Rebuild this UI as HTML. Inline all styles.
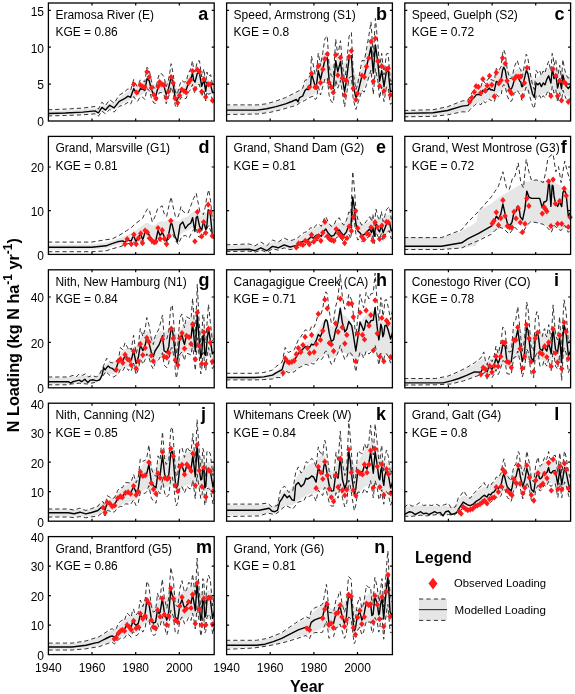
<!DOCTYPE html>
<html><head><meta charset="utf-8"><style>
html,body{margin:0;padding:0;background:#fff;}
svg{display:block;filter:blur(0.3px);}
text{font-family:"Liberation Sans",sans-serif;}
</style></head><body>
<svg width="575" height="694" viewBox="0 0 575 694">
<rect width="575" height="694" fill="#fff"/>

<g>
<clipPath id="cpa"><rect x="48.4" y="3.0" width="165.8" height="118.0"/></clipPath>
<g clip-path="url(#cpa)">
<polygon points="48.4,110.8 49.5,110.8 50.6,110.7 51.7,110.7 52.8,110.7 53.9,110.7 54.9,110.6 56.0,110.6 57.1,110.6 58.2,110.5 59.3,110.5 60.4,110.5 61.5,110.4 62.6,110.4 63.7,110.3 64.8,110.3 65.9,110.2 66.9,110.2 68.0,110.1 69.1,110.1 70.2,110.0 71.3,109.9 72.4,109.9 73.5,109.8 74.6,109.8 75.7,109.7 76.8,109.6 77.9,109.6 78.9,109.5 80.0,109.4 81.1,109.3 82.2,109.3 83.3,109.2 84.4,109.1 85.5,108.9 86.6,108.8 87.7,108.7 88.8,108.6 89.8,108.5 90.9,108.4 92.0,108.4 93.1,108.4 94.2,108.4 95.3,108.3 96.4,108.2 97.5,108.0 98.6,107.7 99.7,107.3 100.8,106.8 101.8,106.3 102.9,105.9 104.0,105.4 105.1,105.0 106.2,104.6 107.3,104.2 108.4,103.9 109.5,103.6 110.6,103.3 111.7,103.0 112.8,102.6 113.8,102.1 114.9,101.5 116.0,100.8 117.1,99.9 118.2,99.0 119.3,98.0 120.4,97.0 121.5,96.0 122.6,95.2 123.7,94.4 124.8,93.7 125.8,93.0 126.9,92.2 128.0,91.4 129.1,90.6 130.2,89.7 131.3,88.9 132.4,88.0 133.5,87.2 134.6,86.7 135.7,86.2 136.8,85.8 137.8,85.4 138.9,84.9 140.0,84.3 141.1,83.5 142.2,82.5 143.3,81.3 144.4,80.2 145.5,79.2 146.6,78.5 147.7,78.3 148.8,78.9 149.8,79.9 150.9,81.2 152.0,82.6 153.1,83.7 154.2,84.5 155.3,84.6 156.4,84.1 157.5,83.1 158.6,82.0 159.7,81.1 160.8,80.6 161.8,80.4 162.9,80.6 164.0,80.8 165.1,81.0 166.2,81.0 167.3,80.7 168.4,80.3 169.5,79.9 170.6,80.0 171.7,80.6 172.8,81.8 173.8,83.4 174.9,85.2 176.0,86.8 177.1,87.9 178.2,88.3 179.3,88.2 180.4,87.5 181.5,86.5 182.6,85.2 183.7,83.9 184.7,82.4 185.8,80.8 186.9,79.1 188.0,77.5 189.1,75.9 190.2,74.3 191.3,72.8 192.4,71.5 193.5,70.6 194.6,70.1 195.7,69.8 196.7,69.7 197.8,69.8 198.9,70.6 200.0,71.7 201.1,72.9 202.2,74.1 203.3,75.2 204.4,76.4 205.5,77.6 206.6,78.5 207.7,79.3 208.7,79.9 209.8,80.6 210.9,81.3 212.0,82.2 213.1,82.9 214.2,83.6 214.2,95.3 213.1,94.7 212.0,94.2 210.9,93.6 209.8,93.1 208.7,92.6 207.7,92.2 206.6,91.7 205.5,91.1 204.4,90.3 203.3,89.4 202.2,88.6 201.1,87.7 200.0,86.8 198.9,85.9 197.8,85.3 196.7,85.2 195.7,85.3 194.6,85.4 193.5,85.7 192.4,86.3 191.3,87.3 190.2,88.4 189.1,89.5 188.0,90.7 186.9,91.9 185.8,93.2 184.7,94.4 183.7,95.4 182.6,96.5 181.5,97.5 180.4,98.3 179.3,98.9 178.2,99.1 177.1,98.8 176.0,98.0 174.9,96.9 173.8,95.5 172.8,94.3 171.7,93.5 170.6,93.0 169.5,93.0 168.4,93.2 167.3,93.6 166.2,93.8 165.1,93.7 164.0,93.4 162.9,93.2 161.8,93.0 160.8,93.1 159.7,93.5 158.6,94.2 157.5,95.1 156.4,95.9 155.3,96.3 154.2,96.2 153.1,95.7 152.0,94.8 150.9,93.8 149.8,92.7 148.8,91.9 147.7,91.5 146.6,91.6 145.5,92.1 144.4,92.9 143.3,93.7 142.2,94.5 141.1,95.2 140.0,95.8 138.9,96.3 137.8,96.6 136.8,96.9 135.7,97.3 134.6,97.6 133.5,98.0 132.4,98.6 131.3,99.2 130.2,99.8 129.1,100.4 128.0,100.9 126.9,101.5 125.8,102.1 124.8,102.6 123.7,103.1 122.6,103.6 121.5,104.2 120.4,105.0 119.3,105.7 118.2,106.5 117.1,107.2 116.0,107.9 114.9,108.5 113.8,108.9 112.8,109.3 111.7,109.5 110.6,109.8 109.5,110.0 108.4,110.2 107.3,110.5 106.2,110.8 105.1,111.1 104.0,111.4 102.9,111.7 101.8,112.1 100.8,112.4 99.7,112.8 98.6,113.1 97.5,113.3 96.4,113.4 95.3,113.4 94.2,113.5 93.1,113.4 92.0,113.4 90.9,113.4 89.8,113.4 88.8,113.5 87.7,113.6 86.6,113.6 85.5,113.7 84.4,113.8 83.3,113.9 82.2,114.0 81.1,114.0 80.0,114.1 78.9,114.1 77.9,114.2 76.8,114.2 75.7,114.3 74.6,114.3 73.5,114.4 72.4,114.4 71.3,114.5 70.2,114.5 69.1,114.6 68.0,114.6 66.9,114.6 65.9,114.7 64.8,114.7 63.7,114.7 62.6,114.8 61.5,114.8 60.4,114.8 59.3,114.9 58.2,114.9 57.1,114.9 56.0,114.9 54.9,115.0 53.9,115.0 52.8,115.0 51.7,115.0 50.6,115.1 49.5,115.1 48.4,115.1" fill="#e6e6e6" stroke="none"/>
<polyline points="48.0,109.8 65.4,109.1 82.8,108.1 95.0,106.5 98.4,109.1 101.9,102.2 105.4,105.6 109.7,99.7 114.1,103.1 119.3,95.1 124.5,92.0 128.0,88.8 130.6,90.4 133.7,79.5 136.7,85.9 137.6,86.1 140.3,79.9 142.6,80.6 144.8,82.0 147.0,67.2 149.2,69.7 151.4,81.0 153.7,87.7 155.9,88.3 158.1,77.9 159.6,73.3 161.8,73.9 164.0,76.7 166.2,86.9 168.4,80.3 169.9,72.1 171.1,63.7 173.2,73.8 175.1,90.2 176.6,94.7 177.6,92.9 179.5,85.5 181.7,80.3 184.0,82.3 186.2,81.3 188.4,73.2 190.6,69.1 192.5,60.6 193.6,69.5 195.0,72.1 197.3,61.2 199.5,60.8 201.7,77.0 203.9,68.9 205.7,83.2 206.9,72.0 208.3,76.5 210.6,74.7 212.5,84.6 213.5,84.6 214.2,84.6" fill="none" stroke="#333" stroke-width="1" stroke-dasharray="4.3,2.9"/>
<polyline points="48.0,115.9 65.4,115.5 82.8,114.8 95.0,113.8 98.4,116.2 101.9,111.1 105.4,113.8 109.7,109.5 114.1,112.1 119.3,106.4 124.5,104.5 128.0,102.3 130.6,104.2 133.7,96.6 136.7,101.0 137.6,101.3 140.3,96.6 142.6,97.1 144.8,99.5 147.0,88.7 149.2,90.3 151.4,97.7 153.7,102.9 155.9,103.6 158.1,95.3 159.6,92.5 161.8,92.8 164.0,94.5 166.2,103.7 168.4,97.9 169.9,91.6 171.1,86.7 173.2,92.9 175.1,104.9 176.6,108.0 177.6,106.2 179.5,100.3 181.7,97.0 184.0,98.5 186.2,98.4 188.4,92.1 190.6,89.5 192.5,84.4 193.6,90.3 195.0,93.2 197.3,84.6 199.5,84.5 201.7,96.5 203.9,89.7 205.7,101.0 206.9,91.6 208.3,94.3 210.6,93.4 212.5,100.4 213.5,100.1 214.2,99.9" fill="none" stroke="#333" stroke-width="1" stroke-dasharray="4.3,2.9"/>
<polyline points="48.0,113.5 65.4,113.0 82.8,112.1 95.0,110.9 98.4,113.0 101.9,107.4 105.4,110.0 109.7,105.3 114.1,107.9 119.3,101.3 124.5,98.7 128.0,96.1 130.6,97.3 133.7,88.7 136.7,93.6 137.6,93.8 140.3,88.8 142.6,89.2 144.8,90.4 147.0,78.6 149.2,80.7 151.4,89.5 153.7,95.1 155.9,95.6 158.1,87.1 159.6,83.5 161.8,83.9 164.0,86.1 166.2,94.4 168.4,88.9 169.9,82.4 171.1,76.1 173.2,84.1 175.1,97.2 176.6,100.9 177.6,99.4 179.5,93.5 181.7,89.3 184.0,90.6 186.2,89.8 188.4,83.0 190.6,79.7 192.5,73.2 193.6,79.9 195.0,82.1 197.3,73.4 199.5,73.3 201.7,86.2 203.9,79.9 205.7,91.4 206.9,82.3 208.3,85.8 210.6,84.7 212.5,92.5 213.5,92.5 214.2,92.5" fill="none" stroke="#000" stroke-width="1.4" stroke-linejoin="round"/>
</g>
<path d="M133.7 81.2l2.7 3.1l-2.7 3.1l-2.7 -3.1z" fill="#ff1a1a"/>
<path d="M136.7 89.4l2.7 3.1l-2.7 3.1l-2.7 -3.1z" fill="#ff1a1a"/>
<path d="M140.3 82.0l2.7 3.1l-2.7 3.1l-2.7 -3.1z" fill="#ff1a1a"/>
<path d="M142.6 83.5l2.7 3.1l-2.7 3.1l-2.7 -3.1z" fill="#ff1a1a"/>
<path d="M144.8 84.2l2.7 3.1l-2.7 3.1l-2.7 -3.1z" fill="#ff1a1a"/>
<path d="M147.0 68.7l2.7 3.1l-2.7 3.1l-2.7 -3.1z" fill="#ff1a1a"/>
<path d="M149.2 73.9l2.7 3.1l-2.7 3.1l-2.7 -3.1z" fill="#ff1a1a"/>
<path d="M151.4 84.9l2.7 3.1l-2.7 3.1l-2.7 -3.1z" fill="#ff1a1a"/>
<path d="M153.7 91.6l2.7 3.1l-2.7 3.1l-2.7 -3.1z" fill="#ff1a1a"/>
<path d="M155.9 95.3l2.7 3.1l-2.7 3.1l-2.7 -3.1z" fill="#ff1a1a"/>
<path d="M158.1 83.5l2.7 3.1l-2.7 3.1l-2.7 -3.1z" fill="#ff1a1a"/>
<path d="M159.6 79.0l2.7 3.1l-2.7 3.1l-2.7 -3.1z" fill="#ff1a1a"/>
<path d="M161.8 81.2l2.7 3.1l-2.7 3.1l-2.7 -3.1z" fill="#ff1a1a"/>
<path d="M164.0 82.0l2.7 3.1l-2.7 3.1l-2.7 -3.1z" fill="#ff1a1a"/>
<path d="M166.2 94.6l2.7 3.1l-2.7 3.1l-2.7 -3.1z" fill="#ff1a1a"/>
<path d="M168.4 88.6l2.7 3.1l-2.7 3.1l-2.7 -3.1z" fill="#ff1a1a"/>
<path d="M171.1 73.9l2.7 3.1l-2.7 3.1l-2.7 -3.1z" fill="#ff1a1a"/>
<path d="M173.2 79.8l2.7 3.1l-2.7 3.1l-2.7 -3.1z" fill="#ff1a1a"/>
<path d="M175.1 95.3l2.7 3.1l-2.7 3.1l-2.7 -3.1z" fill="#ff1a1a"/>
<path d="M177.6 99.7l2.7 3.1l-2.7 3.1l-2.7 -3.1z" fill="#ff1a1a"/>
<path d="M179.5 92.3l2.7 3.1l-2.7 3.1l-2.7 -3.1z" fill="#ff1a1a"/>
<path d="M181.7 86.4l2.7 3.1l-2.7 3.1l-2.7 -3.1z" fill="#ff1a1a"/>
<path d="M184.0 87.9l2.7 3.1l-2.7 3.1l-2.7 -3.1z" fill="#ff1a1a"/>
<path d="M186.2 89.4l2.7 3.1l-2.7 3.1l-2.7 -3.1z" fill="#ff1a1a"/>
<path d="M188.4 79.8l2.7 3.1l-2.7 3.1l-2.7 -3.1z" fill="#ff1a1a"/>
<path d="M190.6 76.8l2.7 3.1l-2.7 3.1l-2.7 -3.1z" fill="#ff1a1a"/>
<path d="M192.5 67.9l2.7 3.1l-2.7 3.1l-2.7 -3.1z" fill="#ff1a1a"/>
<path d="M195.0 85.7l2.7 3.1l-2.7 3.1l-2.7 -3.1z" fill="#ff1a1a"/>
<path d="M197.3 66.5l2.7 3.1l-2.7 3.1l-2.7 -3.1z" fill="#ff1a1a"/>
<path d="M199.5 68.7l2.7 3.1l-2.7 3.1l-2.7 -3.1z" fill="#ff1a1a"/>
<path d="M201.7 88.6l2.7 3.1l-2.7 3.1l-2.7 -3.1z" fill="#ff1a1a"/>
<path d="M203.9 76.1l2.7 3.1l-2.7 3.1l-2.7 -3.1z" fill="#ff1a1a"/>
<path d="M205.7 93.8l2.7 3.1l-2.7 3.1l-2.7 -3.1z" fill="#ff1a1a"/>
<path d="M208.3 81.2l2.7 3.1l-2.7 3.1l-2.7 -3.1z" fill="#ff1a1a"/>
<path d="M210.6 81.2l2.7 3.1l-2.7 3.1l-2.7 -3.1z" fill="#ff1a1a"/>
<path d="M212.5 97.5l2.7 3.1l-2.7 3.1l-2.7 -3.1z" fill="#ff1a1a"/>
<rect x="48.4" y="3.0" width="165.8" height="118.0" fill="none" stroke="#000" stroke-width="1.3"/>
<path d="M92.0 121.0v-2.5M92.0 3.0v2.5M135.7 121.0v-2.5M135.7 3.0v2.5M179.3 121.0v-2.5M179.3 3.0v2.5M48.4 84.1h2.5M214.2 84.1h-2.5M48.4 47.2h2.5M214.2 47.2h-2.5M48.4 10.4h2.5M214.2 10.4h-2.5" stroke="#000" stroke-width="1.2" fill="none"/>
<text x="44" y="126.3" font-size="12" text-anchor="end">0</text>
<text x="44" y="89.4" font-size="12" text-anchor="end">5</text>
<text x="44" y="52.5" font-size="12" text-anchor="end">10</text>
<text x="44" y="15.7" font-size="12" text-anchor="end">15</text>
<text x="55.4" y="18.9" font-size="12">Eramosa River (E)</text>
<text x="55.4" y="36.3" font-size="12">KGE = 0.86</text>
<text x="198.3" y="19.5" font-size="18" font-weight="bold">a</text>
</g>
<g>
<clipPath id="cpb"><rect x="226.6" y="3.0" width="165.8" height="118.0"/></clipPath>
<g clip-path="url(#cpb)">
<polygon points="226.6,105.7 227.7,105.7 228.8,105.7 229.9,105.7 231.0,105.7 232.1,105.7 233.1,105.7 234.2,105.7 235.3,105.7 236.4,105.7 237.5,105.7 238.6,105.7 239.7,105.7 240.8,105.7 241.9,105.7 243.0,105.7 244.1,105.7 245.1,105.7 246.2,105.7 247.3,105.7 248.4,105.7 249.5,105.7 250.6,105.7 251.7,105.7 252.8,105.7 253.9,105.7 255.0,105.6 256.1,105.6 257.1,105.6 258.2,105.5 259.3,105.4 260.4,105.3 261.5,105.2 262.6,105.0 263.7,104.9 264.8,104.7 265.9,104.5 267.0,104.3 268.1,104.1 269.1,103.8 270.2,103.5 271.3,103.2 272.4,102.9 273.5,102.6 274.6,102.2 275.7,101.9 276.8,101.5 277.9,101.2 279.0,100.8 280.0,100.4 281.1,100.0 282.2,99.6 283.3,99.2 284.4,98.8 285.5,98.3 286.6,97.9 287.7,97.4 288.8,96.9 289.9,96.4 291.0,95.9 292.0,95.3 293.1,94.8 294.2,94.3 295.3,93.7 296.4,93.1 297.5,92.5 298.6,91.6 299.7,90.7 300.8,89.6 301.9,88.3 303.0,86.9 304.0,85.4 305.1,83.5 306.2,81.4 307.3,79.4 308.4,77.5 309.5,75.7 310.6,73.9 311.7,72.0 312.8,70.6 313.9,69.7 315.0,68.8 316.0,67.7 317.1,66.1 318.2,64.2 319.3,62.4 320.4,60.1 321.5,57.5 322.6,55.1 323.7,53.4 324.8,52.9 325.9,53.6 327.0,55.3 328.0,57.9 329.1,60.6 330.2,62.8 331.3,64.3 332.4,64.8 333.5,63.9 334.6,61.7 335.7,59.2 336.8,57.5 337.9,56.9 339.0,56.9 340.0,57.8 341.1,59.5 342.2,61.6 343.3,63.0 344.4,63.1 345.5,61.9 346.6,60.2 347.7,58.5 348.8,57.2 349.9,57.1 350.9,58.4 352.0,61.5 353.1,65.7 354.2,69.9 355.3,73.5 356.4,76.0 357.5,77.0 358.6,76.4 359.7,74.4 360.8,71.2 361.9,67.6 362.9,63.7 364.0,59.6 365.1,55.4 366.2,51.8 367.3,48.6 368.4,45.6 369.5,42.9 370.6,40.9 371.7,40.1 372.8,40.5 373.9,41.3 374.9,42.3 376.0,44.2 377.1,47.4 378.2,51.2 379.3,54.6 380.4,57.2 381.5,59.4 382.6,61.7 383.7,63.7 384.8,64.9 385.9,65.7 386.9,66.5 388.0,67.7 389.1,69.5 390.2,71.5 391.3,73.1 392.4,74.8 392.4,96.6 391.3,95.7 390.2,94.7 389.1,93.5 388.0,92.3 386.9,91.6 385.9,91.2 384.8,90.8 383.7,90.1 382.6,89.0 381.5,87.6 380.4,86.4 379.3,85.0 378.2,82.9 377.1,80.7 376.0,78.9 374.9,77.8 373.9,77.2 372.8,76.6 371.7,76.2 370.6,76.5 369.5,77.5 368.4,78.9 367.3,80.4 366.2,82.2 365.1,84.3 364.0,86.7 362.9,89.2 361.9,91.6 360.8,93.8 359.7,95.9 358.6,97.2 357.5,97.8 356.4,97.4 355.3,96.0 354.2,93.9 353.1,91.4 352.0,88.8 350.9,87.0 349.9,86.2 348.8,86.3 347.7,87.0 346.6,88.1 345.5,89.2 344.4,89.9 343.3,89.7 342.2,88.7 341.1,87.3 340.0,86.2 339.0,85.7 337.9,85.7 336.8,86.2 335.7,87.3 334.6,89.0 333.5,90.5 332.4,91.1 331.3,90.8 330.2,89.8 329.1,88.3 328.0,86.5 327.0,84.7 325.9,83.5 324.8,83.0 323.7,83.3 322.6,84.3 321.5,85.7 320.4,87.4 319.3,88.9 318.2,90.2 317.1,91.6 316.0,92.7 315.0,93.5 313.9,94.0 312.8,94.5 311.7,95.1 310.6,95.7 309.5,96.2 308.4,96.7 307.3,97.3 306.2,98.0 305.1,98.8 304.0,99.5 303.0,100.3 301.9,101.0 300.8,101.7 299.7,102.3 298.6,103.0 297.5,103.6 296.4,104.1 295.3,104.6 294.2,105.0 293.1,105.4 292.0,105.8 291.0,106.1 289.9,106.4 288.8,106.8 287.7,107.1 286.6,107.4 285.5,107.7 284.4,108.0 283.3,108.3 282.2,108.6 281.1,108.9 280.0,109.2 279.0,109.5 277.9,109.8 276.8,110.1 275.7,110.4 274.6,110.6 273.5,110.9 272.4,111.1 271.3,111.4 270.2,111.6 269.1,111.8 268.1,112.0 267.0,112.1 265.9,112.3 264.8,112.5 263.7,112.6 262.6,112.7 261.5,112.9 260.4,113.0 259.3,113.1 258.2,113.2 257.1,113.3 256.1,113.3 255.0,113.4 253.9,113.4 252.8,113.5 251.7,113.5 250.6,113.5 249.5,113.5 248.4,113.5 247.3,113.5 246.2,113.6 245.1,113.6 244.1,113.6 243.0,113.6 241.9,113.6 240.8,113.6 239.7,113.6 238.6,113.7 237.5,113.7 236.4,113.7 235.3,113.7 234.2,113.7 233.1,113.7 232.1,113.7 231.0,113.7 229.9,113.8 228.8,113.8 227.7,113.8 226.6,113.8" fill="#e6e6e6" stroke="none"/>
<polyline points="226.0,104.9 257.3,104.9 266.7,103.8 276.1,101.0 285.5,97.6 293.3,93.7 298.0,91.3 302.7,88.2 305.0,80.3 307.4,79.6 310.5,74.9 311.5,56.2 315.1,74.2 316.5,72.8 318.3,53.0 320.5,65.9 322.8,52.6 324.9,38.8 327.3,35.8 329.1,66.2 331.2,75.7 333.3,77.3 335.7,39.3 337.8,55.3 340.5,40.7 342.3,62.9 344.6,81.9 346.4,66.9 349.1,36.2 351.4,32.5 353.2,72.6 355.9,89.8 357.5,85.0 362.0,60.5 364.3,60.8 366.5,49.2 368.8,36.0 371.0,21.8 373.3,57.3 375.4,18.4 377.8,42.4 379.6,67.9 381.7,53.4 384.0,74.9 386.4,53.9 388.2,53.4 390.3,81.0 392.4,81.0" fill="none" stroke="#333" stroke-width="1" stroke-dasharray="4.3,2.9"/>
<polyline points="226.0,114.5 257.3,114.0 269.8,112.4 280.8,109.8 291.7,106.6 296.4,105.4 299.6,103.0 304.3,100.7 309.0,97.6 313.7,96.0 315.1,99.4 316.5,98.6 318.3,86.7 320.5,95.0 322.8,86.3 324.9,79.0 327.3,77.7 329.1,95.2 331.2,101.5 333.3,102.8 335.7,79.7 337.8,88.2 340.5,80.3 342.3,91.8 344.6,106.9 346.4,95.2 349.1,77.9 351.4,76.2 353.2,99.3 355.9,109.5 357.5,104.4 362.0,90.3 364.3,92.1 366.5,84.5 368.8,77.2 371.0,70.1 373.3,94.4 375.4,68.7 377.8,80.6 379.6,98.4 381.7,86.7 384.0,101.6 386.4,87.1 388.2,87.0 390.3,104.3 392.4,102.6" fill="none" stroke="#333" stroke-width="1" stroke-dasharray="4.3,2.9"/>
<polyline points="226.0,110.1 257.3,110.1 266.7,108.8 276.1,106.6 285.5,103.8 291.7,101.5 296.4,99.4 298.0,101.9 299.6,97.6 302.7,96.0 305.0,90.5 306.6,89.0 308.2,89.7 310.5,86.6 311.5,73.4 315.1,86.0 316.5,85.0 318.3,70.7 320.5,79.7 322.8,69.5 324.9,59.6 327.3,57.8 329.1,79.9 331.2,87.3 333.3,88.4 335.7,60.6 337.8,71.6 340.5,61.4 342.3,77.4 344.6,92.0 346.4,80.4 349.1,58.1 351.4,55.7 353.2,84.8 355.9,98.1 357.5,94.4 362.0,75.7 364.3,75.8 366.5,66.8 368.8,57.1 371.0,46.9 373.3,73.1 375.4,44.9 377.8,62.0 379.6,81.2 381.7,70.6 384.0,86.6 386.4,71.1 388.2,71.0 390.3,91.3 392.4,91.3" fill="none" stroke="#000" stroke-width="1.4" stroke-linejoin="round"/>
</g>
<path d="M309.3 84.1l2.7 3.1l-2.7 3.1l-2.7 -3.1z" fill="#ff1a1a"/>
<path d="M311.5 70.3l2.7 3.1l-2.7 3.1l-2.7 -3.1z" fill="#ff1a1a"/>
<path d="M315.1 84.1l2.7 3.1l-2.7 3.1l-2.7 -3.1z" fill="#ff1a1a"/>
<path d="M316.5 84.1l2.7 3.1l-2.7 3.1l-2.7 -3.1z" fill="#ff1a1a"/>
<path d="M318.3 63.1l2.7 3.1l-2.7 3.1l-2.7 -3.1z" fill="#ff1a1a"/>
<path d="M320.5 79.6l2.7 3.1l-2.7 3.1l-2.7 -3.1z" fill="#ff1a1a"/>
<path d="M322.8 66.2l2.7 3.1l-2.7 3.1l-2.7 -3.1z" fill="#ff1a1a"/>
<path d="M324.9 56.0l2.7 3.1l-2.7 3.1l-2.7 -3.1z" fill="#ff1a1a"/>
<path d="M327.3 50.9l2.7 3.1l-2.7 3.1l-2.7 -3.1z" fill="#ff1a1a"/>
<path d="M329.1 79.6l2.7 3.1l-2.7 3.1l-2.7 -3.1z" fill="#ff1a1a"/>
<path d="M331.2 84.1l2.7 3.1l-2.7 3.1l-2.7 -3.1z" fill="#ff1a1a"/>
<path d="M333.3 89.4l2.7 3.1l-2.7 3.1l-2.7 -3.1z" fill="#ff1a1a"/>
<path d="M335.7 51.8l2.7 3.1l-2.7 3.1l-2.7 -3.1z" fill="#ff1a1a"/>
<path d="M337.8 72.1l2.7 3.1l-2.7 3.1l-2.7 -3.1z" fill="#ff1a1a"/>
<path d="M340.5 54.5l2.7 3.1l-2.7 3.1l-2.7 -3.1z" fill="#ff1a1a"/>
<path d="M342.3 75.1l2.7 3.1l-2.7 3.1l-2.7 -3.1z" fill="#ff1a1a"/>
<path d="M344.6 92.1l2.7 3.1l-2.7 3.1l-2.7 -3.1z" fill="#ff1a1a"/>
<path d="M346.4 77.4l2.7 3.1l-2.7 3.1l-2.7 -3.1z" fill="#ff1a1a"/>
<path d="M349.1 53.6l2.7 3.1l-2.7 3.1l-2.7 -3.1z" fill="#ff1a1a"/>
<path d="M351.4 47.7l2.7 3.1l-2.7 3.1l-2.7 -3.1z" fill="#ff1a1a"/>
<path d="M353.2 85.3l2.7 3.1l-2.7 3.1l-2.7 -3.1z" fill="#ff1a1a"/>
<path d="M355.9 96.6l2.7 3.1l-2.7 3.1l-2.7 -3.1z" fill="#ff1a1a"/>
<path d="M357.5 90.3l2.7 3.1l-2.7 3.1l-2.7 -3.1z" fill="#ff1a1a"/>
<path d="M362.0 72.4l2.7 3.1l-2.7 3.1l-2.7 -3.1z" fill="#ff1a1a"/>
<path d="M364.3 73.9l2.7 3.1l-2.7 3.1l-2.7 -3.1z" fill="#ff1a1a"/>
<path d="M366.5 63.5l2.7 3.1l-2.7 3.1l-2.7 -3.1z" fill="#ff1a1a"/>
<path d="M368.8 54.9l2.7 3.1l-2.7 3.1l-2.7 -3.1z" fill="#ff1a1a"/>
<path d="M371.0 38.4l2.7 3.1l-2.7 3.1l-2.7 -3.1z" fill="#ff1a1a"/>
<path d="M373.3 78.2l2.7 3.1l-2.7 3.1l-2.7 -3.1z" fill="#ff1a1a"/>
<path d="M375.4 35.2l2.7 3.1l-2.7 3.1l-2.7 -3.1z" fill="#ff1a1a"/>
<path d="M377.8 58.1l2.7 3.1l-2.7 3.1l-2.7 -3.1z" fill="#ff1a1a"/>
<path d="M379.6 82.8l2.7 3.1l-2.7 3.1l-2.7 -3.1z" fill="#ff1a1a"/>
<path d="M381.7 63.1l2.7 3.1l-2.7 3.1l-2.7 -3.1z" fill="#ff1a1a"/>
<path d="M384.0 88.0l2.7 3.1l-2.7 3.1l-2.7 -3.1z" fill="#ff1a1a"/>
<path d="M386.4 66.2l2.7 3.1l-2.7 3.1l-2.7 -3.1z" fill="#ff1a1a"/>
<path d="M388.2 65.3l2.7 3.1l-2.7 3.1l-2.7 -3.1z" fill="#ff1a1a"/>
<path d="M390.3 91.8l2.7 3.1l-2.7 3.1l-2.7 -3.1z" fill="#ff1a1a"/>
<rect x="226.6" y="3.0" width="165.8" height="118.0" fill="none" stroke="#000" stroke-width="1.3"/>
<path d="M270.2 121.0v-2.5M270.2 3.0v2.5M313.9 121.0v-2.5M313.9 3.0v2.5M357.5 121.0v-2.5M357.5 3.0v2.5M226.6 84.1h2.5M392.4 84.1h-2.5M226.6 47.2h2.5M392.4 47.2h-2.5M226.6 10.4h2.5M392.4 10.4h-2.5" stroke="#000" stroke-width="1.2" fill="none"/>
<text x="233.6" y="18.9" font-size="12">Speed, Armstrong (S1)</text>
<text x="233.6" y="36.3" font-size="12">KGE = 0.8</text>
<text x="376.0" y="19.5" font-size="18" font-weight="bold">b</text>
</g>
<g>
<clipPath id="cpc"><rect x="404.8" y="3.0" width="165.8" height="118.0"/></clipPath>
<g clip-path="url(#cpc)">
<polygon points="404.8,110.8 405.9,110.8 407.0,110.8 408.1,110.8 409.2,110.8 410.3,110.8 411.3,110.7 412.4,110.7 413.5,110.7 414.6,110.7 415.7,110.6 416.8,110.6 417.9,110.6 419.0,110.5 420.1,110.5 421.2,110.5 422.3,110.5 423.3,110.4 424.4,110.4 425.5,110.4 426.6,110.3 427.7,110.3 428.8,110.3 429.9,110.2 431.0,110.2 432.1,110.1 433.2,110.0 434.3,109.8 435.3,109.7 436.4,109.5 437.5,109.3 438.6,109.1 439.7,108.9 440.8,108.6 441.9,108.4 443.0,108.2 444.1,107.9 445.2,107.7 446.2,107.4 447.3,107.1 448.4,106.8 449.5,106.4 450.6,106.1 451.7,105.7 452.8,105.3 453.9,104.9 455.0,104.5 456.1,104.1 457.2,103.7 458.2,103.3 459.3,102.9 460.4,102.6 461.5,102.2 462.6,101.9 463.7,101.5 464.8,101.1 465.9,100.5 467.0,99.8 468.1,98.8 469.2,97.7 470.2,96.4 471.3,95.0 472.4,93.6 473.5,92.2 474.6,90.9 475.7,89.8 476.8,88.7 477.9,87.8 479.0,87.1 480.1,86.4 481.2,85.7 482.2,85.0 483.3,84.3 484.4,83.7 485.5,83.1 486.6,82.5 487.7,82.0 488.8,81.6 489.9,81.0 491.0,80.4 492.1,79.7 493.2,78.8 494.2,77.6 495.3,76.1 496.4,74.2 497.5,72.2 498.6,70.0 499.7,67.9 500.8,66.0 501.9,64.4 503.0,63.7 504.1,63.8 505.2,64.9 506.2,66.7 507.3,68.8 508.4,70.8 509.5,72.5 510.6,73.4 511.7,73.6 512.8,72.9 513.9,71.8 515.0,70.7 516.1,69.8 517.2,69.3 518.2,69.1 519.3,69.2 520.4,69.2 521.5,69.1 522.6,68.7 523.7,68.1 524.8,67.6 525.9,67.5 527.0,68.1 528.1,69.5 529.1,71.5 530.2,73.6 531.3,75.9 532.4,77.8 533.5,79.0 534.6,79.3 535.7,78.8 536.8,77.9 537.9,77.0 539.0,76.0 540.1,75.1 541.1,74.3 542.2,73.5 543.3,72.7 544.4,72.1 545.5,71.1 546.6,69.8 547.7,68.6 548.8,67.5 549.9,66.7 551.0,66.2 552.1,65.8 553.1,65.9 554.2,66.6 555.3,67.6 556.4,68.6 557.5,69.5 558.6,70.0 559.7,70.7 560.8,71.3 561.9,71.8 563.0,72.1 564.1,72.7 565.1,73.4 566.2,74.3 567.3,75.1 568.4,75.7 569.5,76.3 570.6,76.9 570.6,96.8 569.5,96.4 568.4,96.2 567.3,95.8 566.2,95.3 565.1,94.8 564.1,94.5 563.0,94.2 561.9,94.1 560.8,93.9 559.7,93.5 558.6,93.1 557.5,92.8 556.4,92.3 555.3,91.6 554.2,91.0 553.1,90.5 552.1,90.4 551.0,90.6 549.9,90.8 548.8,91.2 547.7,91.8 546.6,92.5 545.5,93.2 544.4,93.7 543.3,94.0 542.2,94.4 541.1,95.0 540.1,95.5 539.0,96.2 537.9,96.9 536.8,97.6 535.7,98.3 534.6,98.7 533.5,98.6 532.4,97.9 531.3,96.7 530.2,95.2 529.1,93.8 528.1,92.6 527.0,91.6 525.9,91.2 524.8,91.2 523.7,91.5 522.6,91.9 521.5,92.1 520.4,92.1 519.3,92.0 518.2,92.0 517.2,92.0 516.1,92.4 515.0,92.9 513.9,93.7 512.8,94.5 511.7,95.0 510.6,95.0 509.5,94.5 508.4,93.5 507.3,92.3 506.2,91.0 505.2,89.9 504.1,89.2 503.0,89.0 501.9,89.5 500.8,90.4 499.7,91.6 498.6,92.8 497.5,94.1 496.4,95.2 495.3,96.2 494.2,97.1 493.2,97.7 492.1,98.1 491.0,98.5 489.9,98.8 488.8,99.1 487.7,99.4 486.6,99.7 485.5,100.1 484.4,100.4 483.3,100.8 482.2,101.2 481.2,101.6 480.1,102.0 479.0,102.4 477.9,102.8 476.8,103.3 475.7,103.9 474.6,104.6 473.5,105.4 472.4,106.2 471.3,107.1 470.2,108.0 469.2,108.8 468.1,109.5 467.0,110.0 465.9,110.4 464.8,110.7 463.7,111.0 462.6,111.1 461.5,111.3 460.4,111.4 459.3,111.6 458.2,111.8 457.2,112.0 456.1,112.3 455.0,112.5 453.9,112.7 452.8,113.0 451.7,113.2 450.6,113.4 449.5,113.7 448.4,113.9 447.3,114.1 446.2,114.2 445.2,114.4 444.1,114.5 443.0,114.7 441.9,114.8 440.8,115.0 439.7,115.1 438.6,115.2 437.5,115.3 436.4,115.5 435.3,115.6 434.3,115.7 433.2,115.7 432.1,115.8 431.0,115.9 429.9,115.9 428.8,115.9 427.7,116.0 426.6,116.0 425.5,116.0 424.4,116.0 423.3,116.0 422.3,116.0 421.2,116.1 420.1,116.1 419.0,116.1 417.9,116.1 416.8,116.1 415.7,116.1 414.6,116.2 413.5,116.2 412.4,116.2 411.3,116.2 410.3,116.2 409.2,116.2 408.1,116.2 407.0,116.3 405.9,116.3 404.8,116.3" fill="#e6e6e6" stroke="none"/>
<polyline points="404.0,110.5 433.0,109.7 447.6,106.7 462.1,101.0 468.0,100.1 469.8,96.7 471.9,92.9 474.3,89.6 475.2,88.0 476.1,86.4 478.4,85.7 480.9,86.9 482.9,80.2 485.4,83.5 487.2,80.5 489.5,77.2 490.4,79.8 491.8,79.7 493.1,80.6 494.3,80.9 496.3,68.3 498.8,70.8 501.1,66.7 502.6,53.5 503.8,49.6 505.3,54.2 507.1,68.5 509.6,78.5 511.5,78.6 512.8,74.4 514.2,67.1 516.0,62.9 517.3,60.4 518.7,65.3 519.9,68.8 520.8,69.8 521.7,75.6 522.6,75.6 523.5,70.2 524.4,65.2 526.2,54.2 527.1,55.7 528.0,58.9 529.8,71.0 532.5,85.0 534.3,89.6 536.1,70.3 537.9,73.1 539.7,70.7 541.4,75.7 543.2,70.9 545.0,73.3 546.8,66.2 548.6,61.3 550.9,71.0 552.2,53.3 553.1,56.8 554.0,65.3 555.8,59.6 557.6,77.7 559.7,65.2 561.5,78.5 562.9,59.5 564.2,67.4 566.0,74.8 568.3,78.3 571.0,73.1" fill="none" stroke="#333" stroke-width="1" stroke-dasharray="4.3,2.9"/>
<polyline points="404.0,116.8 433.0,116.4 447.6,114.8 462.1,111.8 468.0,112.0 469.8,109.8 471.9,107.5 474.3,105.6 475.2,104.8 476.1,103.9 478.4,103.5 480.9,104.8 482.9,100.7 485.4,102.9 487.2,100.7 489.5,99.0 490.4,100.3 491.8,100.5 493.1,101.3 494.3,101.9 496.3,94.4 498.8,96.6 501.1,95.0 502.6,86.4 503.8,84.5 505.3,86.9 507.1,95.5 509.6,101.4 511.5,101.1 512.8,98.2 514.2,93.6 516.0,91.5 517.3,90.2 518.7,92.6 519.9,94.4 520.8,95.1 521.7,100.1 522.6,100.3 523.5,95.9 524.4,92.5 526.2,87.0 527.1,87.8 528.0,89.3 529.8,96.5 532.5,105.5 534.3,108.6 536.1,95.6 537.9,96.8 539.7,95.6 541.4,99.0 543.2,95.6 545.0,97.8 546.8,93.1 548.6,90.6 550.9,98.2 552.2,86.5 553.1,88.3 554.0,93.2 555.8,89.7 557.6,102.3 559.7,92.7 561.5,102.1 562.9,90.0 564.2,93.8 566.0,98.5 568.3,100.9 571.0,96.8" fill="none" stroke="#333" stroke-width="1" stroke-dasharray="4.3,2.9"/>
<polyline points="404.0,113.4 433.0,112.8 447.6,110.5 462.1,106.1 468.0,105.4 469.8,102.7 471.9,99.8 474.3,97.3 475.2,96.1 476.1,94.9 478.4,94.3 480.9,95.2 482.9,90.3 485.4,92.6 487.2,90.3 489.5,87.9 490.4,89.7 491.8,89.7 493.1,90.4 494.3,90.6 496.3,81.4 498.8,82.8 501.1,79.7 502.6,70.0 503.8,67.2 505.3,70.5 507.1,81.1 509.6,88.8 511.5,88.8 512.8,85.6 514.2,80.1 516.0,77.1 517.3,75.3 518.7,78.8 519.9,81.3 520.8,82.1 521.7,86.5 522.6,86.5 523.5,82.4 524.4,78.6 526.2,70.8 527.1,71.8 528.0,74.1 529.8,83.0 532.5,93.7 534.3,97.3 536.1,83.0 537.9,84.8 539.7,83.0 541.4,86.6 543.2,83.0 545.0,84.8 546.8,79.4 548.6,75.8 550.9,83.0 552.2,70.1 553.1,72.5 554.0,78.6 555.8,74.6 557.6,88.1 559.7,78.8 561.5,88.8 562.9,75.0 564.2,80.5 566.0,85.9 568.3,88.6 571.0,84.8" fill="none" stroke="#000" stroke-width="1.4" stroke-linejoin="round"/>
</g>
<path d="M469.8 98.7l2.7 3.1l-2.7 3.1l-2.7 -3.1z" fill="#ff1a1a"/>
<path d="M471.9 94.6l2.7 3.1l-2.7 3.1l-2.7 -3.1z" fill="#ff1a1a"/>
<path d="M474.3 88.8l2.7 3.1l-2.7 3.1l-2.7 -3.1z" fill="#ff1a1a"/>
<path d="M476.1 83.1l2.7 3.1l-2.7 3.1l-2.7 -3.1z" fill="#ff1a1a"/>
<path d="M478.4 83.8l2.7 3.1l-2.7 3.1l-2.7 -3.1z" fill="#ff1a1a"/>
<path d="M480.9 89.7l2.7 3.1l-2.7 3.1l-2.7 -3.1z" fill="#ff1a1a"/>
<path d="M482.9 76.0l2.7 3.1l-2.7 3.1l-2.7 -3.1z" fill="#ff1a1a"/>
<path d="M485.4 87.4l2.7 3.1l-2.7 3.1l-2.7 -3.1z" fill="#ff1a1a"/>
<path d="M487.2 82.6l2.7 3.1l-2.7 3.1l-2.7 -3.1z" fill="#ff1a1a"/>
<path d="M489.5 72.7l2.7 3.1l-2.7 3.1l-2.7 -3.1z" fill="#ff1a1a"/>
<path d="M491.8 81.7l2.7 3.1l-2.7 3.1l-2.7 -3.1z" fill="#ff1a1a"/>
<path d="M494.3 93.3l2.7 3.1l-2.7 3.1l-2.7 -3.1z" fill="#ff1a1a"/>
<path d="M496.3 69.5l2.7 3.1l-2.7 3.1l-2.7 -3.1z" fill="#ff1a1a"/>
<path d="M498.8 80.4l2.7 3.1l-2.7 3.1l-2.7 -3.1z" fill="#ff1a1a"/>
<path d="M501.1 77.2l2.7 3.1l-2.7 3.1l-2.7 -3.1z" fill="#ff1a1a"/>
<path d="M502.6 54.8l2.7 3.1l-2.7 3.1l-2.7 -3.1z" fill="#ff1a1a"/>
<path d="M505.3 60.5l2.7 3.1l-2.7 3.1l-2.7 -3.1z" fill="#ff1a1a"/>
<path d="M507.1 77.7l2.7 3.1l-2.7 3.1l-2.7 -3.1z" fill="#ff1a1a"/>
<path d="M509.6 87.4l2.7 3.1l-2.7 3.1l-2.7 -3.1z" fill="#ff1a1a"/>
<path d="M511.5 90.3l2.7 3.1l-2.7 3.1l-2.7 -3.1z" fill="#ff1a1a"/>
<path d="M514.2 76.0l2.7 3.1l-2.7 3.1l-2.7 -3.1z" fill="#ff1a1a"/>
<path d="M516.0 73.6l2.7 3.1l-2.7 3.1l-2.7 -3.1z" fill="#ff1a1a"/>
<path d="M518.7 73.6l2.7 3.1l-2.7 3.1l-2.7 -3.1z" fill="#ff1a1a"/>
<path d="M520.8 73.6l2.7 3.1l-2.7 3.1l-2.7 -3.1z" fill="#ff1a1a"/>
<path d="M522.6 92.8l2.7 3.1l-2.7 3.1l-2.7 -3.1z" fill="#ff1a1a"/>
<path d="M524.4 79.9l2.7 3.1l-2.7 3.1l-2.7 -3.1z" fill="#ff1a1a"/>
<path d="M527.1 64.7l2.7 3.1l-2.7 3.1l-2.7 -3.1z" fill="#ff1a1a"/>
<path d="M550.9 92.8l2.7 3.1l-2.7 3.1l-2.7 -3.1z" fill="#ff1a1a"/>
<path d="M553.1 65.9l2.7 3.1l-2.7 3.1l-2.7 -3.1z" fill="#ff1a1a"/>
<path d="M555.8 72.7l2.7 3.1l-2.7 3.1l-2.7 -3.1z" fill="#ff1a1a"/>
<path d="M557.6 92.8l2.7 3.1l-2.7 3.1l-2.7 -3.1z" fill="#ff1a1a"/>
<path d="M559.7 77.7l2.7 3.1l-2.7 3.1l-2.7 -3.1z" fill="#ff1a1a"/>
<path d="M561.5 97.4l2.7 3.1l-2.7 3.1l-2.7 -3.1z" fill="#ff1a1a"/>
<path d="M564.2 79.0l2.7 3.1l-2.7 3.1l-2.7 -3.1z" fill="#ff1a1a"/>
<path d="M566.0 80.8l2.7 3.1l-2.7 3.1l-2.7 -3.1z" fill="#ff1a1a"/>
<path d="M568.3 98.7l2.7 3.1l-2.7 3.1l-2.7 -3.1z" fill="#ff1a1a"/>
<rect x="404.8" y="3.0" width="165.8" height="118.0" fill="none" stroke="#000" stroke-width="1.3"/>
<path d="M448.4 121.0v-2.5M448.4 3.0v2.5M492.1 121.0v-2.5M492.1 3.0v2.5M535.7 121.0v-2.5M535.7 3.0v2.5M404.8 84.1h2.5M570.6 84.1h-2.5M404.8 47.2h2.5M570.6 47.2h-2.5M404.8 10.4h2.5M570.6 10.4h-2.5" stroke="#000" stroke-width="1.2" fill="none"/>
<text x="411.8" y="18.9" font-size="12">Speed, Guelph (S2)</text>
<text x="411.8" y="36.3" font-size="12">KGE = 0.72</text>
<text x="554.5" y="19.5" font-size="18" font-weight="bold">c</text>
</g>
<g>
<clipPath id="cpd"><rect x="48.4" y="136.4" width="165.8" height="118.0"/></clipPath>
<g clip-path="url(#cpd)">
<polygon points="48.4,244.4 49.5,244.4 50.6,244.4 51.7,244.4 52.8,244.4 53.9,244.4 54.9,244.4 56.0,244.4 57.1,244.4 58.2,244.4 59.3,244.4 60.4,244.4 61.5,244.4 62.6,244.4 63.7,244.4 64.8,244.4 65.9,244.4 66.9,244.4 68.0,244.4 69.1,244.4 70.2,244.4 71.3,244.4 72.4,244.4 73.5,244.4 74.6,244.4 75.7,244.4 76.8,244.4 77.9,244.4 78.9,244.4 80.0,244.4 81.1,244.4 82.2,244.4 83.3,244.4 84.4,244.4 85.5,244.4 86.6,244.4 87.7,244.4 88.8,244.4 89.8,244.4 90.9,244.3 92.0,244.2 93.1,244.1 94.2,244.0 95.3,243.9 96.4,243.8 97.5,243.6 98.6,243.5 99.7,243.3 100.8,243.2 101.8,243.0 102.9,242.9 104.0,242.7 105.1,242.5 106.2,242.3 107.3,242.1 108.4,241.8 109.5,241.6 110.6,241.3 111.7,240.9 112.8,240.6 113.8,240.2 114.9,239.8 116.0,239.3 117.1,238.9 118.2,238.5 119.3,238.1 120.4,237.7 121.5,237.2 122.6,236.8 123.7,236.4 124.8,236.0 125.8,235.5 126.9,235.0 128.0,234.5 129.1,233.9 130.2,233.4 131.3,232.8 132.4,232.2 133.5,231.5 134.6,230.9 135.7,230.3 136.8,229.7 137.8,229.0 138.9,228.3 140.0,227.5 141.1,226.6 142.2,225.7 143.3,224.7 144.4,223.8 145.5,223.2 146.6,223.0 147.7,223.1 148.8,223.5 149.8,224.1 150.9,224.7 152.0,225.2 153.1,225.4 154.2,225.2 155.3,224.6 156.4,223.7 157.5,222.7 158.6,221.9 159.7,221.4 160.8,221.2 161.8,221.2 162.9,221.5 164.0,221.6 165.1,221.5 166.2,221.1 167.3,220.3 168.4,219.5 169.5,218.7 170.6,218.3 171.7,218.3 172.8,218.8 173.8,219.6 174.9,220.4 176.0,221.0 177.1,221.4 178.2,221.2 179.3,220.7 180.4,219.9 181.5,219.2 182.6,218.6 183.7,218.1 184.7,217.7 185.8,217.3 186.9,216.8 188.0,216.2 189.1,215.3 190.2,214.2 191.3,213.0 192.4,211.9 193.5,211.2 194.6,210.9 195.7,211.0 196.7,211.5 197.8,212.4 198.9,213.7 200.0,214.8 201.1,215.4 202.2,215.4 203.3,214.9 204.4,214.1 205.5,213.1 206.6,212.2 207.7,211.7 208.7,211.7 209.8,212.4 210.9,213.7 212.0,215.5 213.1,217.3 214.2,219.2 214.2,231.7 213.1,230.5 212.0,229.3 210.9,228.1 209.8,227.2 208.7,226.8 207.7,226.8 206.6,227.2 205.5,227.8 204.4,228.5 203.3,229.2 202.2,229.8 201.1,230.1 200.0,230.0 198.9,229.5 197.8,228.9 196.7,228.3 195.7,228.0 194.6,227.9 193.5,228.0 192.4,228.3 191.3,228.8 190.2,229.5 189.1,230.1 188.0,230.5 186.9,230.9 185.8,231.3 184.7,231.7 183.7,232.2 182.6,232.9 181.5,233.8 180.4,234.7 179.3,235.6 178.2,236.2 177.1,236.5 176.0,236.4 174.9,236.1 173.8,235.7 172.8,235.3 171.7,235.2 170.6,235.4 169.5,236.0 168.4,236.8 167.3,237.6 166.2,238.3 165.1,238.8 164.0,238.9 162.9,238.9 161.8,238.7 160.8,238.6 159.7,238.6 158.6,238.7 157.5,239.0 156.4,239.4 155.3,239.7 154.2,239.9 153.1,239.9 152.0,239.7 150.9,239.3 149.8,238.8 148.8,238.2 147.7,237.8 146.6,237.6 145.5,237.5 144.4,237.7 143.3,238.0 142.2,238.4 141.1,238.8 140.0,239.2 138.9,239.5 137.8,239.9 136.8,240.1 135.7,240.4 134.6,240.6 133.5,240.8 132.4,241.1 131.3,241.4 130.2,241.7 129.1,241.9 128.0,242.2 126.9,242.6 125.8,242.9 124.8,243.2 123.7,243.4 122.6,243.7 121.5,244.0 120.4,244.2 119.3,244.5 118.2,244.8 117.1,245.1 116.0,245.4 114.9,245.7 113.8,246.0 112.8,246.3 111.7,246.7 110.6,247.0 109.5,247.3 108.4,247.6 107.3,247.9 106.2,248.2 105.1,248.4 104.0,248.6 102.9,248.7 101.8,248.9 100.8,249.0 99.7,249.1 98.6,249.1 97.5,249.2 96.4,249.3 95.3,249.4 94.2,249.5 93.1,249.5 92.0,249.6 90.9,249.6 89.8,249.6 88.8,249.7 87.7,249.7 86.6,249.7 85.5,249.7 84.4,249.7 83.3,249.7 82.2,249.7 81.1,249.7 80.0,249.7 78.9,249.7 77.9,249.7 76.8,249.7 75.7,249.7 74.6,249.7 73.5,249.7 72.4,249.7 71.3,249.7 70.2,249.7 69.1,249.7 68.0,249.7 66.9,249.7 65.9,249.7 64.8,249.7 63.7,249.7 62.6,249.7 61.5,249.7 60.4,249.7 59.3,249.7 58.2,249.7 57.1,249.7 56.0,249.7 54.9,249.7 53.9,249.7 52.8,249.7 51.7,249.7 50.6,249.7 49.5,249.7 48.4,249.7" fill="#e6e6e6" stroke="none"/>
<polyline points="48.0,242.1 91.6,242.1 106.1,239.7 112.0,239.0 119.2,235.4 126.3,230.9 131.7,227.3 135.3,223.7 138.9,221.1 142.5,218.4 146.0,211.2 147.8,208.5 149.6,211.2 152.3,221.9 155.0,216.6 157.7,208.5 159.5,207.6 162.2,205.8 163.9,213.0 166.6,216.6 169.3,204.0 171.1,196.9 172.9,205.8 175.6,217.5 178.3,216.6 181.0,206.7 182.8,211.2 185.4,213.0 188.1,213.0 190.8,205.8 193.5,198.7 196.2,193.3 198.0,202.2 199.8,211.2 201.6,213.0 203.4,214.8 205.1,207.6 206.9,196.9 208.7,189.7 210.5,200.5 212.3,218.4 215.0,221.9" fill="none" stroke="#333" stroke-width="1" stroke-dasharray="4.3,2.9"/>
<polyline points="48.0,251.7 91.6,251.7 106.1,250.8 112.0,248.8 119.2,247.0 126.3,244.3 131.7,242.5 137.1,241.7 142.5,240.8 147.8,238.1 151.4,243.4 155.0,241.7 158.6,239.9 162.2,241.7 165.7,244.3 169.3,238.1 172.9,234.5 175.6,240.8 178.3,244.3 181.9,236.3 185.4,235.4 189.0,238.1 192.6,230.9 196.2,227.3 198.0,236.3 201.6,238.1 205.1,230.9 208.7,225.5 211.4,232.7 215.0,241.7" fill="none" stroke="#333" stroke-width="1" stroke-dasharray="4.3,2.9"/>
<polyline points="48.0,247.2 91.6,247.2 106.1,245.8 112.0,243.6 117.4,241.8 122.7,240.9 124.9,242.2 126.3,240.6 127.2,239.4 129.9,240.8 131.3,240.8 132.6,237.4 133.9,236.1 135.3,240.0 136.2,241.1 138.5,237.4 140.7,234.0 142.5,239.4 143.3,238.4 145.1,231.7 146.0,230.9 147.3,231.1 149.6,236.0 151.8,239.3 154.1,241.3 155.0,242.2 155.9,240.2 158.0,230.6 160.0,235.3 161.3,234.0 162.2,232.1 164.5,237.1 166.6,241.6 169.0,232.8 170.8,223.4 172.0,223.9 174.7,235.5 177.4,241.8 180.1,224.8 182.8,222.1 185.4,228.4 188.1,224.8 190.8,223.0 192.6,217.6 194.9,231.5 196.2,217.6 197.4,216.2 199.4,225.7 201.6,230.6 203.7,220.6 205.7,229.5 206.6,228.7 208.2,209.8 210.2,213.3 212.3,234.8 215.0,239.1" fill="none" stroke="#000" stroke-width="1.4" stroke-linejoin="round"/>
</g>
<path d="M124.9 241.0l2.7 3.1l-2.7 3.1l-2.7 -3.1z" fill="#ff1a1a"/>
<path d="M127.2 236.0l2.7 3.1l-2.7 3.1l-2.7 -3.1z" fill="#ff1a1a"/>
<path d="M131.3 241.0l2.7 3.1l-2.7 3.1l-2.7 -3.1z" fill="#ff1a1a"/>
<path d="M133.9 231.5l2.7 3.1l-2.7 3.1l-2.7 -3.1z" fill="#ff1a1a"/>
<path d="M136.2 241.0l2.7 3.1l-2.7 3.1l-2.7 -3.1z" fill="#ff1a1a"/>
<path d="M138.5 235.1l2.7 3.1l-2.7 3.1l-2.7 -3.1z" fill="#ff1a1a"/>
<path d="M140.7 230.3l2.7 3.1l-2.7 3.1l-2.7 -3.1z" fill="#ff1a1a"/>
<path d="M142.5 240.0l2.7 3.1l-2.7 3.1l-2.7 -3.1z" fill="#ff1a1a"/>
<path d="M145.1 227.4l2.7 3.1l-2.7 3.1l-2.7 -3.1z" fill="#ff1a1a"/>
<path d="M147.3 229.2l2.7 3.1l-2.7 3.1l-2.7 -3.1z" fill="#ff1a1a"/>
<path d="M149.6 235.1l2.7 3.1l-2.7 3.1l-2.7 -3.1z" fill="#ff1a1a"/>
<path d="M151.8 237.4l2.7 3.1l-2.7 3.1l-2.7 -3.1z" fill="#ff1a1a"/>
<path d="M154.1 239.2l2.7 3.1l-2.7 3.1l-2.7 -3.1z" fill="#ff1a1a"/>
<path d="M155.9 238.7l2.7 3.1l-2.7 3.1l-2.7 -3.1z" fill="#ff1a1a"/>
<path d="M158.0 224.9l2.7 3.1l-2.7 3.1l-2.7 -3.1z" fill="#ff1a1a"/>
<path d="M160.0 235.7l2.7 3.1l-2.7 3.1l-2.7 -3.1z" fill="#ff1a1a"/>
<path d="M162.2 227.1l2.7 3.1l-2.7 3.1l-2.7 -3.1z" fill="#ff1a1a"/>
<path d="M164.5 235.7l2.7 3.1l-2.7 3.1l-2.7 -3.1z" fill="#ff1a1a"/>
<path d="M166.6 241.0l2.7 3.1l-2.7 3.1l-2.7 -3.1z" fill="#ff1a1a"/>
<path d="M169.0 232.8l2.7 3.1l-2.7 3.1l-2.7 -3.1z" fill="#ff1a1a"/>
<path d="M170.8 217.7l2.7 3.1l-2.7 3.1l-2.7 -3.1z" fill="#ff1a1a"/>
<path d="M194.9 238.2l2.7 3.1l-2.7 3.1l-2.7 -3.1z" fill="#ff1a1a"/>
<path d="M197.4 208.8l2.7 3.1l-2.7 3.1l-2.7 -3.1z" fill="#ff1a1a"/>
<path d="M199.4 227.4l2.7 3.1l-2.7 3.1l-2.7 -3.1z" fill="#ff1a1a"/>
<path d="M201.6 233.3l2.7 3.1l-2.7 3.1l-2.7 -3.1z" fill="#ff1a1a"/>
<path d="M203.7 219.0l2.7 3.1l-2.7 3.1l-2.7 -3.1z" fill="#ff1a1a"/>
<path d="M205.7 229.7l2.7 3.1l-2.7 3.1l-2.7 -3.1z" fill="#ff1a1a"/>
<path d="M208.2 201.6l2.7 3.1l-2.7 3.1l-2.7 -3.1z" fill="#ff1a1a"/>
<path d="M210.2 208.8l2.7 3.1l-2.7 3.1l-2.7 -3.1z" fill="#ff1a1a"/>
<path d="M212.3 232.8l2.7 3.1l-2.7 3.1l-2.7 -3.1z" fill="#ff1a1a"/>
<rect x="48.4" y="136.4" width="165.8" height="118.0" fill="none" stroke="#000" stroke-width="1.3"/>
<path d="M92.0 254.4v-2.5M92.0 136.4v2.5M135.7 254.4v-2.5M135.7 136.4v2.5M179.3 254.4v-2.5M179.3 136.4v2.5M48.4 210.7h2.5M214.2 210.7h-2.5M48.4 167.0h2.5M214.2 167.0h-2.5" stroke="#000" stroke-width="1.2" fill="none"/>
<text x="44" y="259.7" font-size="12" text-anchor="end">0</text>
<text x="44" y="216.0" font-size="12" text-anchor="end">10</text>
<text x="44" y="172.3" font-size="12" text-anchor="end">20</text>
<text x="55.4" y="152.3" font-size="12">Grand, Marsville (G1)</text>
<text x="55.4" y="169.7" font-size="12">KGE = 0.81</text>
<text x="198.5" y="152.9" font-size="18" font-weight="bold">d</text>
</g>
<g>
<clipPath id="cpe"><rect x="226.6" y="136.4" width="165.8" height="118.0"/></clipPath>
<g clip-path="url(#cpe)">
<polygon points="226.6,245.4 227.7,245.4 228.8,245.4 229.9,245.4 231.0,245.4 232.1,245.3 233.1,245.3 234.2,245.3 235.3,245.2 236.4,245.2 237.5,245.2 238.6,245.1 239.7,245.1 240.8,245.0 241.9,245.0 243.0,245.0 244.1,245.0 245.1,244.9 246.2,245.0 247.3,245.0 248.4,245.1 249.5,245.2 250.6,245.4 251.7,245.5 252.8,245.6 253.9,245.6 255.0,245.5 256.1,245.3 257.1,245.1 258.2,244.8 259.3,244.6 260.4,244.5 261.5,244.5 262.6,244.6 263.7,244.7 264.8,244.7 265.9,244.7 267.0,244.6 268.1,244.3 269.1,243.9 270.2,243.4 271.3,243.0 272.4,242.6 273.5,242.3 274.6,242.1 275.7,242.0 276.8,241.9 277.9,241.8 279.0,241.6 280.0,241.3 281.1,241.1 282.2,240.8 283.3,240.6 284.4,240.5 285.5,240.5 286.6,240.5 287.7,240.7 288.8,240.8 289.9,240.9 291.0,240.9 292.0,240.8 293.1,240.6 294.2,240.2 295.3,239.8 296.4,239.2 297.5,238.6 298.6,237.9 299.7,237.1 300.8,236.4 301.9,235.6 303.0,234.9 304.0,234.2 305.1,233.5 306.2,232.8 307.3,232.2 308.4,231.6 309.5,230.9 310.6,230.3 311.7,229.7 312.8,229.2 313.9,228.6 315.0,228.1 316.0,227.6 317.1,227.1 318.2,226.5 319.3,225.9 320.4,225.3 321.5,224.6 322.6,223.9 323.7,223.4 324.8,223.0 325.9,223.0 327.0,223.2 328.0,223.7 329.1,224.2 330.2,224.7 331.3,225.0 332.4,225.0 333.5,224.7 334.6,224.2 335.7,223.6 336.8,223.1 337.9,222.8 339.0,222.6 340.0,222.7 341.1,222.8 342.2,222.8 343.3,222.6 344.4,222.2 345.5,220.9 346.6,218.6 347.7,215.6 348.8,212.4 349.9,209.4 350.9,206.7 352.0,204.3 353.1,203.4 354.2,204.3 355.3,206.6 356.4,209.7 357.5,213.0 358.6,216.3 359.7,219.5 360.8,222.0 361.9,223.4 362.9,224.0 364.0,223.9 365.1,223.6 366.2,223.0 367.3,222.4 368.4,221.8 369.5,221.2 370.6,220.6 371.7,220.1 372.8,219.7 373.9,219.5 374.9,219.0 376.0,218.5 377.1,218.4 378.2,218.4 379.3,218.4 380.4,218.1 381.5,217.6 382.6,217.3 383.7,216.8 384.8,216.2 385.9,215.5 386.9,214.9 388.0,214.6 389.1,214.5 390.2,214.7 391.3,215.2 392.4,215.6 392.4,233.8 391.3,233.5 390.2,233.2 389.1,233.0 388.0,233.0 386.9,233.2 385.9,233.6 384.8,234.0 383.7,234.5 382.6,234.7 381.5,235.0 380.4,235.3 379.3,235.5 378.2,235.5 377.1,235.5 376.0,235.6 374.9,235.9 373.9,236.2 372.8,236.2 371.7,236.4 370.6,236.7 369.5,236.9 368.4,237.3 367.3,237.6 366.2,237.9 365.1,238.3 364.0,238.6 362.9,238.8 361.9,238.6 360.8,237.8 359.7,236.4 358.6,234.6 357.5,232.8 356.4,230.9 355.3,229.1 354.2,227.7 353.1,227.2 352.0,227.8 350.9,229.2 349.9,230.8 348.8,232.5 347.7,234.3 346.6,236.0 345.5,237.2 344.4,237.9 343.3,238.0 342.2,238.0 341.1,237.9 340.0,237.8 339.0,237.7 337.9,237.8 336.8,238.0 335.7,238.3 334.6,238.7 333.5,239.1 332.4,239.3 331.3,239.3 330.2,239.1 329.1,238.8 328.0,238.4 327.0,238.1 325.9,238.0 324.8,238.0 323.7,238.2 322.6,238.6 321.5,239.0 320.4,239.4 319.3,239.7 318.2,240.1 317.1,240.4 316.0,240.7 315.0,240.9 313.9,241.3 312.8,241.6 311.7,241.9 310.6,242.3 309.5,242.7 308.4,243.1 307.3,243.4 306.2,243.8 305.1,244.1 304.0,244.6 303.0,245.0 301.9,245.4 300.8,245.9 299.7,246.3 298.6,246.8 297.5,247.2 296.4,247.6 295.3,247.9 294.2,248.2 293.1,248.4 292.0,248.6 291.0,248.6 289.9,248.6 288.8,248.5 287.7,248.5 286.6,248.4 285.5,248.3 284.4,248.3 283.3,248.4 282.2,248.5 281.1,248.7 280.0,248.8 279.0,249.0 277.9,249.1 276.8,249.2 275.7,249.2 274.6,249.3 273.5,249.4 272.4,249.6 271.3,249.8 270.2,250.1 269.1,250.4 268.1,250.6 267.0,250.8 265.9,250.9 264.8,250.9 263.7,250.9 262.6,250.8 261.5,250.8 260.4,250.8 259.3,250.8 258.2,250.9 257.1,251.1 256.1,251.2 255.0,251.3 253.9,251.4 252.8,251.4 251.7,251.4 250.6,251.3 249.5,251.2 248.4,251.1 247.3,251.1 246.2,251.0 245.1,251.0 244.1,251.0 243.0,251.0 241.9,251.1 240.8,251.1 239.7,251.1 238.6,251.1 237.5,251.1 236.4,251.2 235.3,251.2 234.2,251.2 233.1,251.2 232.1,251.3 231.0,251.3 229.9,251.3 228.8,251.3 227.7,251.3 226.6,251.3" fill="#e6e6e6" stroke="none"/>
<polyline points="226.0,244.8 249.2,244.0 255.0,245.9 260.9,242.0 266.7,245.9 272.5,240.1 278.3,242.0 284.1,238.1 290.0,240.9 293.6,239.7 297.2,238.5 300.7,234.9 304.3,232.5 307.9,231.3 310.6,227.6 313.3,228.9 316.0,225.2 318.7,224.0 321.3,226.4 324.0,219.1 325.8,216.5 328.5,222.8 331.2,226.4 333.9,225.2 336.6,219.0 339.3,217.8 341.1,221.6 343.7,225.2 346.4,220.4 348.8,211.9 350.9,214.3 352.7,171.5 354.1,184.5 355.9,209.5 357.7,219.2 359.9,221.6 361.7,225.2 364.3,224.0 367.0,220.4 369.7,216.6 371.5,221.6 372.9,214.1 374.2,226.4 376.0,209.0 377.8,216.8 379.6,220.4 381.4,211.6 383.1,221.6 384.9,215.6 386.7,209.2 389.4,206.7 391.2,219.2 393.0,216.8" fill="none" stroke="#333" stroke-width="1" stroke-dasharray="4.3,2.9"/>
<polyline points="226.0,251.6 249.2,251.2 255.0,252.3 260.9,250.1 266.7,252.3 272.5,249.0 278.3,250.1 284.1,247.9 290.0,249.6 293.6,248.9 297.2,248.4 300.7,246.2 304.3,244.8 307.9,244.4 310.6,242.1 313.3,243.2 316.0,240.8 318.7,240.1 321.3,242.5 324.0,237.4 325.8,236.1 328.5,239.7 331.2,242.2 333.9,241.3 336.6,237.4 339.3,236.8 341.1,238.9 343.7,241.9 346.4,238.6 348.8,234.3 350.9,238.6 352.7,211.9 354.1,218.6 355.9,234.0 357.7,239.9 359.9,239.1 361.7,241.5 364.3,240.5 367.0,238.1 369.7,236.1 371.5,239.6 372.9,234.7 374.2,243.9 376.0,232.1 377.8,236.1 379.6,239.1 381.4,233.4 383.1,240.3 384.9,235.7 386.7,232.1 389.4,230.7 391.2,238.9 393.0,236.4" fill="none" stroke="#333" stroke-width="1" stroke-dasharray="4.3,2.9"/>
<polyline points="226.0,249.9 249.2,249.3 255.0,250.7 260.9,247.8 266.7,250.7 272.5,246.4 278.3,247.8 284.1,244.9 290.0,247.0 293.6,246.1 297.2,245.2 300.7,242.5 304.3,240.8 307.9,239.9 310.6,237.2 313.3,238.1 316.0,235.4 318.7,234.5 321.3,236.3 324.0,230.9 325.8,229.1 328.5,233.6 331.2,236.3 333.9,235.4 336.6,230.9 339.3,230.0 341.1,232.7 343.7,235.4 346.4,231.8 348.8,225.5 350.9,227.3 352.7,196.9 354.1,205.8 355.9,223.7 357.7,230.9 359.9,232.7 361.7,235.4 364.3,234.5 367.0,231.8 369.7,229.1 371.5,232.7 372.9,227.3 374.2,236.3 376.0,223.7 377.8,229.1 379.6,231.8 381.4,225.5 383.1,232.7 384.9,228.2 386.7,223.7 389.4,221.9 391.2,230.9 393.0,229.1" fill="none" stroke="#000" stroke-width="1.4" stroke-linejoin="round"/>
</g>
<path d="M296.3 244.3l2.7 3.1l-2.7 3.1l-2.7 -3.1z" fill="#ff1a1a"/>
<path d="M298.6 240.3l2.7 3.1l-2.7 3.1l-2.7 -3.1z" fill="#ff1a1a"/>
<path d="M300.7 240.7l2.7 3.1l-2.7 3.1l-2.7 -3.1z" fill="#ff1a1a"/>
<path d="M302.9 241.8l2.7 3.1l-2.7 3.1l-2.7 -3.1z" fill="#ff1a1a"/>
<path d="M305.2 237.7l2.7 3.1l-2.7 3.1l-2.7 -3.1z" fill="#ff1a1a"/>
<path d="M307.4 238.6l2.7 3.1l-2.7 3.1l-2.7 -3.1z" fill="#ff1a1a"/>
<path d="M309.3 241.2l2.7 3.1l-2.7 3.1l-2.7 -3.1z" fill="#ff1a1a"/>
<path d="M311.5 231.7l2.7 3.1l-2.7 3.1l-2.7 -3.1z" fill="#ff1a1a"/>
<path d="M313.8 238.6l2.7 3.1l-2.7 3.1l-2.7 -3.1z" fill="#ff1a1a"/>
<path d="M316.3 235.0l2.7 3.1l-2.7 3.1l-2.7 -3.1z" fill="#ff1a1a"/>
<path d="M318.3 233.2l2.7 3.1l-2.7 3.1l-2.7 -3.1z" fill="#ff1a1a"/>
<path d="M320.8 237.7l2.7 3.1l-2.7 3.1l-2.7 -3.1z" fill="#ff1a1a"/>
<path d="M322.8 229.6l2.7 3.1l-2.7 3.1l-2.7 -3.1z" fill="#ff1a1a"/>
<path d="M324.9 218.8l2.7 3.1l-2.7 3.1l-2.7 -3.1z" fill="#ff1a1a"/>
<path d="M327.3 233.2l2.7 3.1l-2.7 3.1l-2.7 -3.1z" fill="#ff1a1a"/>
<path d="M329.4 235.9l2.7 3.1l-2.7 3.1l-2.7 -3.1z" fill="#ff1a1a"/>
<path d="M331.7 236.8l2.7 3.1l-2.7 3.1l-2.7 -3.1z" fill="#ff1a1a"/>
<path d="M333.9 237.7l2.7 3.1l-2.7 3.1l-2.7 -3.1z" fill="#ff1a1a"/>
<path d="M336.2 226.0l2.7 3.1l-2.7 3.1l-2.7 -3.1z" fill="#ff1a1a"/>
<path d="M338.7 230.5l2.7 3.1l-2.7 3.1l-2.7 -3.1z" fill="#ff1a1a"/>
<path d="M341.1 233.2l2.7 3.1l-2.7 3.1l-2.7 -3.1z" fill="#ff1a1a"/>
<path d="M342.8 234.1l2.7 3.1l-2.7 3.1l-2.7 -3.1z" fill="#ff1a1a"/>
<path d="M344.6 240.0l2.7 3.1l-2.7 3.1l-2.7 -3.1z" fill="#ff1a1a"/>
<path d="M347.0 235.0l2.7 3.1l-2.7 3.1l-2.7 -3.1z" fill="#ff1a1a"/>
<path d="M349.1 223.3l2.7 3.1l-2.7 3.1l-2.7 -3.1z" fill="#ff1a1a"/>
<path d="M351.4 227.8l2.7 3.1l-2.7 3.1l-2.7 -3.1z" fill="#ff1a1a"/>
<path d="M353.6 213.8l2.7 3.1l-2.7 3.1l-2.7 -3.1z" fill="#ff1a1a"/>
<path d="M355.7 207.7l2.7 3.1l-2.7 3.1l-2.7 -3.1z" fill="#ff1a1a"/>
<path d="M357.7 225.1l2.7 3.1l-2.7 3.1l-2.7 -3.1z" fill="#ff1a1a"/>
<path d="M361.7 233.5l2.7 3.1l-2.7 3.1l-2.7 -3.1z" fill="#ff1a1a"/>
<path d="M364.0 236.4l2.7 3.1l-2.7 3.1l-2.7 -3.1z" fill="#ff1a1a"/>
<path d="M366.7 230.5l2.7 3.1l-2.7 3.1l-2.7 -3.1z" fill="#ff1a1a"/>
<path d="M368.8 231.4l2.7 3.1l-2.7 3.1l-2.7 -3.1z" fill="#ff1a1a"/>
<path d="M371.0 224.2l2.7 3.1l-2.7 3.1l-2.7 -3.1z" fill="#ff1a1a"/>
<path d="M372.9 237.7l2.7 3.1l-2.7 3.1l-2.7 -3.1z" fill="#ff1a1a"/>
<path d="M375.1 219.2l2.7 3.1l-2.7 3.1l-2.7 -3.1z" fill="#ff1a1a"/>
<path d="M377.4 223.9l2.7 3.1l-2.7 3.1l-2.7 -3.1z" fill="#ff1a1a"/>
<path d="M379.6 235.9l2.7 3.1l-2.7 3.1l-2.7 -3.1z" fill="#ff1a1a"/>
<path d="M381.9 222.4l2.7 3.1l-2.7 3.1l-2.7 -3.1z" fill="#ff1a1a"/>
<path d="M384.0 233.2l2.7 3.1l-2.7 3.1l-2.7 -3.1z" fill="#ff1a1a"/>
<path d="M386.4 218.8l2.7 3.1l-2.7 3.1l-2.7 -3.1z" fill="#ff1a1a"/>
<path d="M388.2 219.2l2.7 3.1l-2.7 3.1l-2.7 -3.1z" fill="#ff1a1a"/>
<rect x="226.6" y="136.4" width="165.8" height="118.0" fill="none" stroke="#000" stroke-width="1.3"/>
<path d="M270.2 254.4v-2.5M270.2 136.4v2.5M313.9 254.4v-2.5M313.9 136.4v2.5M357.5 254.4v-2.5M357.5 136.4v2.5M226.6 210.7h2.5M392.4 210.7h-2.5M226.6 167.0h2.5M392.4 167.0h-2.5" stroke="#000" stroke-width="1.2" fill="none"/>
<text x="233.6" y="152.3" font-size="12">Grand, Shand Dam (G2)</text>
<text x="233.6" y="169.7" font-size="12">KGE = 0.81</text>
<text x="376.1" y="152.9" font-size="18" font-weight="bold">e</text>
</g>
<g>
<clipPath id="cpf"><rect x="404.8" y="136.4" width="165.8" height="118.0"/></clipPath>
<g clip-path="url(#cpf)">
<polygon points="404.0,237.6 441.5,237.6 461.7,231.3 476.2,222.6 478.7,210.9 491.3,203.7 500.2,196.6 509.2,191.2 518.2,185.8 525.3,182.2 532.5,180.5 539.7,180.5 546.8,180.5 554.0,182.2 561.1,185.8 571.0,191.2 571.0,228.8 561.1,228.8 550.4,227.0 543.2,224.3 536.1,222.5 527.1,222.5 518.2,224.3 509.2,227.0 500.2,228.8 491.3,232.4 478.7,239.6 476.2,245.7 461.7,248.0 441.5,249.5 404.0,249.5" fill="#e6e6e6" stroke="none"/>
<polyline points="404.0,237.6 441.5,237.6 461.7,229.8 468.0,222.0 478.7,211.2 491.3,196.9 494.9,191.5 498.5,186.2 502.9,171.8 506.5,187.9 509.2,189.7 512.8,177.2 514.9,176.3 518.2,162.9 520.8,182.6 523.5,187.9 526.2,159.3 528.9,171.8 531.6,180.8 536.1,179.9 539.7,180.8 543.2,182.6 545.9,171.8 547.7,159.3 550.4,155.7 553.1,153.9 555.8,171.8 558.5,166.5 561.1,182.6 564.7,161.1 567.4,171.8 570.1,180.8 571.0,182.6" fill="none" stroke="#333" stroke-width="1" stroke-dasharray="4.3,2.9"/>
<polyline points="404.0,249.5 441.5,249.5 461.7,248.0 468.0,244.9 478.7,240.5 491.3,234.2 494.9,230.6 499.3,227.0 503.8,228.8 509.2,234.2 514.6,227.0 521.7,234.2 527.1,225.2 530.7,221.7 536.1,222.5 543.2,224.3 548.6,228.8 551.3,232.4 554.0,225.2 557.6,228.8 561.1,230.6 564.7,225.2 568.3,232.4 571.0,228.8" fill="none" stroke="#333" stroke-width="1" stroke-dasharray="4.3,2.9"/>
<polyline points="404.0,246.3 441.5,246.3 461.7,242.8 468.0,238.7 478.7,233.3 491.3,226.1 492.2,224.8 494.0,222.1 494.9,220.1 496.3,216.2 497.6,217.6 498.5,219.1 500.8,214.1 502.9,203.9 505.1,214.1 507.4,223.4 509.6,225.7 511.9,222.5 512.8,218.2 514.0,211.9 516.0,211.4 517.3,206.5 518.2,206.1 519.1,207.9 520.3,216.9 522.6,219.9 525.0,208.4 526.8,191.1 528.9,197.1 531.6,198.4 539.7,198.4 542.3,207.7 544.1,201.8 545.4,201.9 546.8,200.3 547.7,192.3 548.6,183.5 549.5,184.6 550.9,206.4 552.2,185.2 553.1,186.0 554.0,195.9 555.4,203.1 557.6,206.4 559.7,202.0 561.7,206.6 562.9,193.0 564.2,189.5 566.2,194.7 568.3,216.3 570.1,213.1 571.0,213.7" fill="none" stroke="#000" stroke-width="1.4" stroke-linejoin="round"/>
</g>
<path d="M492.2 220.3l2.7 3.1l-2.7 3.1l-2.7 -3.1z" fill="#ff1a1a"/>
<path d="M494.0 217.7l2.7 3.1l-2.7 3.1l-2.7 -3.1z" fill="#ff1a1a"/>
<path d="M496.3 209.2l2.7 3.1l-2.7 3.1l-2.7 -3.1z" fill="#ff1a1a"/>
<path d="M498.5 222.1l2.7 3.1l-2.7 3.1l-2.7 -3.1z" fill="#ff1a1a"/>
<path d="M500.8 215.0l2.7 3.1l-2.7 3.1l-2.7 -3.1z" fill="#ff1a1a"/>
<path d="M502.9 197.1l2.7 3.1l-2.7 3.1l-2.7 -3.1z" fill="#ff1a1a"/>
<path d="M505.1 212.8l2.7 3.1l-2.7 3.1l-2.7 -3.1z" fill="#ff1a1a"/>
<path d="M507.4 223.0l2.7 3.1l-2.7 3.1l-2.7 -3.1z" fill="#ff1a1a"/>
<path d="M509.6 224.3l2.7 3.1l-2.7 3.1l-2.7 -3.1z" fill="#ff1a1a"/>
<path d="M511.9 224.3l2.7 3.1l-2.7 3.1l-2.7 -3.1z" fill="#ff1a1a"/>
<path d="M514.0 208.7l2.7 3.1l-2.7 3.1l-2.7 -3.1z" fill="#ff1a1a"/>
<path d="M516.0 215.3l2.7 3.1l-2.7 3.1l-2.7 -3.1z" fill="#ff1a1a"/>
<path d="M518.2 205.1l2.7 3.1l-2.7 3.1l-2.7 -3.1z" fill="#ff1a1a"/>
<path d="M520.3 219.4l2.7 3.1l-2.7 3.1l-2.7 -3.1z" fill="#ff1a1a"/>
<path d="M522.6 228.9l2.7 3.1l-2.7 3.1l-2.7 -3.1z" fill="#ff1a1a"/>
<path d="M525.0 220.7l2.7 3.1l-2.7 3.1l-2.7 -3.1z" fill="#ff1a1a"/>
<path d="M526.8 195.3l2.7 3.1l-2.7 3.1l-2.7 -3.1z" fill="#ff1a1a"/>
<path d="M528.9 202.8l2.7 3.1l-2.7 3.1l-2.7 -3.1z" fill="#ff1a1a"/>
<path d="M542.3 210.5l2.7 3.1l-2.7 3.1l-2.7 -3.1z" fill="#ff1a1a"/>
<path d="M544.1 203.9l2.7 3.1l-2.7 3.1l-2.7 -3.1z" fill="#ff1a1a"/>
<path d="M545.4 206.0l2.7 3.1l-2.7 3.1l-2.7 -3.1z" fill="#ff1a1a"/>
<path d="M546.8 208.2l2.7 3.1l-2.7 3.1l-2.7 -3.1z" fill="#ff1a1a"/>
<path d="M548.6 178.2l2.7 3.1l-2.7 3.1l-2.7 -3.1z" fill="#ff1a1a"/>
<path d="M550.9 223.0l2.7 3.1l-2.7 3.1l-2.7 -3.1z" fill="#ff1a1a"/>
<path d="M553.1 176.5l2.7 3.1l-2.7 3.1l-2.7 -3.1z" fill="#ff1a1a"/>
<path d="M555.4 200.6l2.7 3.1l-2.7 3.1l-2.7 -3.1z" fill="#ff1a1a"/>
<path d="M557.6 220.7l2.7 3.1l-2.7 3.1l-2.7 -3.1z" fill="#ff1a1a"/>
<path d="M559.7 198.0l2.7 3.1l-2.7 3.1l-2.7 -3.1z" fill="#ff1a1a"/>
<path d="M561.7 220.7l2.7 3.1l-2.7 3.1l-2.7 -3.1z" fill="#ff1a1a"/>
<path d="M564.2 185.4l2.7 3.1l-2.7 3.1l-2.7 -3.1z" fill="#ff1a1a"/>
<path d="M566.2 192.6l2.7 3.1l-2.7 3.1l-2.7 -3.1z" fill="#ff1a1a"/>
<path d="M568.3 223.9l2.7 3.1l-2.7 3.1l-2.7 -3.1z" fill="#ff1a1a"/>
<path d="M570.1 214.1l2.7 3.1l-2.7 3.1l-2.7 -3.1z" fill="#ff1a1a"/>
<rect x="404.8" y="136.4" width="165.8" height="118.0" fill="none" stroke="#000" stroke-width="1.3"/>
<path d="M448.4 254.4v-2.5M448.4 136.4v2.5M492.1 254.4v-2.5M492.1 136.4v2.5M535.7 254.4v-2.5M535.7 136.4v2.5M404.8 210.7h2.5M570.6 210.7h-2.5M404.8 167.0h2.5M570.6 167.0h-2.5" stroke="#000" stroke-width="1.2" fill="none"/>
<text x="411.8" y="152.3" font-size="12">Grand, West Montrose (G3)</text>
<text x="411.8" y="169.7" font-size="12">KGE = 0.72</text>
<text x="560.7" y="152.9" font-size="18" font-weight="bold">f</text>
</g>
<g>
<clipPath id="cpg"><rect x="48.4" y="269.8" width="165.8" height="118.0"/></clipPath>
<g clip-path="url(#cpg)">
<polygon points="48.4,377.7 49.5,377.7 50.6,377.7 51.7,377.7 52.8,377.7 53.9,377.7 54.9,377.7 56.0,377.7 57.1,377.7 58.2,377.7 59.3,377.7 60.4,377.7 61.5,377.7 62.6,377.7 63.7,377.6 64.8,377.6 65.9,377.6 66.9,377.5 68.0,377.4 69.1,377.3 70.2,377.2 71.3,377.1 72.4,377.0 73.5,376.8 74.6,376.7 75.7,376.5 76.8,376.4 77.9,376.2 78.9,376.0 80.0,375.8 81.1,375.8 82.2,375.7 83.3,375.8 84.4,375.8 85.5,375.9 86.6,376.1 87.7,376.3 88.8,376.4 89.8,376.5 90.9,376.6 92.0,376.7 93.1,376.7 94.2,376.6 95.3,376.3 96.4,375.8 97.5,375.1 98.6,374.2 99.7,372.9 100.8,371.4 101.8,369.7 102.9,368.0 104.0,366.3 105.1,364.9 106.2,363.8 107.3,363.1 108.4,362.7 109.5,362.5 110.6,362.5 111.7,362.5 112.8,362.4 113.8,362.0 114.9,361.2 116.0,360.2 117.1,358.9 118.2,357.3 119.3,355.4 120.4,353.6 121.5,352.1 122.6,350.9 123.7,349.8 124.8,349.1 125.8,348.7 126.9,348.4 128.0,348.2 129.1,348.0 130.2,347.8 131.3,347.7 132.4,347.4 133.5,346.8 134.6,346.3 135.7,345.7 136.8,344.8 137.8,343.4 138.9,341.6 140.0,339.6 141.1,337.6 142.2,335.6 143.3,333.7 144.4,332.1 145.5,331.1 146.6,330.9 147.7,331.4 148.8,332.5 149.8,333.8 150.9,335.3 152.0,336.6 153.1,337.5 154.2,337.6 155.3,336.8 156.4,335.4 157.5,333.9 158.6,332.4 159.7,331.3 160.8,330.6 161.8,330.6 162.9,331.1 164.0,331.8 165.1,331.8 166.2,331.2 167.3,330.2 168.4,328.9 169.5,327.8 170.6,327.1 171.7,327.2 172.8,328.2 173.8,329.8 174.9,331.6 176.0,333.0 177.1,333.5 178.2,333.1 179.3,331.6 180.4,329.7 181.5,327.6 182.6,325.8 183.7,324.4 184.7,323.3 185.8,322.2 186.9,321.3 188.0,320.7 189.1,320.4 190.2,319.5 191.3,318.3 192.4,317.2 193.5,317.3 194.6,318.2 195.7,318.9 196.7,319.2 197.8,320.5 198.9,323.2 200.0,326.1 201.1,328.0 202.2,328.4 203.3,328.6 204.4,329.3 205.5,329.5 206.6,328.7 207.7,327.8 208.7,327.5 209.8,328.4 210.9,329.8 212.0,331.1 213.1,332.4 214.2,333.9 214.2,359.9 213.1,359.0 212.0,358.3 210.9,357.5 209.8,356.7 208.7,356.2 207.7,356.5 206.6,357.1 205.5,357.7 204.4,357.7 203.3,357.4 202.2,357.4 201.1,357.4 200.0,356.4 198.9,354.8 197.8,353.3 196.7,352.6 195.7,352.5 194.6,351.9 193.5,351.0 192.4,350.7 191.3,351.0 190.2,351.5 189.1,351.6 188.0,351.6 186.9,351.8 185.8,352.4 184.7,353.1 183.7,353.8 182.6,354.8 181.5,356.1 180.4,357.5 179.3,358.8 178.2,359.8 177.1,360.2 176.0,359.9 174.9,359.0 173.8,357.9 172.8,356.8 171.7,356.2 170.6,356.2 169.5,356.6 168.4,357.3 167.3,358.0 166.2,358.6 165.1,358.9 164.0,358.7 162.9,358.1 161.8,357.6 160.8,357.3 159.7,357.6 158.6,358.1 157.5,359.0 156.4,359.9 155.3,360.7 154.2,361.2 153.1,361.3 152.0,360.8 150.9,360.0 149.8,359.2 148.8,358.3 147.7,357.7 146.6,357.3 145.5,357.5 144.4,358.1 143.3,359.0 142.2,360.2 141.1,361.5 140.0,362.7 138.9,364.0 137.8,365.1 136.8,365.9 135.7,366.5 134.6,366.7 133.5,366.9 132.4,367.1 131.3,367.2 130.2,367.1 129.1,367.1 128.0,367.1 126.9,367.2 125.8,367.3 124.8,367.5 123.7,367.8 122.6,368.3 121.5,368.9 120.4,369.7 119.3,370.7 118.2,371.7 117.1,372.6 116.0,373.3 114.9,373.9 113.8,374.3 112.8,374.4 111.7,374.3 110.6,374.1 109.5,373.8 108.4,373.6 107.3,373.5 106.2,373.7 105.1,374.1 104.0,374.8 102.9,375.6 101.8,376.6 100.8,377.7 99.7,378.7 98.6,379.6 97.5,380.3 96.4,381.0 95.3,381.5 94.2,381.9 93.1,382.2 92.0,382.5 90.9,382.7 89.8,382.9 88.8,383.1 87.7,383.2 86.6,383.2 85.5,383.2 84.4,383.2 83.3,383.2 82.2,383.1 81.1,383.1 80.0,383.1 78.9,383.1 77.9,383.1 76.8,383.2 75.7,383.3 74.6,383.4 73.5,383.5 72.4,383.7 71.3,383.8 70.2,383.9 69.1,384.1 68.0,384.1 66.9,384.2 65.9,384.3 64.8,384.3 63.7,384.3 62.6,384.3 61.5,384.3 60.4,384.3 59.3,384.3 58.2,384.3 57.1,384.3 56.0,384.3 54.9,384.3 53.9,384.3 52.8,384.3 51.7,384.3 50.6,384.3 49.5,384.3 48.4,384.3" fill="#e6e6e6" stroke="none"/>
<polyline points="48.0,377.0 68.3,377.0 73.0,375.4 76.2,377.0 79.3,373.8 82.4,375.4 85.6,373.8 88.7,377.0 91.8,375.4 96.5,377.0 99.7,373.8 102.8,367.6 106.7,358.2 109.8,362.1 112.2,362.9 115.3,361.3 118.4,359.7 120.4,347.6 122.8,349.8 125.1,342.7 127.5,347.5 128.5,349.4 129.5,347.6 131.2,349.8 133.6,335.3 136.1,353.8 138.3,345.6 140.3,328.6 141.7,332.6 142.8,336.4 145.2,328.9 146.8,317.6 148.9,324.7 151.3,338.8 153.3,344.6 155.0,336.8 159.0,328.7 162.5,315.0 164.1,336.6 166.8,339.1 168.8,331.1 170.2,313.6 171.3,305.4 172.3,305.2 173.3,316.8 174.3,329.8 175.3,342.7 176.3,354.4 177.8,345.7 179.8,318.0 182.0,313.9 183.5,324.2 184.5,327.8 185.5,321.4 186.5,316.8 189.0,318.2 191.0,319.3 192.6,298.3 195.3,337.6 197.3,284.4 199.1,321.4 200.8,346.4 201.8,340.0 202.8,314.9 203.8,314.8 204.8,341.9 205.8,342.7 206.9,325.3 208.5,304.4 210.3,321.7 212.4,340.8 215.0,336.9" fill="none" stroke="#333" stroke-width="1" stroke-dasharray="4.3,2.9"/>
<polyline points="48.0,384.8 68.3,384.8 71.5,384.0 79.3,383.2 87.1,384.0 95.0,382.4 101.2,378.5 105.9,371.5 110.6,376.2 113.7,377.0 118.4,373.8 120.4,369.1 122.8,370.6 125.1,366.6 127.5,368.9 128.5,370.5 129.5,369.1 131.2,370.9 133.6,363.1 136.1,374.8 138.3,369.4 140.3,359.5 141.7,361.2 142.8,364.3 145.2,359.5 146.8,353.8 148.9,357.2 151.3,365.5 153.3,369.0 155.0,363.4 159.0,359.2 162.5,352.7 164.1,365.0 166.8,367.7 168.8,363.0 170.2,351.6 171.3,347.8 172.3,347.8 173.3,353.4 174.3,360.2 175.3,369.8 176.3,378.3 177.8,370.8 179.8,354.2 182.0,351.9 183.5,357.6 184.5,360.5 185.5,355.3 186.5,353.2 189.0,354.0 191.0,355.1 192.6,344.1 195.3,370.5 197.3,337.9 199.1,355.4 200.8,373.8 201.8,368.2 202.8,352.8 203.8,352.7 204.8,369.5 205.8,370.5 206.9,357.4 208.5,347.6 210.3,355.7 212.4,368.6 215.0,363.7" fill="none" stroke="#333" stroke-width="1" stroke-dasharray="4.3,2.9"/>
<polyline points="48.0,381.7 68.3,381.7 70.7,383.2 73.0,381.7 76.2,380.9 79.3,380.1 81.7,381.7 84.8,379.3 87.9,382.4 90.3,380.1 93.4,379.8 96.5,380.9 99.7,379.8 102.0,375.4 103.6,367.6 105.1,369.9 106.7,367.6 108.3,366.0 109.8,367.6 112.2,368.3 115.3,371.2 116.3,368.3 118.3,361.6 119.4,359.9 120.4,359.2 122.8,360.6 125.1,355.7 127.5,358.9 128.5,360.3 129.5,359.0 131.2,360.6 133.6,350.6 136.1,363.5 138.3,357.5 140.3,345.5 141.7,347.9 142.8,350.6 145.2,345.1 146.8,337.4 148.9,342.3 151.3,352.4 153.3,356.7 155.0,351.0 159.0,344.9 162.5,335.7 164.1,350.8 166.8,352.7 168.8,346.7 170.2,334.2 171.3,328.9 172.3,328.7 173.3,336.8 174.3,345.8 175.3,355.3 176.3,364.0 177.8,357.6 179.8,337.9 182.0,334.7 183.5,341.7 184.5,344.3 185.5,339.5 186.5,336.5 189.0,337.2 191.0,338.0 192.6,323.5 195.3,351.5 197.3,314.7 199.1,339.7 200.8,358.1 201.8,353.3 202.8,335.9 203.8,335.7 204.8,354.7 205.8,355.4 206.9,342.5 208.5,328.5 210.3,340.1 212.4,353.9 215.0,351.0" fill="none" stroke="#000" stroke-width="1.4" stroke-linejoin="round"/>
</g>
<path d="M116.3 366.7l2.7 3.1l-2.7 3.1l-2.7 -3.1z" fill="#ff1a1a"/>
<path d="M118.3 358.1l2.7 3.1l-2.7 3.1l-2.7 -3.1z" fill="#ff1a1a"/>
<path d="M120.4 356.1l2.7 3.1l-2.7 3.1l-2.7 -3.1z" fill="#ff1a1a"/>
<path d="M122.8 359.7l2.7 3.1l-2.7 3.1l-2.7 -3.1z" fill="#ff1a1a"/>
<path d="M125.1 351.6l2.7 3.1l-2.7 3.1l-2.7 -3.1z" fill="#ff1a1a"/>
<path d="M127.5 356.1l2.7 3.1l-2.7 3.1l-2.7 -3.1z" fill="#ff1a1a"/>
<path d="M129.5 357.1l2.7 3.1l-2.7 3.1l-2.7 -3.1z" fill="#ff1a1a"/>
<path d="M131.2 361.8l2.7 3.1l-2.7 3.1l-2.7 -3.1z" fill="#ff1a1a"/>
<path d="M133.6 347.9l2.7 3.1l-2.7 3.1l-2.7 -3.1z" fill="#ff1a1a"/>
<path d="M136.1 365.2l2.7 3.1l-2.7 3.1l-2.7 -3.1z" fill="#ff1a1a"/>
<path d="M138.3 358.1l2.7 3.1l-2.7 3.1l-2.7 -3.1z" fill="#ff1a1a"/>
<path d="M140.3 340.8l2.7 3.1l-2.7 3.1l-2.7 -3.1z" fill="#ff1a1a"/>
<path d="M142.8 352.0l2.7 3.1l-2.7 3.1l-2.7 -3.1z" fill="#ff1a1a"/>
<path d="M145.2 344.9l2.7 3.1l-2.7 3.1l-2.7 -3.1z" fill="#ff1a1a"/>
<path d="M146.8 334.7l2.7 3.1l-2.7 3.1l-2.7 -3.1z" fill="#ff1a1a"/>
<path d="M148.9 338.8l2.7 3.1l-2.7 3.1l-2.7 -3.1z" fill="#ff1a1a"/>
<path d="M151.3 352.4l2.7 3.1l-2.7 3.1l-2.7 -3.1z" fill="#ff1a1a"/>
<path d="M153.3 358.1l2.7 3.1l-2.7 3.1l-2.7 -3.1z" fill="#ff1a1a"/>
<path d="M162.5 336.1l2.7 3.1l-2.7 3.1l-2.7 -3.1z" fill="#ff1a1a"/>
<path d="M164.1 353.6l2.7 3.1l-2.7 3.1l-2.7 -3.1z" fill="#ff1a1a"/>
<path d="M166.8 354.5l2.7 3.1l-2.7 3.1l-2.7 -3.1z" fill="#ff1a1a"/>
<path d="M168.8 349.6l2.7 3.1l-2.7 3.1l-2.7 -3.1z" fill="#ff1a1a"/>
<path d="M171.3 325.6l2.7 3.1l-2.7 3.1l-2.7 -3.1z" fill="#ff1a1a"/>
<path d="M173.3 335.3l2.7 3.1l-2.7 3.1l-2.7 -3.1z" fill="#ff1a1a"/>
<path d="M175.3 357.1l2.7 3.1l-2.7 3.1l-2.7 -3.1z" fill="#ff1a1a"/>
<path d="M177.8 361.8l2.7 3.1l-2.7 3.1l-2.7 -3.1z" fill="#ff1a1a"/>
<path d="M179.8 335.3l2.7 3.1l-2.7 3.1l-2.7 -3.1z" fill="#ff1a1a"/>
<path d="M182.0 330.0l2.7 3.1l-2.7 3.1l-2.7 -3.1z" fill="#ff1a1a"/>
<path d="M184.5 345.5l2.7 3.1l-2.7 3.1l-2.7 -3.1z" fill="#ff1a1a"/>
<path d="M186.5 332.7l2.7 3.1l-2.7 3.1l-2.7 -3.1z" fill="#ff1a1a"/>
<path d="M189.0 334.1l2.7 3.1l-2.7 3.1l-2.7 -3.1z" fill="#ff1a1a"/>
<path d="M191.0 340.8l2.7 3.1l-2.7 3.1l-2.7 -3.1z" fill="#ff1a1a"/>
<path d="M192.6 321.1l2.7 3.1l-2.7 3.1l-2.7 -3.1z" fill="#ff1a1a"/>
<path d="M195.3 356.1l2.7 3.1l-2.7 3.1l-2.7 -3.1z" fill="#ff1a1a"/>
<path d="M197.3 309.3l2.7 3.1l-2.7 3.1l-2.7 -3.1z" fill="#ff1a1a"/>
<path d="M199.1 342.9l2.7 3.1l-2.7 3.1l-2.7 -3.1z" fill="#ff1a1a"/>
<path d="M201.8 360.6l2.7 3.1l-2.7 3.1l-2.7 -3.1z" fill="#ff1a1a"/>
<path d="M203.8 329.2l2.7 3.1l-2.7 3.1l-2.7 -3.1z" fill="#ff1a1a"/>
<path d="M205.8 360.6l2.7 3.1l-2.7 3.1l-2.7 -3.1z" fill="#ff1a1a"/>
<path d="M208.5 325.6l2.7 3.1l-2.7 3.1l-2.7 -3.1z" fill="#ff1a1a"/>
<path d="M210.3 339.4l2.7 3.1l-2.7 3.1l-2.7 -3.1z" fill="#ff1a1a"/>
<path d="M212.4 358.5l2.7 3.1l-2.7 3.1l-2.7 -3.1z" fill="#ff1a1a"/>
<rect x="48.4" y="269.8" width="165.8" height="118.0" fill="none" stroke="#000" stroke-width="1.3"/>
<path d="M92.0 387.8v-2.5M92.0 269.8v2.5M135.7 387.8v-2.5M135.7 269.8v2.5M179.3 387.8v-2.5M179.3 269.8v2.5M48.4 342.4h2.5M214.2 342.4h-2.5M48.4 297.0h2.5M214.2 297.0h-2.5" stroke="#000" stroke-width="1.2" fill="none"/>
<text x="44" y="393.1" font-size="12" text-anchor="end">0</text>
<text x="44" y="347.7" font-size="12" text-anchor="end">20</text>
<text x="44" y="302.3" font-size="12" text-anchor="end">40</text>
<text x="55.4" y="285.7" font-size="12">Nith, New Hamburg (N1)</text>
<text x="55.4" y="303.1" font-size="12">KGE = 0.84</text>
<text x="198.5" y="286.3" font-size="18" font-weight="bold">g</text>
</g>
<g>
<clipPath id="cph"><rect x="226.6" y="269.8" width="165.8" height="118.0"/></clipPath>
<g clip-path="url(#cph)">
<polygon points="226.6,376.0 227.7,376.0 228.8,376.0 229.9,376.0 231.0,376.0 232.1,376.0 233.1,376.0 234.2,376.0 235.3,376.0 236.4,376.0 237.5,376.0 238.6,376.0 239.7,376.0 240.8,376.0 241.9,376.0 243.0,376.0 244.1,376.0 245.1,376.0 246.2,376.0 247.3,376.0 248.4,376.0 249.5,376.0 250.6,376.0 251.7,376.0 252.8,376.0 253.9,376.0 255.0,375.9 256.1,375.9 257.1,375.8 258.2,375.7 259.3,375.7 260.4,375.6 261.5,375.5 262.6,375.3 263.7,375.2 264.8,375.0 265.9,374.8 267.0,374.6 268.1,374.3 269.1,374.0 270.2,373.6 271.3,373.2 272.4,372.7 273.5,372.2 274.6,371.6 275.7,370.9 276.8,370.2 277.9,369.3 279.0,368.1 280.0,366.9 281.1,365.5 282.2,364.1 283.3,362.6 284.4,361.2 285.5,360.1 286.6,359.2 287.7,358.6 288.8,358.1 289.9,357.7 291.0,357.3 292.0,356.7 293.1,356.0 294.2,354.9 295.3,353.7 296.4,352.3 297.5,350.8 298.6,349.3 299.7,347.8 300.8,346.4 301.9,345.2 303.0,344.1 304.0,343.2 305.1,342.4 306.2,341.8 307.3,341.2 308.4,340.7 309.5,340.2 310.6,339.4 311.7,338.5 312.8,337.5 313.9,336.4 315.0,335.0 316.0,333.5 317.1,331.8 318.2,329.9 319.3,327.9 320.4,325.8 321.5,323.7 322.6,321.8 323.7,320.2 324.8,319.3 325.9,319.2 327.0,320.0 328.0,321.4 329.1,323.2 330.2,324.8 331.3,326.0 332.4,326.3 333.5,325.5 334.6,323.5 335.7,320.9 336.8,318.2 337.9,315.6 339.0,313.5 340.0,312.4 341.1,312.3 342.2,313.1 343.3,314.2 344.4,315.3 345.5,316.3 346.6,317.1 347.7,317.9 348.8,318.9 349.9,320.2 350.9,322.0 352.0,323.9 353.1,325.8 354.2,327.4 355.3,328.5 356.4,328.5 357.5,327.6 358.6,325.9 359.7,323.8 360.8,321.7 361.9,319.9 362.9,318.3 364.0,317.0 365.1,315.8 366.2,314.9 367.3,314.2 368.4,313.2 369.5,312.0 370.6,311.0 371.7,310.5 372.8,310.5 373.9,310.9 374.9,311.6 376.0,313.2 377.1,315.4 378.2,317.6 379.3,319.2 380.4,320.2 381.5,321.0 382.6,321.8 383.7,322.1 384.8,322.0 385.9,322.0 386.9,322.4 388.0,323.2 389.1,324.0 390.2,324.7 391.3,325.4 392.4,326.0 392.4,357.7 391.3,357.4 390.2,357.0 389.1,356.6 388.0,356.2 386.9,355.8 385.9,355.6 384.8,355.7 383.7,355.8 382.6,355.8 381.5,355.5 380.4,355.2 379.3,354.8 378.2,354.0 377.1,352.9 376.0,351.7 374.9,350.8 373.9,350.4 372.8,350.2 371.7,350.1 370.6,350.3 369.5,350.8 368.4,351.3 367.3,351.8 366.2,352.1 365.1,352.5 364.0,353.1 362.9,353.8 361.9,354.6 360.8,355.6 359.7,356.8 358.6,357.9 357.5,358.8 356.4,359.4 355.3,359.3 354.2,358.7 353.1,357.8 352.0,356.7 350.9,355.7 349.9,354.9 348.8,354.2 347.7,353.8 346.6,353.5 345.5,353.1 344.4,352.7 343.3,352.1 342.2,351.5 341.1,351.1 340.0,351.0 339.0,351.6 337.9,352.6 336.8,353.9 335.7,355.3 334.6,356.7 333.5,357.8 332.4,358.2 331.3,358.1 330.2,357.4 329.1,356.5 328.0,355.6 327.0,354.8 325.9,354.3 324.8,354.3 323.7,354.7 322.6,355.4 321.5,356.3 320.4,357.3 319.3,358.2 318.2,359.0 317.1,359.8 316.0,360.5 315.0,361.2 313.9,361.8 312.8,362.3 311.7,362.7 310.6,363.2 309.5,363.5 308.4,363.7 307.3,363.9 306.2,364.1 305.1,364.4 304.0,364.7 303.0,365.1 301.9,365.6 300.8,366.2 299.7,366.9 298.6,367.6 297.5,368.3 296.4,369.0 295.3,369.7 294.2,370.3 293.1,370.8 292.0,371.1 291.0,371.4 289.9,371.6 288.8,371.8 287.7,372.0 286.6,372.4 285.5,372.8 284.4,373.5 283.3,374.2 282.2,374.9 281.1,375.6 280.0,376.2 279.0,376.8 277.9,377.2 276.8,377.5 275.7,377.8 274.6,378.0 273.5,378.3 272.4,378.5 271.3,378.7 270.2,378.9 269.1,379.0 268.1,379.1 267.0,379.2 265.9,379.3 264.8,379.4 263.7,379.4 262.6,379.5 261.5,379.5 260.4,379.6 259.3,379.6 258.2,379.7 257.1,379.7 256.1,379.7 255.0,379.7 253.9,379.8 252.8,379.8 251.7,379.8 250.6,379.8 249.5,379.8 248.4,379.8 247.3,379.8 246.2,379.8 245.1,379.8 244.1,379.8 243.0,379.8 241.9,379.8 240.8,379.8 239.7,379.8 238.6,379.8 237.5,379.8 236.4,379.8 235.3,379.8 234.2,379.8 233.1,379.8 232.1,379.8 231.0,379.8 229.9,379.8 228.8,379.8 227.7,379.8 226.6,379.8" fill="#e6e6e6" stroke="none"/>
<polyline points="226.0,373.3 255.0,373.3 263.8,372.5 272.5,370.1 276.0,366.6 282.1,362.3 283.1,357.5 285.2,347.4 287.2,350.9 288.2,352.5 289.2,352.1 291.9,350.9 294.3,349.7 296.3,344.7 298.4,339.6 300.8,336.7 302.9,333.6 305.1,329.9 306.5,330.2 307.5,330.9 309.6,331.1 311.6,326.3 312.6,327.7 314.1,327.2 316.3,321.5 318.3,312.7 320.4,316.0 322.8,308.3 324.8,294.8 325.9,291.8 327.3,294.0 329.3,311.7 331.3,322.8 333.6,320.6 335.6,306.6 337.0,302.0 338.1,295.4 340.3,274.6 342.3,296.3 344.8,309.4 346.8,305.8 348.8,294.2 351.7,300.2 353.3,313.5 355.8,336.3 357.8,317.6 360.0,294.4 362.5,303.5 363.5,307.8 364.5,304.5 366.1,292.5 369.0,299.0 370.8,293.9 373.3,293.1 375.1,273.1 377.3,304.2 378.8,320.7 379.8,312.5 380.8,297.5 381.8,302.7 382.8,316.3 383.8,312.3 384.9,300.1 386.5,299.6 388.3,307.5 390.6,319.7 393.0,308.0" fill="none" stroke="#333" stroke-width="1" stroke-dasharray="4.3,2.9"/>
<polyline points="226.0,379.9 255.0,379.9 263.8,379.6 272.5,379.0 276.0,377.6 282.1,377.5 283.1,374.8 285.2,370.8 287.2,371.9 288.2,372.7 289.2,372.6 291.9,372.0 294.3,372.0 296.3,369.7 298.4,367.9 300.8,366.8 302.9,365.7 305.1,364.5 306.5,364.5 307.5,364.9 309.6,365.4 311.6,363.2 312.6,363.8 314.1,364.0 316.3,361.4 318.3,358.4 320.4,360.5 322.8,357.9 324.8,352.0 325.9,351.0 327.3,351.8 329.3,359.1 331.3,364.2 333.6,363.4 335.6,356.4 337.0,354.9 338.1,352.1 340.3,345.3 342.3,352.5 344.8,359.6 346.8,356.7 348.8,351.9 351.7,354.0 353.3,358.5 355.8,371.8 357.8,360.7 360.0,352.2 362.5,355.0 363.5,358.1 364.5,356.1 366.1,351.3 369.0,354.1 370.8,351.9 373.3,351.8 375.1,344.9 377.3,355.8 378.8,365.1 379.8,359.6 380.8,353.2 381.8,354.9 382.8,361.9 383.8,359.5 384.9,354.0 386.5,353.8 388.3,356.4 390.6,363.1 393.0,356.7" fill="none" stroke="#333" stroke-width="1" stroke-dasharray="4.3,2.9"/>
<polyline points="226.0,377.5 255.0,377.5 263.8,376.9 272.5,375.1 276.0,372.8 282.1,369.6 283.1,366.1 285.2,359.3 287.2,361.5 288.2,362.6 289.2,362.3 291.9,361.4 294.3,360.6 296.3,357.0 298.4,353.5 300.8,351.3 302.9,349.1 305.1,346.6 306.5,346.7 307.5,347.1 309.6,347.3 311.6,344.0 312.6,344.9 314.1,344.5 316.3,340.4 318.3,334.5 320.4,336.5 322.8,331.0 324.8,321.7 325.9,319.7 327.3,321.3 329.3,333.4 331.3,341.4 333.6,339.8 335.6,329.8 337.0,326.5 338.1,321.9 340.3,308.2 342.3,322.4 344.8,331.8 346.8,329.2 348.8,321.5 351.7,325.7 353.3,334.7 355.8,351.0 357.8,337.7 360.0,322.0 362.5,327.6 363.5,330.6 364.5,328.3 366.1,320.2 369.0,324.4 370.8,320.7 373.3,320.1 375.1,307.4 377.3,328.1 378.8,339.9 379.8,334.0 380.8,324.1 381.8,327.4 382.8,336.7 383.8,333.9 384.9,325.6 386.5,325.3 388.3,330.5 390.6,339.1 393.0,331.0" fill="none" stroke="#000" stroke-width="1.4" stroke-linejoin="round"/>
</g>
<path d="M283.1 369.8l2.7 3.1l-2.7 3.1l-2.7 -3.1z" fill="#ff1a1a"/>
<path d="M285.2 355.2l2.7 3.1l-2.7 3.1l-2.7 -3.1z" fill="#ff1a1a"/>
<path d="M287.2 358.2l2.7 3.1l-2.7 3.1l-2.7 -3.1z" fill="#ff1a1a"/>
<path d="M289.2 359.6l2.7 3.1l-2.7 3.1l-2.7 -3.1z" fill="#ff1a1a"/>
<path d="M291.9 358.8l2.7 3.1l-2.7 3.1l-2.7 -3.1z" fill="#ff1a1a"/>
<path d="M294.3 357.6l2.7 3.1l-2.7 3.1l-2.7 -3.1z" fill="#ff1a1a"/>
<path d="M296.3 351.1l2.7 3.1l-2.7 3.1l-2.7 -3.1z" fill="#ff1a1a"/>
<path d="M298.4 345.0l2.7 3.1l-2.7 3.1l-2.7 -3.1z" fill="#ff1a1a"/>
<path d="M300.8 349.0l2.7 3.1l-2.7 3.1l-2.7 -3.1z" fill="#ff1a1a"/>
<path d="M302.9 341.9l2.7 3.1l-2.7 3.1l-2.7 -3.1z" fill="#ff1a1a"/>
<path d="M305.1 333.8l2.7 3.1l-2.7 3.1l-2.7 -3.1z" fill="#ff1a1a"/>
<path d="M307.5 345.0l2.7 3.1l-2.7 3.1l-2.7 -3.1z" fill="#ff1a1a"/>
<path d="M309.6 350.1l2.7 3.1l-2.7 3.1l-2.7 -3.1z" fill="#ff1a1a"/>
<path d="M311.6 331.8l2.7 3.1l-2.7 3.1l-2.7 -3.1z" fill="#ff1a1a"/>
<path d="M314.1 349.0l2.7 3.1l-2.7 3.1l-2.7 -3.1z" fill="#ff1a1a"/>
<path d="M316.3 340.9l2.7 3.1l-2.7 3.1l-2.7 -3.1z" fill="#ff1a1a"/>
<path d="M318.3 310.8l2.7 3.1l-2.7 3.1l-2.7 -3.1z" fill="#ff1a1a"/>
<path d="M320.4 336.8l2.7 3.1l-2.7 3.1l-2.7 -3.1z" fill="#ff1a1a"/>
<path d="M322.8 327.7l2.7 3.1l-2.7 3.1l-2.7 -3.1z" fill="#ff1a1a"/>
<path d="M324.8 296.6l2.7 3.1l-2.7 3.1l-2.7 -3.1z" fill="#ff1a1a"/>
<path d="M327.3 305.3l2.7 3.1l-2.7 3.1l-2.7 -3.1z" fill="#ff1a1a"/>
<path d="M329.3 339.9l2.7 3.1l-2.7 3.1l-2.7 -3.1z" fill="#ff1a1a"/>
<path d="M331.3 341.3l2.7 3.1l-2.7 3.1l-2.7 -3.1z" fill="#ff1a1a"/>
<path d="M333.6 348.0l2.7 3.1l-2.7 3.1l-2.7 -3.1z" fill="#ff1a1a"/>
<path d="M335.6 320.2l2.7 3.1l-2.7 3.1l-2.7 -3.1z" fill="#ff1a1a"/>
<path d="M338.1 328.7l2.7 3.1l-2.7 3.1l-2.7 -3.1z" fill="#ff1a1a"/>
<path d="M340.3 295.7l2.7 3.1l-2.7 3.1l-2.7 -3.1z" fill="#ff1a1a"/>
<path d="M342.3 324.2l2.7 3.1l-2.7 3.1l-2.7 -3.1z" fill="#ff1a1a"/>
<path d="M344.8 340.5l2.7 3.1l-2.7 3.1l-2.7 -3.1z" fill="#ff1a1a"/>
<path d="M346.8 331.8l2.7 3.1l-2.7 3.1l-2.7 -3.1z" fill="#ff1a1a"/>
<path d="M348.8 300.6l2.7 3.1l-2.7 3.1l-2.7 -3.1z" fill="#ff1a1a"/>
<path d="M351.7 300.6l2.7 3.1l-2.7 3.1l-2.7 -3.1z" fill="#ff1a1a"/>
<path d="M353.3 314.0l2.7 3.1l-2.7 3.1l-2.7 -3.1z" fill="#ff1a1a"/>
<path d="M355.8 358.2l2.7 3.1l-2.7 3.1l-2.7 -3.1z" fill="#ff1a1a"/>
<path d="M357.8 330.7l2.7 3.1l-2.7 3.1l-2.7 -3.1z" fill="#ff1a1a"/>
<path d="M360.0 309.4l2.7 3.1l-2.7 3.1l-2.7 -3.1z" fill="#ff1a1a"/>
<path d="M362.5 331.8l2.7 3.1l-2.7 3.1l-2.7 -3.1z" fill="#ff1a1a"/>
<path d="M364.5 336.4l2.7 3.1l-2.7 3.1l-2.7 -3.1z" fill="#ff1a1a"/>
<path d="M366.1 307.3l2.7 3.1l-2.7 3.1l-2.7 -3.1z" fill="#ff1a1a"/>
<path d="M369.0 322.6l2.7 3.1l-2.7 3.1l-2.7 -3.1z" fill="#ff1a1a"/>
<path d="M370.8 312.0l2.7 3.1l-2.7 3.1l-2.7 -3.1z" fill="#ff1a1a"/>
<path d="M373.3 347.4l2.7 3.1l-2.7 3.1l-2.7 -3.1z" fill="#ff1a1a"/>
<path d="M375.1 297.2l2.7 3.1l-2.7 3.1l-2.7 -3.1z" fill="#ff1a1a"/>
<path d="M377.3 330.3l2.7 3.1l-2.7 3.1l-2.7 -3.1z" fill="#ff1a1a"/>
<path d="M379.8 353.5l2.7 3.1l-2.7 3.1l-2.7 -3.1z" fill="#ff1a1a"/>
<path d="M381.8 314.9l2.7 3.1l-2.7 3.1l-2.7 -3.1z" fill="#ff1a1a"/>
<path d="M383.8 358.2l2.7 3.1l-2.7 3.1l-2.7 -3.1z" fill="#ff1a1a"/>
<path d="M386.5 317.5l2.7 3.1l-2.7 3.1l-2.7 -3.1z" fill="#ff1a1a"/>
<path d="M388.3 320.2l2.7 3.1l-2.7 3.1l-2.7 -3.1z" fill="#ff1a1a"/>
<path d="M390.6 354.1l2.7 3.1l-2.7 3.1l-2.7 -3.1z" fill="#ff1a1a"/>
<rect x="226.6" y="269.8" width="165.8" height="118.0" fill="none" stroke="#000" stroke-width="1.3"/>
<path d="M270.2 387.8v-2.5M270.2 269.8v2.5M313.9 387.8v-2.5M313.9 269.8v2.5M357.5 387.8v-2.5M357.5 269.8v2.5M226.6 342.4h2.5M392.4 342.4h-2.5M226.6 297.0h2.5M392.4 297.0h-2.5" stroke="#000" stroke-width="1.2" fill="none"/>
<text x="233.6" y="285.7" font-size="12">Canagagigue Creek (CA)</text>
<text x="233.6" y="303.1" font-size="12">KGE = 0.71</text>
<text x="375.9" y="286.3" font-size="18" font-weight="bold">h</text>
</g>
<g>
<clipPath id="cpi"><rect x="404.8" y="269.8" width="165.8" height="118.0"/></clipPath>
<g clip-path="url(#cpi)">
<polygon points="404.8,379.2 405.9,379.2 407.0,379.2 408.1,379.2 409.2,379.2 410.3,379.2 411.3,379.2 412.4,379.2 413.5,379.2 414.6,379.2 415.7,379.2 416.8,379.2 417.9,379.2 419.0,379.2 420.1,379.2 421.2,379.2 422.3,379.2 423.3,379.2 424.4,379.2 425.5,379.2 426.6,379.2 427.7,379.2 428.8,379.2 429.9,379.2 431.0,379.2 432.1,379.1 433.2,379.1 434.3,379.1 435.3,379.0 436.4,378.9 437.5,378.8 438.6,378.6 439.7,378.5 440.8,378.3 441.9,378.1 443.0,377.9 444.1,377.7 445.2,377.4 446.2,377.2 447.3,376.9 448.4,376.6 449.5,376.2 450.6,375.8 451.7,375.4 452.8,375.0 453.9,374.5 455.0,374.1 456.1,373.6 457.2,373.2 458.2,372.7 459.3,372.2 460.4,371.7 461.5,371.2 462.6,370.7 463.7,370.1 464.8,369.6 465.9,369.0 467.0,368.4 468.1,367.8 469.2,367.2 470.2,366.6 471.3,366.0 472.4,365.4 473.5,364.7 474.6,364.0 475.7,363.3 476.8,362.5 477.9,361.7 479.0,361.0 480.1,360.4 481.2,360.1 482.2,359.8 483.3,359.7 484.4,359.9 485.5,360.3 486.6,360.7 487.7,360.8 488.8,360.6 489.9,360.1 491.0,359.6 492.1,358.7 493.2,357.5 494.2,356.0 495.3,354.2 496.4,352.3 497.5,350.3 498.6,347.9 499.7,345.5 500.8,343.4 501.9,341.8 503.0,341.0 504.1,341.1 505.2,341.9 506.2,343.2 507.3,344.3 508.4,344.7 509.5,344.2 510.6,342.6 511.7,339.8 512.8,336.1 513.9,332.4 515.0,329.6 516.1,327.9 517.2,327.4 518.2,328.1 519.3,329.7 520.4,331.4 521.5,332.5 522.6,332.8 523.7,332.3 524.8,331.3 525.9,330.1 527.0,329.6 528.1,330.0 529.1,331.1 530.2,332.4 531.3,333.5 532.4,334.2 533.5,334.2 534.6,333.3 535.7,331.9 536.8,330.5 537.9,329.7 539.0,329.8 540.1,330.6 541.1,331.5 542.2,332.6 543.3,333.6 544.4,334.4 545.5,334.8 546.6,334.3 547.7,333.1 548.8,332.0 549.9,331.3 551.0,330.8 552.1,330.0 553.1,329.1 554.2,329.4 555.3,330.7 556.4,331.6 557.5,331.7 558.6,330.9 559.7,330.1 560.8,329.6 561.9,328.6 563.0,326.9 564.1,325.8 565.1,325.8 566.2,326.8 567.3,328.5 568.4,330.2 569.5,331.8 570.6,333.8 570.6,361.7 569.5,360.6 568.4,359.9 567.3,359.0 566.2,358.0 565.1,357.5 564.1,357.6 563.0,358.3 561.9,359.4 560.8,359.8 559.7,360.0 558.6,360.4 557.5,360.7 556.4,360.6 555.3,360.0 554.2,359.1 553.1,358.9 552.1,359.3 551.0,359.7 549.9,359.8 548.8,360.0 547.7,360.5 546.6,361.2 545.5,361.4 544.4,361.2 543.3,360.7 542.2,360.3 541.1,359.7 540.1,359.3 539.0,359.0 537.9,359.2 536.8,359.9 535.7,360.8 534.6,361.8 533.5,362.5 532.4,362.5 531.3,362.1 530.2,361.4 529.1,360.6 528.1,359.9 527.0,359.6 525.9,359.8 524.8,360.5 523.7,361.0 522.6,361.3 521.5,361.0 520.4,360.1 519.3,358.9 518.2,357.9 517.2,357.3 516.1,357.4 515.0,358.3 513.9,360.0 512.8,362.1 511.7,364.3 510.6,365.9 509.5,366.8 508.4,367.1 507.3,366.8 506.2,366.1 505.2,365.2 504.1,364.7 503.0,364.5 501.9,364.9 500.8,365.7 499.7,366.8 498.6,368.2 497.5,369.4 496.4,370.5 495.3,371.5 494.2,372.4 493.2,373.1 492.1,373.7 491.0,374.0 489.9,374.2 488.8,374.3 487.7,374.4 486.6,374.2 485.5,373.9 484.4,373.8 483.3,373.7 482.2,373.9 481.2,374.0 480.1,374.3 479.0,374.6 477.9,375.0 476.8,375.4 475.7,375.8 474.6,376.2 473.5,376.6 472.4,377.0 471.3,377.4 470.2,377.8 469.2,378.2 468.1,378.5 467.0,378.9 465.9,379.3 464.8,379.7 463.7,380.0 462.6,380.4 461.5,380.7 460.4,381.0 459.3,381.3 458.2,381.6 457.2,381.9 456.1,382.2 455.0,382.5 453.9,382.7 452.8,383.0 451.7,383.2 450.6,383.4 449.5,383.5 448.4,383.7 447.3,383.8 446.2,383.9 445.2,384.0 444.1,384.1 443.0,384.1 441.9,384.2 440.8,384.3 439.7,384.3 438.6,384.3 437.5,384.4 436.4,384.4 435.3,384.5 434.3,384.5 433.2,384.5 432.1,384.5 431.0,384.5 429.9,384.5 428.8,384.6 427.7,384.6 426.6,384.6 425.5,384.6 424.4,384.6 423.3,384.6 422.3,384.6 421.2,384.6 420.1,384.6 419.0,384.6 417.9,384.6 416.8,384.7 415.7,384.7 414.6,384.7 413.5,384.7 412.4,384.7 411.3,384.7 410.3,384.7 409.2,384.7 408.1,384.7 407.0,384.7 405.9,384.7 404.8,384.7" fill="#e6e6e6" stroke="none"/>
<polyline points="404.0,378.5 435.3,378.5 447.8,376.2 458.8,371.5 466.6,367.6 474.4,362.9 480.7,358.2 483.8,351.9 485.5,361.2 487.2,365.1 488.4,359.6 489.7,356.3 491.1,360.5 492.0,361.7 494.2,355.6 496.0,346.0 498.1,353.5 499.0,351.0 500.7,342.7 501.6,336.8 502.8,327.1 505.1,329.6 506.9,350.6 509.0,352.0 511.3,351.4 512.2,341.2 513.9,320.8 515.7,320.3 517.8,306.6 519.2,321.5 520.1,330.8 520.9,338.7 522.3,351.3 524.5,340.0 526.6,302.0 528.0,307.7 529.0,320.8 531.1,346.1 533.6,351.1 535.3,319.1 536.7,311.8 537.6,312.2 538.5,317.8 539.9,334.0 542.4,336.5 543.8,329.5 544.7,328.7 545.5,334.5 546.8,337.1 548.7,324.7 551.2,340.8 553.1,304.9 554.3,319.4 555.5,334.9 557.5,340.0 559.6,316.7 561.7,352.7 563.1,315.7 564.1,299.8 566.1,311.7 568.4,343.3 571.0,335.3" fill="none" stroke="#333" stroke-width="1" stroke-dasharray="4.3,2.9"/>
<polyline points="404.0,385.1 435.3,384.8 451.0,384.0 463.5,380.9 474.4,377.0 480.7,374.6 485.4,372.3 487.2,379.5 488.4,375.7 489.7,374.2 491.1,376.5 492.0,377.7 494.2,373.9 496.0,369.4 498.1,374.6 499.0,373.0 500.7,367.9 501.6,364.9 502.8,360.6 505.1,361.7 506.9,373.6 509.0,374.0 511.3,374.6 512.2,367.4 513.9,357.4 515.7,357.0 517.8,351.0 519.2,357.6 520.1,361.9 520.9,367.4 522.3,376.9 524.5,369.4 526.6,348.9 528.0,351.3 529.0,357.1 531.1,373.9 533.6,377.7 535.3,356.5 536.7,353.2 537.6,353.4 538.5,355.8 539.9,366.1 542.4,366.3 543.8,361.3 544.7,361.0 545.5,364.2 546.8,366.1 548.7,359.2 551.2,370.6 553.1,350.3 554.3,356.6 555.5,366.1 557.5,369.2 559.6,355.6 561.7,380.3 563.1,354.8 564.1,347.9 566.1,353.1 568.4,372.6 571.0,364.1" fill="none" stroke="#333" stroke-width="1" stroke-dasharray="4.3,2.9"/>
<polyline points="404.0,382.9 443.1,382.9 451.0,380.9 458.8,378.5 466.6,375.4 474.4,371.9 480.9,372.2 483.2,367.3 485.5,368.9 487.2,371.8 488.4,367.8 489.7,365.6 491.1,368.4 492.0,369.3 494.2,364.8 496.0,358.1 498.1,363.2 499.0,361.4 500.7,355.2 501.6,351.1 502.8,344.5 505.1,346.2 506.9,361.1 509.0,362.1 511.3,361.6 512.2,354.1 513.9,339.7 515.7,339.0 517.8,329.8 519.2,340.0 520.1,346.4 520.9,352.2 522.3,361.6 524.5,353.2 526.6,326.6 528.0,330.2 529.0,339.2 531.1,357.7 533.6,361.5 535.3,338.2 536.7,333.1 537.6,333.4 538.5,337.2 539.9,348.8 542.4,350.7 543.8,345.7 544.7,345.2 545.5,349.2 546.8,351.1 548.7,342.3 551.2,353.8 553.1,328.7 554.3,338.5 555.5,349.4 557.5,353.2 559.6,336.9 561.7,362.6 563.1,335.7 564.1,325.0 566.1,333.1 568.4,355.7 571.0,349.7" fill="none" stroke="#000" stroke-width="1.4" stroke-linejoin="round"/>
</g>
<path d="M480.9 371.2l2.7 3.1l-2.7 3.1l-2.7 -3.1z" fill="#ff1a1a"/>
<path d="M483.2 364.5l2.7 3.1l-2.7 3.1l-2.7 -3.1z" fill="#ff1a1a"/>
<path d="M485.5 366.3l2.7 3.1l-2.7 3.1l-2.7 -3.1z" fill="#ff1a1a"/>
<path d="M487.2 372.6l2.7 3.1l-2.7 3.1l-2.7 -3.1z" fill="#ff1a1a"/>
<path d="M489.7 362.8l2.7 3.1l-2.7 3.1l-2.7 -3.1z" fill="#ff1a1a"/>
<path d="M492.0 369.1l2.7 3.1l-2.7 3.1l-2.7 -3.1z" fill="#ff1a1a"/>
<path d="M494.2 362.8l2.7 3.1l-2.7 3.1l-2.7 -3.1z" fill="#ff1a1a"/>
<path d="M496.0 353.3l2.7 3.1l-2.7 3.1l-2.7 -3.1z" fill="#ff1a1a"/>
<path d="M498.1 363.3l2.7 3.1l-2.7 3.1l-2.7 -3.1z" fill="#ff1a1a"/>
<path d="M500.7 353.3l2.7 3.1l-2.7 3.1l-2.7 -3.1z" fill="#ff1a1a"/>
<path d="M502.8 339.2l2.7 3.1l-2.7 3.1l-2.7 -3.1z" fill="#ff1a1a"/>
<path d="M505.1 339.6l2.7 3.1l-2.7 3.1l-2.7 -3.1z" fill="#ff1a1a"/>
<path d="M506.9 358.6l2.7 3.1l-2.7 3.1l-2.7 -3.1z" fill="#ff1a1a"/>
<path d="M509.0 359.3l2.7 3.1l-2.7 3.1l-2.7 -3.1z" fill="#ff1a1a"/>
<path d="M511.3 364.5l2.7 3.1l-2.7 3.1l-2.7 -3.1z" fill="#ff1a1a"/>
<path d="M513.9 337.0l2.7 3.1l-2.7 3.1l-2.7 -3.1z" fill="#ff1a1a"/>
<path d="M515.7 337.0l2.7 3.1l-2.7 3.1l-2.7 -3.1z" fill="#ff1a1a"/>
<path d="M517.8 324.1l2.7 3.1l-2.7 3.1l-2.7 -3.1z" fill="#ff1a1a"/>
<path d="M520.1 345.7l2.7 3.1l-2.7 3.1l-2.7 -3.1z" fill="#ff1a1a"/>
<path d="M522.3 365.1l2.7 3.1l-2.7 3.1l-2.7 -3.1z" fill="#ff1a1a"/>
<path d="M524.5 353.6l2.7 3.1l-2.7 3.1l-2.7 -3.1z" fill="#ff1a1a"/>
<path d="M526.6 321.7l2.7 3.1l-2.7 3.1l-2.7 -3.1z" fill="#ff1a1a"/>
<path d="M529.0 335.2l2.7 3.1l-2.7 3.1l-2.7 -3.1z" fill="#ff1a1a"/>
<path d="M531.1 358.6l2.7 3.1l-2.7 3.1l-2.7 -3.1z" fill="#ff1a1a"/>
<path d="M533.6 368.6l2.7 3.1l-2.7 3.1l-2.7 -3.1z" fill="#ff1a1a"/>
<path d="M535.3 335.2l2.7 3.1l-2.7 3.1l-2.7 -3.1z" fill="#ff1a1a"/>
<path d="M537.6 329.4l2.7 3.1l-2.7 3.1l-2.7 -3.1z" fill="#ff1a1a"/>
<path d="M539.9 349.8l2.7 3.1l-2.7 3.1l-2.7 -3.1z" fill="#ff1a1a"/>
<path d="M542.4 351.0l2.7 3.1l-2.7 3.1l-2.7 -3.1z" fill="#ff1a1a"/>
<path d="M544.7 343.1l2.7 3.1l-2.7 3.1l-2.7 -3.1z" fill="#ff1a1a"/>
<path d="M546.8 354.0l2.7 3.1l-2.7 3.1l-2.7 -3.1z" fill="#ff1a1a"/>
<path d="M548.7 339.2l2.7 3.1l-2.7 3.1l-2.7 -3.1z" fill="#ff1a1a"/>
<path d="M551.2 363.3l2.7 3.1l-2.7 3.1l-2.7 -3.1z" fill="#ff1a1a"/>
<path d="M553.1 325.9l2.7 3.1l-2.7 3.1l-2.7 -3.1z" fill="#ff1a1a"/>
<path d="M555.5 349.8l2.7 3.1l-2.7 3.1l-2.7 -3.1z" fill="#ff1a1a"/>
<path d="M557.5 359.3l2.7 3.1l-2.7 3.1l-2.7 -3.1z" fill="#ff1a1a"/>
<path d="M559.6 332.2l2.7 3.1l-2.7 3.1l-2.7 -3.1z" fill="#ff1a1a"/>
<path d="M561.7 365.6l2.7 3.1l-2.7 3.1l-2.7 -3.1z" fill="#ff1a1a"/>
<path d="M564.1 319.4l2.7 3.1l-2.7 3.1l-2.7 -3.1z" fill="#ff1a1a"/>
<path d="M566.1 328.7l2.7 3.1l-2.7 3.1l-2.7 -3.1z" fill="#ff1a1a"/>
<path d="M568.4 355.4l2.7 3.1l-2.7 3.1l-2.7 -3.1z" fill="#ff1a1a"/>
<rect x="404.8" y="269.8" width="165.8" height="118.0" fill="none" stroke="#000" stroke-width="1.3"/>
<path d="M448.4 387.8v-2.5M448.4 269.8v2.5M492.1 387.8v-2.5M492.1 269.8v2.5M535.7 387.8v-2.5M535.7 269.8v2.5M404.8 342.4h2.5M570.6 342.4h-2.5M404.8 297.0h2.5M570.6 297.0h-2.5" stroke="#000" stroke-width="1.2" fill="none"/>
<text x="411.8" y="285.7" font-size="12">Conestogo River (CO)</text>
<text x="411.8" y="303.1" font-size="12">KGE = 0.78</text>
<text x="553.9" y="286.3" font-size="18" font-weight="bold">i</text>
</g>
<g>
<clipPath id="cpj"><rect x="48.4" y="403.2" width="165.8" height="118.0"/></clipPath>
<g clip-path="url(#cpj)">
<polygon points="48.4,509.6 49.5,509.6 50.6,509.6 51.7,509.6 52.8,509.6 53.9,509.6 54.9,509.6 56.0,509.6 57.1,509.6 58.2,509.6 59.3,509.6 60.4,509.6 61.5,509.6 62.6,509.6 63.7,509.6 64.8,509.6 65.9,509.6 66.9,509.7 68.0,509.8 69.1,509.9 70.2,509.9 71.3,510.0 72.4,510.1 73.5,510.1 74.6,510.0 75.7,509.9 76.8,509.8 77.9,509.7 78.9,509.7 80.0,509.7 81.1,509.7 82.2,509.8 83.3,510.0 84.4,510.1 85.5,510.1 86.6,510.1 87.7,510.0 88.8,509.9 89.8,509.6 90.9,509.3 92.0,508.9 93.1,508.5 94.2,508.0 95.3,507.5 96.4,506.9 97.5,506.3 98.6,505.7 99.7,505.1 100.8,504.4 101.8,503.7 102.9,503.0 104.0,502.4 105.1,501.7 106.2,500.9 107.3,500.2 108.4,499.7 109.5,499.2 110.6,498.8 111.7,498.2 112.8,497.6 113.8,496.9 114.9,496.0 116.0,494.9 117.1,493.7 118.2,492.4 119.3,491.1 120.4,489.9 121.5,488.8 122.6,487.9 123.7,487.0 124.8,486.2 125.8,485.5 126.9,484.7 128.0,484.0 129.1,483.3 130.2,482.7 131.3,482.1 132.4,481.4 133.5,480.5 134.6,479.4 135.7,478.2 136.8,476.5 137.8,474.5 138.9,472.1 140.0,469.7 141.1,467.5 142.2,465.3 143.3,463.3 144.4,461.7 145.5,460.8 146.6,460.5 147.7,460.7 148.8,461.6 149.8,463.3 150.9,465.3 152.0,467.0 153.1,468.3 154.2,469.0 155.3,468.7 156.4,467.1 157.5,464.6 158.6,461.9 159.7,459.6 160.8,457.5 161.8,456.0 162.9,455.4 164.0,455.4 165.1,455.5 166.2,454.9 167.3,454.0 168.4,452.9 169.5,452.0 170.6,451.4 171.7,451.5 172.8,452.6 173.8,454.6 174.9,456.9 176.0,459.0 177.1,460.3 178.2,460.9 179.3,460.4 180.4,459.2 181.5,457.7 182.6,456.2 183.7,455.0 184.7,454.2 185.8,453.3 186.9,452.6 188.0,452.2 189.1,451.8 190.2,450.9 191.3,449.7 192.4,448.5 193.5,448.0 194.6,448.3 195.7,448.4 196.7,448.5 197.8,449.7 198.9,452.2 200.0,455.0 201.1,457.1 202.2,458.5 203.3,459.8 204.4,461.2 205.5,462.0 206.6,461.8 207.7,461.7 208.7,461.8 209.8,462.5 210.9,463.5 212.0,464.5 213.1,465.6 214.2,466.7 214.2,493.8 213.1,493.2 212.0,492.5 210.9,491.9 209.8,491.3 208.7,490.9 207.7,490.9 206.6,491.1 205.5,491.2 204.4,490.8 203.3,489.9 202.2,489.3 201.1,488.6 200.0,487.4 198.9,485.8 197.8,484.5 196.7,483.9 195.7,483.9 194.6,483.8 193.5,483.5 192.4,483.5 191.3,484.0 190.2,484.6 189.1,484.9 188.0,485.0 186.9,485.1 185.8,485.6 184.7,486.1 183.7,486.7 182.6,487.5 181.5,488.5 180.4,489.5 179.3,490.4 178.2,490.8 177.1,490.6 176.0,489.9 174.9,488.7 173.8,487.3 172.8,486.1 171.7,485.4 170.6,485.3 169.5,485.6 168.4,486.1 167.3,486.7 166.2,487.2 165.1,487.4 164.0,487.3 162.9,487.2 161.8,487.5 160.8,488.3 159.7,489.5 158.6,490.8 157.5,492.4 156.4,493.8 155.3,494.7 154.2,494.9 153.1,494.5 152.0,493.6 150.9,492.5 149.8,491.3 148.8,490.2 147.7,489.6 146.6,489.3 145.5,489.5 144.4,490.0 143.3,490.9 142.2,492.1 141.1,493.4 140.0,494.7 138.9,496.2 137.8,497.5 136.8,498.7 135.7,499.6 134.6,500.2 133.5,500.7 132.4,501.1 131.3,501.4 130.2,501.6 129.1,501.9 128.0,502.2 126.9,502.6 125.8,503.0 124.8,503.4 123.7,503.8 122.6,504.3 121.5,504.9 120.4,505.5 119.3,506.2 118.2,506.9 117.1,507.7 116.0,508.4 114.9,509.0 113.8,509.5 112.8,509.9 111.7,510.3 110.6,510.6 109.5,510.9 108.4,511.1 107.3,511.4 106.2,511.8 105.1,512.3 104.0,512.7 102.9,513.0 101.8,513.4 100.8,513.8 99.7,514.1 98.6,514.5 97.5,514.8 96.4,515.1 95.3,515.4 94.2,515.7 93.1,515.9 92.0,516.1 90.9,516.3 89.8,516.4 88.8,516.6 87.7,516.6 86.6,516.7 85.5,516.7 84.4,516.7 83.3,516.6 82.2,516.5 81.1,516.5 80.0,516.4 78.9,516.4 77.9,516.5 76.8,516.5 75.7,516.6 74.6,516.6 73.5,516.6 72.4,516.6 71.3,516.6 70.2,516.6 69.1,516.5 68.0,516.5 66.9,516.4 65.9,516.4 64.8,516.4 63.7,516.4 62.6,516.4 61.5,516.4 60.4,516.4 59.3,516.4 58.2,516.4 57.1,516.4 56.0,516.4 54.9,516.4 53.9,516.4 52.8,516.4 51.7,516.4 50.6,516.4 49.5,516.4 48.4,516.4" fill="#e6e6e6" stroke="none"/>
<polyline points="48.0,509.0 68.3,509.0 74.1,510.1 79.9,508.2 85.8,510.5 91.6,508.6 98.0,506.1 101.1,502.0 103.1,501.7 104.1,503.8 105.1,505.0 107.2,495.6 109.8,497.2 112.2,499.0 113.3,498.3 114.7,497.4 116.3,494.1 117.7,490.4 119.4,488.4 120.4,487.6 122.4,487.8 125.5,482.6 128.1,482.7 130.6,482.9 131.6,480.6 133.6,474.4 136.1,482.8 138.3,477.5 140.3,458.8 142.8,461.4 143.8,460.8 145.2,460.4 146.8,457.8 148.9,444.9 151.3,468.4 153.5,474.0 156.0,476.5 158.0,455.8 160.1,460.1 162.5,431.9 164.7,459.6 166.2,464.5 167.2,462.7 168.8,459.6 170.8,429.4 172.3,426.9 173.3,438.1 174.3,455.3 175.3,468.6 176.3,476.8 177.8,473.4 179.8,448.9 182.0,447.8 184.5,457.4 186.9,447.1 189.0,450.4 191.2,451.0 192.8,433.6 195.3,462.2 197.1,419.7 199.3,453.0 200.8,466.4 201.8,465.3 202.8,448.4 203.8,451.7 204.8,476.7 205.8,474.3 206.9,451.7 208.5,450.6 210.3,453.9 213.0,475.7 215.0,462.0" fill="none" stroke="#333" stroke-width="1" stroke-dasharray="4.3,2.9"/>
<polyline points="48.0,517.0 68.3,517.0 74.1,517.6 79.9,516.6 85.8,517.8 91.6,516.8 98.0,516.1 101.1,513.6 103.1,513.4 104.1,514.9 105.1,516.0 107.2,510.5 109.8,511.1 112.2,512.5 113.3,512.1 114.7,511.7 116.3,509.6 117.7,507.8 119.4,506.8 120.4,506.4 122.4,506.6 125.5,503.9 128.1,504.0 130.6,504.5 131.6,502.9 133.6,499.9 136.1,505.7 138.3,502.8 140.3,492.3 142.8,493.2 143.8,493.3 145.2,493.3 146.8,491.4 148.9,485.6 151.3,497.9 153.5,501.2 156.0,503.2 158.0,490.7 160.1,493.8 162.5,479.5 164.7,493.2 166.2,497.2 167.2,496.2 168.8,494.9 170.8,478.1 172.3,477.0 173.3,482.2 174.3,490.7 175.3,500.4 176.3,505.8 177.8,502.5 179.8,487.6 182.0,486.7 184.5,492.9 186.9,486.3 189.0,488.3 191.2,488.9 192.8,479.9 195.3,498.9 197.1,473.8 199.3,489.0 200.8,498.4 201.8,497.1 202.8,487.4 203.8,488.8 204.8,505.3 205.8,503.6 206.9,488.8 208.5,488.3 210.3,489.8 213.0,503.8 215.0,493.7" fill="none" stroke="#333" stroke-width="1" stroke-dasharray="4.3,2.9"/>
<polyline points="48.0,512.8 68.3,512.8 74.1,513.7 79.9,512.2 85.8,513.9 91.6,512.5 98.0,510.5 101.1,507.5 103.1,507.2 104.1,508.8 105.1,509.7 107.2,502.8 109.8,503.8 112.2,505.1 113.3,504.6 114.7,503.9 116.3,501.3 117.7,498.6 119.4,497.1 120.4,496.4 122.4,496.5 125.5,492.6 128.1,492.6 130.6,492.7 131.6,491.0 133.6,486.5 136.1,492.6 138.3,488.6 140.3,474.7 142.8,476.2 143.8,475.7 145.2,475.4 146.8,473.4 148.9,464.5 151.3,481.6 153.5,485.9 156.0,487.8 158.0,472.3 160.1,475.1 162.5,455.2 164.7,474.8 166.2,478.6 167.2,477.2 168.8,474.8 170.8,452.9 172.3,451.2 173.3,459.2 174.3,471.5 175.3,481.7 176.3,488.0 177.8,485.4 179.8,467.5 182.0,466.1 184.5,473.1 186.9,465.5 189.0,467.7 191.2,468.1 192.8,455.6 195.3,476.8 197.1,446.3 199.3,469.7 200.8,480.0 201.8,479.2 202.8,467.2 203.8,469.4 204.8,487.9 205.8,486.1 206.9,469.4 208.5,468.6 210.3,470.9 213.0,487.1 215.0,477.0" fill="none" stroke="#000" stroke-width="1.4" stroke-linejoin="round"/>
</g>
<path d="M103.1 504.4l2.7 3.1l-2.7 3.1l-2.7 -3.1z" fill="#ff1a1a"/>
<path d="M105.1 509.5l2.7 3.1l-2.7 3.1l-2.7 -3.1z" fill="#ff1a1a"/>
<path d="M107.2 499.3l2.7 3.1l-2.7 3.1l-2.7 -3.1z" fill="#ff1a1a"/>
<path d="M109.8 500.3l2.7 3.1l-2.7 3.1l-2.7 -3.1z" fill="#ff1a1a"/>
<path d="M112.2 503.4l2.7 3.1l-2.7 3.1l-2.7 -3.1z" fill="#ff1a1a"/>
<path d="M114.7 502.4l2.7 3.1l-2.7 3.1l-2.7 -3.1z" fill="#ff1a1a"/>
<path d="M117.7 495.2l2.7 3.1l-2.7 3.1l-2.7 -3.1z" fill="#ff1a1a"/>
<path d="M120.4 493.2l2.7 3.1l-2.7 3.1l-2.7 -3.1z" fill="#ff1a1a"/>
<path d="M122.4 494.2l2.7 3.1l-2.7 3.1l-2.7 -3.1z" fill="#ff1a1a"/>
<path d="M125.5 489.7l2.7 3.1l-2.7 3.1l-2.7 -3.1z" fill="#ff1a1a"/>
<path d="M128.1 489.1l2.7 3.1l-2.7 3.1l-2.7 -3.1z" fill="#ff1a1a"/>
<path d="M130.6 490.6l2.7 3.1l-2.7 3.1l-2.7 -3.1z" fill="#ff1a1a"/>
<path d="M133.6 483.0l2.7 3.1l-2.7 3.1l-2.7 -3.1z" fill="#ff1a1a"/>
<path d="M136.1 491.8l2.7 3.1l-2.7 3.1l-2.7 -3.1z" fill="#ff1a1a"/>
<path d="M138.3 488.5l2.7 3.1l-2.7 3.1l-2.7 -3.1z" fill="#ff1a1a"/>
<path d="M140.3 468.8l2.7 3.1l-2.7 3.1l-2.7 -3.1z" fill="#ff1a1a"/>
<path d="M142.8 472.9l2.7 3.1l-2.7 3.1l-2.7 -3.1z" fill="#ff1a1a"/>
<path d="M145.2 472.2l2.7 3.1l-2.7 3.1l-2.7 -3.1z" fill="#ff1a1a"/>
<path d="M148.9 459.2l2.7 3.1l-2.7 3.1l-2.7 -3.1z" fill="#ff1a1a"/>
<path d="M151.3 480.0l2.7 3.1l-2.7 3.1l-2.7 -3.1z" fill="#ff1a1a"/>
<path d="M153.5 486.1l2.7 3.1l-2.7 3.1l-2.7 -3.1z" fill="#ff1a1a"/>
<path d="M156.0 490.6l2.7 3.1l-2.7 3.1l-2.7 -3.1z" fill="#ff1a1a"/>
<path d="M158.0 470.2l2.7 3.1l-2.7 3.1l-2.7 -3.1z" fill="#ff1a1a"/>
<path d="M160.1 474.9l2.7 3.1l-2.7 3.1l-2.7 -3.1z" fill="#ff1a1a"/>
<path d="M162.5 449.0l2.7 3.1l-2.7 3.1l-2.7 -3.1z" fill="#ff1a1a"/>
<path d="M164.7 474.9l2.7 3.1l-2.7 3.1l-2.7 -3.1z" fill="#ff1a1a"/>
<path d="M167.2 475.9l2.7 3.1l-2.7 3.1l-2.7 -3.1z" fill="#ff1a1a"/>
<path d="M168.8 474.9l2.7 3.1l-2.7 3.1l-2.7 -3.1z" fill="#ff1a1a"/>
<path d="M170.8 445.4l2.7 3.1l-2.7 3.1l-2.7 -3.1z" fill="#ff1a1a"/>
<path d="M173.3 453.1l2.7 3.1l-2.7 3.1l-2.7 -3.1z" fill="#ff1a1a"/>
<path d="M175.3 482.4l2.7 3.1l-2.7 3.1l-2.7 -3.1z" fill="#ff1a1a"/>
<path d="M177.8 488.1l2.7 3.1l-2.7 3.1l-2.7 -3.1z" fill="#ff1a1a"/>
<path d="M179.8 463.7l2.7 3.1l-2.7 3.1l-2.7 -3.1z" fill="#ff1a1a"/>
<path d="M182.0 461.7l2.7 3.1l-2.7 3.1l-2.7 -3.1z" fill="#ff1a1a"/>
<path d="M184.5 471.4l2.7 3.1l-2.7 3.1l-2.7 -3.1z" fill="#ff1a1a"/>
<path d="M186.9 461.3l2.7 3.1l-2.7 3.1l-2.7 -3.1z" fill="#ff1a1a"/>
<path d="M189.0 464.1l2.7 3.1l-2.7 3.1l-2.7 -3.1z" fill="#ff1a1a"/>
<path d="M191.2 467.8l2.7 3.1l-2.7 3.1l-2.7 -3.1z" fill="#ff1a1a"/>
<path d="M192.8 450.5l2.7 3.1l-2.7 3.1l-2.7 -3.1z" fill="#ff1a1a"/>
<path d="M195.3 482.4l2.7 3.1l-2.7 3.1l-2.7 -3.1z" fill="#ff1a1a"/>
<path d="M197.1 441.7l2.7 3.1l-2.7 3.1l-2.7 -3.1z" fill="#ff1a1a"/>
<path d="M199.3 467.4l2.7 3.1l-2.7 3.1l-2.7 -3.1z" fill="#ff1a1a"/>
<path d="M201.8 483.6l2.7 3.1l-2.7 3.1l-2.7 -3.1z" fill="#ff1a1a"/>
<path d="M203.8 464.7l2.7 3.1l-2.7 3.1l-2.7 -3.1z" fill="#ff1a1a"/>
<path d="M205.8 493.8l2.7 3.1l-2.7 3.1l-2.7 -3.1z" fill="#ff1a1a"/>
<path d="M208.5 466.8l2.7 3.1l-2.7 3.1l-2.7 -3.1z" fill="#ff1a1a"/>
<path d="M210.3 468.2l2.7 3.1l-2.7 3.1l-2.7 -3.1z" fill="#ff1a1a"/>
<path d="M213.0 488.1l2.7 3.1l-2.7 3.1l-2.7 -3.1z" fill="#ff1a1a"/>
<rect x="48.4" y="403.2" width="165.8" height="118.0" fill="none" stroke="#000" stroke-width="1.3"/>
<path d="M92.0 521.2v-2.5M92.0 403.2v2.5M135.7 521.2v-2.5M135.7 403.2v2.5M179.3 521.2v-2.5M179.3 403.2v2.5M48.4 491.7h2.5M214.2 491.7h-2.5M48.4 462.2h2.5M214.2 462.2h-2.5M48.4 432.7h2.5M214.2 432.7h-2.5" stroke="#000" stroke-width="1.2" fill="none"/>
<text x="44" y="526.5" font-size="12" text-anchor="end">0</text>
<text x="44" y="497.0" font-size="12" text-anchor="end">10</text>
<text x="44" y="467.5" font-size="12" text-anchor="end">20</text>
<text x="44" y="438.0" font-size="12" text-anchor="end">30</text>
<text x="44" y="408.5" font-size="12" text-anchor="end">40</text>
<text x="55.4" y="419.1" font-size="12">Nith, Canning (N2)</text>
<text x="55.4" y="436.5" font-size="12">KGE = 0.85</text>
<text x="201.0" y="419.7" font-size="18" font-weight="bold">j</text>
</g>
<g>
<clipPath id="cpk"><rect x="226.6" y="403.2" width="165.8" height="118.0"/></clipPath>
<g clip-path="url(#cpk)">
<polygon points="226.6,505.0 227.7,505.0 228.8,505.0 229.9,505.0 231.0,505.0 232.1,505.0 233.1,505.0 234.2,505.0 235.3,505.0 236.4,505.0 237.5,505.0 238.6,505.0 239.7,505.0 240.8,505.0 241.9,505.0 243.0,505.0 244.1,505.0 245.1,505.0 246.2,505.0 247.3,505.0 248.4,505.0 249.5,505.0 250.6,505.0 251.7,505.0 252.8,505.0 253.9,505.0 255.0,505.0 256.1,505.0 257.1,505.0 258.2,504.9 259.3,504.9 260.4,504.8 261.5,504.7 262.6,504.6 263.7,504.6 264.8,504.6 265.9,504.7 267.0,504.8 268.1,505.1 269.1,505.4 270.2,505.8 271.3,506.1 272.4,506.1 273.5,505.8 274.6,505.2 275.7,504.1 276.8,502.6 277.9,500.7 279.0,498.5 280.0,496.3 281.1,494.3 282.2,492.7 283.3,491.5 284.4,490.8 285.5,490.5 286.6,490.6 287.7,490.8 288.8,490.6 289.9,490.0 291.0,489.0 292.0,487.4 293.1,485.2 294.2,482.7 295.3,480.2 296.4,477.8 297.5,475.9 298.6,474.3 299.7,473.0 300.8,472.1 301.9,471.2 303.0,470.4 304.0,469.4 305.1,468.2 306.2,467.0 307.3,465.9 308.4,465.0 309.5,464.3 310.6,463.8 311.7,463.3 312.8,462.8 313.9,462.3 315.0,461.7 316.0,460.9 317.1,459.6 318.2,458.1 319.3,456.7 320.4,455.6 321.5,454.8 322.6,454.5 323.7,454.7 324.8,455.9 325.9,458.1 327.0,461.1 328.0,464.3 329.1,467.2 330.2,469.5 331.3,471.1 332.4,471.5 333.5,470.3 334.6,467.8 335.7,464.8 336.8,462.1 337.9,460.1 339.0,458.7 340.0,458.1 341.1,458.7 342.2,459.6 343.3,460.2 344.4,460.1 345.5,459.4 346.6,458.4 347.7,457.4 348.8,456.7 349.9,457.2 350.9,458.7 352.0,460.7 353.1,462.8 354.2,464.5 355.3,465.3 356.4,465.1 357.5,463.5 358.6,461.3 359.7,459.0 360.8,456.7 361.9,454.7 362.9,452.8 364.0,451.0 365.1,449.4 366.2,448.1 367.3,446.8 368.4,445.2 369.5,443.6 370.6,442.4 371.7,442.4 372.8,443.0 373.9,443.6 374.9,444.4 376.0,446.2 377.1,448.9 378.2,451.9 379.3,454.2 380.4,455.8 381.5,457.3 382.6,459.1 383.7,460.5 384.8,461.2 385.9,461.7 386.9,462.4 388.0,463.5 389.1,464.9 390.2,466.1 391.3,467.1 392.4,468.1 392.4,496.8 391.3,496.2 390.2,495.7 389.1,495.0 388.0,494.2 386.9,493.6 385.9,493.3 384.8,493.1 383.7,492.8 382.6,492.1 381.5,491.2 380.4,490.5 379.3,489.8 378.2,488.7 377.1,487.2 376.0,485.8 374.9,485.0 373.9,484.7 372.8,484.4 371.7,483.9 370.6,483.8 369.5,484.3 368.4,485.0 367.3,485.7 366.2,486.2 365.1,486.7 364.0,487.4 362.9,488.4 361.9,489.4 360.8,490.5 359.7,491.8 358.6,493.2 357.5,494.5 356.4,495.5 355.3,495.8 354.2,495.5 353.1,494.6 352.0,493.6 350.9,492.7 349.9,492.0 348.8,491.8 347.7,492.2 346.6,492.8 345.5,493.3 344.4,493.6 343.3,493.6 342.2,493.1 341.1,492.4 340.0,492.0 339.0,492.2 337.9,492.8 336.8,493.8 335.7,495.2 334.6,496.8 333.5,498.2 332.4,498.8 331.3,498.5 330.2,497.6 329.1,496.4 328.0,494.8 327.0,493.0 325.9,491.4 324.8,490.1 323.7,489.4 322.6,489.4 321.5,489.6 320.4,490.0 319.3,490.6 318.2,491.3 317.1,492.1 316.0,492.8 315.0,493.1 313.9,493.3 312.8,493.4 311.7,493.6 310.6,493.8 309.5,493.9 308.4,494.2 307.3,494.7 306.2,495.3 305.1,496.0 304.0,496.8 303.0,497.5 301.9,498.2 300.8,498.9 299.7,499.7 298.6,500.5 297.5,501.4 296.4,502.3 295.3,503.3 294.2,504.1 293.1,504.8 292.0,505.3 291.0,505.5 289.9,505.6 288.8,505.6 287.7,505.6 286.6,505.6 285.5,505.7 284.4,506.1 283.3,506.7 282.2,507.4 281.1,508.3 280.0,509.3 279.0,510.2 277.9,511.1 276.8,511.9 275.7,512.4 274.6,512.9 273.5,513.1 272.4,513.2 271.3,513.2 270.2,513.2 269.1,513.1 268.1,513.1 267.0,513.2 265.9,513.3 264.8,513.5 263.7,513.8 262.6,514.0 261.5,514.3 260.4,514.5 259.3,514.7 258.2,514.9 257.1,515.0 256.1,515.1 255.0,515.1 253.9,515.2 252.8,515.2 251.7,515.2 250.6,515.2 249.5,515.3 248.4,515.3 247.3,515.3 246.2,515.3 245.1,515.3 244.1,515.3 243.0,515.4 241.9,515.4 240.8,515.4 239.7,515.4 238.6,515.4 237.5,515.5 236.4,515.5 235.3,515.5 234.2,515.5 233.1,515.5 232.1,515.6 231.0,515.6 229.9,515.6 228.8,515.6 227.7,515.6 226.6,515.6" fill="#e6e6e6" stroke="none"/>
<polyline points="226.0,504.1 259.4,504.1 267.7,503.1 271.9,506.9 277.5,505.5 280.3,490.9 284.4,486.0 288.6,492.3 292.8,490.9 295.6,472.8 298.3,466.9 301.1,473.1 303.9,469.4 306.0,461.6 307.5,462.8 309.6,461.4 311.6,458.4 313.6,460.0 316.1,466.9 318.3,446.9 319.7,452.1 320.8,452.5 321.8,455.3 322.8,455.9 323.8,445.4 324.8,440.3 325.9,444.4 327.3,457.1 329.3,471.9 331.3,479.0 333.6,478.5 336.0,452.4 338.1,461.7 340.3,431.2 342.5,463.7 344.8,475.5 346.8,467.5 348.8,422.3 350.3,436.8 351.3,451.4 352.3,464.8 353.3,473.5 354.3,483.4 355.8,476.1 357.8,450.9 360.0,452.5 361.5,453.6 362.5,453.3 364.5,443.8 367.0,449.4 369.0,440.3 370.6,425.2 373.3,455.0 375.1,423.9 377.3,443.7 378.8,461.3 379.8,463.9 380.8,450.4 381.8,445.3 382.8,464.4 383.8,471.2 384.9,457.4 386.5,450.0 388.3,456.4 390.6,475.0 393.0,465.3" fill="none" stroke="#333" stroke-width="1" stroke-dasharray="4.3,2.9"/>
<polyline points="226.0,516.6 259.4,515.9 267.7,513.1 274.7,514.5 278.9,511.7 281.7,509.0 285.8,505.5 292.8,509.0 298.3,502.0 303.9,500.6 306.0,496.4 307.5,496.9 309.6,496.3 311.6,495.0 313.6,495.6 316.1,501.3 318.3,490.1 319.7,492.1 320.8,492.5 321.8,494.9 322.8,495.4 323.8,489.3 324.8,487.3 325.9,489.0 327.3,494.7 329.3,503.0 331.3,506.1 333.6,506.1 336.0,492.6 338.1,498.2 340.3,483.8 342.5,498.4 344.8,506.9 346.8,502.6 348.8,480.1 350.3,486.0 351.3,492.0 352.3,499.0 353.3,504.6 354.3,510.7 355.8,505.1 357.8,492.0 360.0,492.3 361.5,493.3 362.5,493.2 364.5,488.6 367.0,492.6 369.0,486.9 370.6,480.7 373.3,497.9 375.1,480.4 377.3,488.6 378.8,498.5 379.8,499.9 380.8,491.6 381.8,489.6 382.8,499.2 383.8,504.2 384.9,494.5 386.5,491.6 388.3,494.2 390.6,505.2 393.0,498.1" fill="none" stroke="#333" stroke-width="1" stroke-dasharray="4.3,2.9"/>
<polyline points="226.0,510.3 259.4,510.3 269.1,508.3 271.9,511.0 274.7,511.7 277.5,510.3 279.6,502.0 281.7,499.2 284.4,494.3 287.2,497.8 289.3,495.7 292.1,499.9 294.2,500.6 295.6,485.3 298.3,482.5 301.1,486.7 303.9,483.9 306.0,478.3 307.5,479.0 309.6,478.0 311.6,476.0 313.6,477.0 316.1,482.1 318.3,467.9 319.7,471.1 320.8,471.4 321.8,473.4 322.8,473.9 323.8,466.5 324.8,463.1 325.9,465.9 327.3,474.8 329.3,485.8 331.3,491.1 333.6,490.6 336.0,471.9 338.1,478.2 340.3,457.3 342.5,479.7 344.8,488.5 346.8,482.5 348.8,451.1 350.3,461.0 351.3,471.0 352.3,480.5 353.3,486.9 354.3,494.3 355.8,488.9 357.8,471.0 360.0,471.5 361.5,472.2 362.5,472.0 364.5,465.3 367.0,469.1 369.0,462.4 370.6,452.1 373.3,473.2 375.1,451.7 377.3,465.3 378.8,477.9 379.8,479.8 380.8,470.3 381.8,467.0 382.8,480.2 383.8,485.3 384.9,475.1 386.5,470.2 388.3,474.7 390.6,488.0 393.0,481.0" fill="none" stroke="#000" stroke-width="1.4" stroke-linejoin="round"/>
</g>
<path d="M316.1 485.1l2.7 3.1l-2.7 3.1l-2.7 -3.1z" fill="#ff1a1a"/>
<path d="M318.3 463.7l2.7 3.1l-2.7 3.1l-2.7 -3.1z" fill="#ff1a1a"/>
<path d="M320.8 469.4l2.7 3.1l-2.7 3.1l-2.7 -3.1z" fill="#ff1a1a"/>
<path d="M322.8 475.9l2.7 3.1l-2.7 3.1l-2.7 -3.1z" fill="#ff1a1a"/>
<path d="M324.8 458.6l2.7 3.1l-2.7 3.1l-2.7 -3.1z" fill="#ff1a1a"/>
<path d="M327.3 472.2l2.7 3.1l-2.7 3.1l-2.7 -3.1z" fill="#ff1a1a"/>
<path d="M329.3 485.7l2.7 3.1l-2.7 3.1l-2.7 -3.1z" fill="#ff1a1a"/>
<path d="M331.3 494.2l2.7 3.1l-2.7 3.1l-2.7 -3.1z" fill="#ff1a1a"/>
<path d="M333.6 498.3l2.7 3.1l-2.7 3.1l-2.7 -3.1z" fill="#ff1a1a"/>
<path d="M336.0 472.2l2.7 3.1l-2.7 3.1l-2.7 -3.1z" fill="#ff1a1a"/>
<path d="M338.1 484.0l2.7 3.1l-2.7 3.1l-2.7 -3.1z" fill="#ff1a1a"/>
<path d="M340.3 455.6l2.7 3.1l-2.7 3.1l-2.7 -3.1z" fill="#ff1a1a"/>
<path d="M342.5 487.1l2.7 3.1l-2.7 3.1l-2.7 -3.1z" fill="#ff1a1a"/>
<path d="M344.8 492.2l2.7 3.1l-2.7 3.1l-2.7 -3.1z" fill="#ff1a1a"/>
<path d="M346.8 486.5l2.7 3.1l-2.7 3.1l-2.7 -3.1z" fill="#ff1a1a"/>
<path d="M348.8 446.4l2.7 3.1l-2.7 3.1l-2.7 -3.1z" fill="#ff1a1a"/>
<path d="M351.3 469.4l2.7 3.1l-2.7 3.1l-2.7 -3.1z" fill="#ff1a1a"/>
<path d="M353.3 487.1l2.7 3.1l-2.7 3.1l-2.7 -3.1z" fill="#ff1a1a"/>
<path d="M355.8 492.6l2.7 3.1l-2.7 3.1l-2.7 -3.1z" fill="#ff1a1a"/>
<path d="M357.8 468.2l2.7 3.1l-2.7 3.1l-2.7 -3.1z" fill="#ff1a1a"/>
<path d="M360.0 470.2l2.7 3.1l-2.7 3.1l-2.7 -3.1z" fill="#ff1a1a"/>
<path d="M362.5 471.4l2.7 3.1l-2.7 3.1l-2.7 -3.1z" fill="#ff1a1a"/>
<path d="M364.5 461.3l2.7 3.1l-2.7 3.1l-2.7 -3.1z" fill="#ff1a1a"/>
<path d="M367.0 469.4l2.7 3.1l-2.7 3.1l-2.7 -3.1z" fill="#ff1a1a"/>
<path d="M369.0 461.3l2.7 3.1l-2.7 3.1l-2.7 -3.1z" fill="#ff1a1a"/>
<path d="M370.6 447.4l2.7 3.1l-2.7 3.1l-2.7 -3.1z" fill="#ff1a1a"/>
<path d="M373.3 484.5l2.7 3.1l-2.7 3.1l-2.7 -3.1z" fill="#ff1a1a"/>
<path d="M375.1 445.8l2.7 3.1l-2.7 3.1l-2.7 -3.1z" fill="#ff1a1a"/>
<path d="M377.3 463.3l2.7 3.1l-2.7 3.1l-2.7 -3.1z" fill="#ff1a1a"/>
<path d="M379.8 484.0l2.7 3.1l-2.7 3.1l-2.7 -3.1z" fill="#ff1a1a"/>
<path d="M381.8 461.3l2.7 3.1l-2.7 3.1l-2.7 -3.1z" fill="#ff1a1a"/>
<path d="M383.8 491.8l2.7 3.1l-2.7 3.1l-2.7 -3.1z" fill="#ff1a1a"/>
<path d="M386.5 466.1l2.7 3.1l-2.7 3.1l-2.7 -3.1z" fill="#ff1a1a"/>
<path d="M388.3 470.8l2.7 3.1l-2.7 3.1l-2.7 -3.1z" fill="#ff1a1a"/>
<path d="M390.6 490.2l2.7 3.1l-2.7 3.1l-2.7 -3.1z" fill="#ff1a1a"/>
<rect x="226.6" y="403.2" width="165.8" height="118.0" fill="none" stroke="#000" stroke-width="1.3"/>
<path d="M270.2 521.2v-2.5M270.2 403.2v2.5M313.9 521.2v-2.5M313.9 403.2v2.5M357.5 521.2v-2.5M357.5 403.2v2.5M226.6 491.7h2.5M392.4 491.7h-2.5M226.6 462.2h2.5M392.4 462.2h-2.5M226.6 432.7h2.5M392.4 432.7h-2.5" stroke="#000" stroke-width="1.2" fill="none"/>
<text x="233.6" y="419.1" font-size="12">Whitemans Creek (W)</text>
<text x="233.6" y="436.5" font-size="12">KGE = 0.84</text>
<text x="375.9" y="419.7" font-size="18" font-weight="bold">k</text>
</g>
<g>
<clipPath id="cpl"><rect x="404.8" y="403.2" width="165.8" height="118.0"/></clipPath>
<g clip-path="url(#cpl)">
<polygon points="404.8,506.7 405.9,506.6 407.0,506.5 408.1,506.4 409.2,506.4 410.3,506.4 411.3,506.4 412.4,506.4 413.5,506.3 414.6,506.2 415.7,506.0 416.8,505.9 417.9,505.7 419.0,505.6 420.1,505.6 421.2,505.6 422.3,505.7 423.3,505.9 424.4,506.0 425.5,506.2 426.6,506.3 427.7,506.3 428.8,506.3 429.9,506.3 431.0,506.2 432.1,506.2 433.2,506.1 434.3,506.1 435.3,506.1 436.4,506.2 437.5,506.3 438.6,506.4 439.7,506.4 440.8,506.4 441.9,506.4 443.0,506.3 444.1,506.2 445.2,506.1 446.2,506.1 447.3,506.2 448.4,506.4 449.5,506.7 450.6,506.9 451.7,507.0 452.8,506.7 453.9,506.2 455.0,505.4 456.1,504.2 457.2,502.7 458.2,501.1 459.3,499.6 460.4,498.2 461.5,497.2 462.6,496.4 463.7,496.0 464.8,496.0 465.9,496.3 467.0,496.6 468.1,496.9 469.2,497.0 470.2,496.9 471.3,496.6 472.4,496.0 473.5,495.2 474.6,494.2 475.7,493.2 476.8,492.1 477.9,491.0 479.0,490.0 480.1,489.1 481.2,488.4 482.2,487.8 483.3,487.3 484.4,487.0 485.5,486.9 486.6,486.7 487.7,486.5 488.8,486.2 489.9,485.7 491.0,485.1 492.1,484.3 493.2,483.4 494.2,482.3 495.3,481.2 496.4,479.8 497.5,478.2 498.6,476.6 499.7,475.0 500.8,473.5 501.9,472.3 503.0,471.6 504.1,471.6 505.2,472.2 506.2,473.2 507.3,474.3 508.4,475.1 509.5,475.5 510.6,475.3 511.7,474.2 512.8,472.2 513.9,470.0 515.0,467.9 516.1,466.2 517.2,465.0 518.2,464.4 519.3,464.6 520.4,465.1 521.5,465.7 522.6,466.1 523.7,466.2 524.8,466.3 525.9,466.5 527.0,466.9 528.1,467.9 529.1,469.1 530.2,470.5 531.3,471.7 532.4,472.4 533.5,472.6 534.6,472.0 535.7,470.7 536.8,469.2 537.9,467.7 539.0,466.4 540.1,465.4 541.1,464.4 542.2,463.6 543.3,462.8 544.4,462.1 545.5,461.5 546.6,460.7 547.7,460.0 548.8,459.5 549.9,459.4 551.0,459.7 552.1,460.1 553.1,460.5 554.2,461.0 555.3,462.0 556.4,463.2 557.5,463.9 558.6,464.1 559.7,464.0 560.8,464.2 561.9,464.4 563.0,464.4 564.1,464.5 565.1,464.9 566.2,465.9 567.3,467.4 568.4,468.8 569.5,470.3 570.6,472.0 570.6,492.2 569.5,491.1 568.4,490.1 567.3,489.2 566.2,488.2 565.1,487.6 564.1,487.4 563.0,487.5 561.9,487.6 560.8,487.4 559.7,487.3 558.6,487.3 557.5,487.0 556.4,486.3 555.3,485.3 554.2,484.4 553.1,483.9 552.1,483.5 551.0,483.1 549.9,482.9 548.8,482.9 547.7,483.2 546.6,483.7 545.5,484.2 544.4,484.7 543.3,485.2 542.2,485.7 541.1,486.4 540.1,487.1 539.0,488.0 537.9,489.0 536.8,490.2 535.7,491.3 534.6,492.3 533.5,492.8 532.4,492.7 531.3,492.2 530.2,491.3 529.1,490.4 528.1,489.5 527.0,488.9 525.9,488.5 524.8,488.4 523.7,488.3 522.6,488.2 521.5,487.9 520.4,487.3 519.3,486.8 518.2,486.6 517.2,486.9 516.1,487.7 515.0,488.8 513.9,490.3 512.8,491.9 511.7,493.3 510.6,494.1 509.5,494.3 508.4,494.0 507.3,493.4 506.2,492.7 505.2,491.9 504.1,491.4 503.0,491.4 501.9,491.9 500.8,492.6 499.7,493.6 498.6,494.6 497.5,495.6 496.4,496.6 495.3,497.4 494.2,498.1 493.2,498.8 492.1,499.4 491.0,500.0 489.9,500.5 488.8,500.9 487.7,501.3 486.6,501.7 485.5,502.0 484.4,502.3 483.3,502.6 482.2,503.0 481.2,503.5 480.1,504.1 479.0,504.6 477.9,505.3 476.8,505.9 475.7,506.6 474.6,507.2 473.5,507.8 472.4,508.2 471.3,508.5 470.2,508.7 469.2,508.7 468.1,508.7 467.0,508.5 465.9,508.4 464.8,508.4 463.7,508.5 462.6,508.8 461.5,509.3 460.4,509.9 459.3,510.7 458.2,511.4 457.2,512.2 456.1,512.9 455.0,513.5 453.9,513.9 452.8,514.2 451.7,514.4 450.6,514.4 449.5,514.5 448.4,514.5 447.3,514.5 446.2,514.6 445.2,514.6 444.1,514.7 443.0,514.7 441.9,514.7 440.8,514.7 439.7,514.6 438.6,514.6 437.5,514.5 436.4,514.5 435.3,514.6 434.3,514.7 433.2,514.8 432.1,514.9 431.0,515.0 429.9,515.1 428.8,515.2 427.7,515.3 426.6,515.3 425.5,515.3 424.4,515.2 423.3,515.2 422.3,515.2 421.2,515.1 420.1,515.2 419.0,515.2 417.9,515.3 416.8,515.4 415.7,515.4 414.6,515.5 413.5,515.6 412.4,515.7 411.3,515.7 410.3,515.8 409.2,515.8 408.1,515.8 407.0,515.8 405.9,515.8 404.8,515.8" fill="#e6e6e6" stroke="none"/>
<polyline points="404.0,507.6 408.2,504.1 412.3,506.2 416.5,504.8 419.3,502.7 423.5,505.5 427.7,504.8 431.8,505.5 436.0,504.1 440.2,506.2 444.3,504.8 448.5,503.4 451.3,508.3 455.5,506.9 458.3,497.8 461.0,495.0 463.8,490.9 466.6,495.7 470.1,498.5 473.6,493.7 477.7,489.5 481.9,485.3 484.0,482.5 487.0,488.1 488.6,484.4 489.6,484.9 490.6,485.6 492.1,483.0 494.3,481.7 496.3,476.9 498.4,477.8 501.2,472.9 502.8,462.6 503.9,458.9 504.9,463.9 505.9,470.1 507.3,476.1 510.0,479.3 511.0,481.1 512.0,477.2 513.0,470.4 514.0,465.8 515.0,465.3 516.1,463.3 517.1,456.4 518.3,451.5 519.1,452.8 520.3,463.4 521.1,467.3 522.8,475.1 524.8,467.6 526.8,451.1 529.3,463.0 531.3,478.7 533.8,482.1 535.8,464.4 538.0,457.1 539.5,465.8 540.5,466.0 541.5,465.1 542.9,462.0 544.5,457.7 545.6,460.4 547.0,458.4 548.6,451.5 549.6,458.2 551.3,459.3 553.1,456.3 555.3,455.1 557.8,473.3 559.8,452.7 561.8,473.3 564.5,451.0 566.3,457.7 568.6,473.0 571.0,480.7" fill="none" stroke="#333" stroke-width="1" stroke-dasharray="4.3,2.9"/>
<polyline points="404.0,515.9 409.6,516.6 415.1,515.9 420.7,515.2 426.3,515.9 431.8,515.2 437.4,514.5 443.0,515.2 448.5,514.5 454.1,515.2 458.3,511.7 461.1,510.0 463.2,507.5 465.6,508.6 466.6,509.1 467.8,509.8 470.3,510.6 472.7,509.5 473.6,509.1 475.4,507.4 476.3,506.8 477.4,506.4 480.0,505.1 482.5,503.2 484.5,502.3 487.0,504.4 488.6,501.5 489.6,501.7 490.6,502.4 492.1,500.6 494.3,499.8 496.3,496.9 498.4,498.0 501.2,495.5 502.8,488.4 503.9,486.4 504.9,489.0 505.9,492.7 507.3,497.6 510.0,499.6 511.0,501.5 512.0,498.3 513.0,492.7 514.0,490.0 515.0,489.5 516.1,488.2 517.1,484.6 518.3,482.0 519.1,482.7 520.3,488.5 521.1,491.9 522.8,498.9 524.8,491.6 526.8,482.2 529.3,488.6 531.3,500.1 533.8,503.1 535.8,489.4 538.0,485.3 539.5,490.5 540.5,490.7 541.5,490.0 542.9,487.4 544.5,485.0 545.6,486.7 547.0,485.2 548.6,481.5 549.6,485.3 551.3,486.4 553.1,484.0 555.3,483.7 557.8,497.6 559.8,482.9 561.8,497.7 564.5,481.8 566.3,485.5 568.6,495.7 571.0,501.0" fill="none" stroke="#333" stroke-width="1" stroke-dasharray="4.3,2.9"/>
<polyline points="404.0,514.5 406.8,513.1 409.6,511.7 412.3,512.4 415.1,514.5 417.9,513.1 420.7,511.7 423.5,513.8 426.3,513.1 429.0,514.5 431.8,513.1 434.6,511.7 437.4,513.1 440.2,512.4 443.0,515.9 445.7,511.7 448.5,511.0 451.3,514.5 454.1,513.8 456.9,512.4 459.1,508.1 461.1,505.4 463.2,502.1 465.6,503.6 466.6,504.2 467.8,505.0 470.3,505.7 472.7,504.4 473.6,503.8 475.4,502.0 476.3,501.2 477.4,500.6 480.0,499.0 482.5,496.5 484.5,495.2 487.0,497.1 488.6,494.2 489.6,494.4 490.6,495.0 492.1,492.9 494.3,491.7 496.3,488.1 498.4,488.5 501.2,484.4 502.8,476.6 503.9,474.0 504.9,477.5 505.9,482.1 507.3,487.0 510.0,489.7 511.0,491.2 512.0,487.9 513.0,482.3 514.0,478.8 515.0,478.1 516.1,476.4 517.1,471.6 518.3,468.1 519.1,469.0 520.3,476.5 521.1,479.7 522.8,486.2 524.8,480.0 526.8,468.4 529.3,476.9 531.3,489.2 533.8,492.1 535.8,478.0 538.0,472.5 539.5,478.5 540.5,478.7 541.5,477.9 542.9,475.3 544.5,472.1 545.6,474.0 547.0,472.3 548.6,467.5 549.6,472.1 551.3,473.1 553.1,470.9 555.3,470.4 557.8,484.7 559.8,469.3 561.8,484.7 564.5,467.8 566.3,472.8 568.6,484.4 571.0,490.9" fill="none" stroke="#000" stroke-width="1.4" stroke-linejoin="round"/>
</g>
<path d="M459.1 508.5l2.7 3.1l-2.7 3.1l-2.7 -3.1z" fill="#ff1a1a"/>
<path d="M461.1 510.6l2.7 3.1l-2.7 3.1l-2.7 -3.1z" fill="#ff1a1a"/>
<path d="M463.2 504.0l2.7 3.1l-2.7 3.1l-2.7 -3.1z" fill="#ff1a1a"/>
<path d="M465.6 505.7l2.7 3.1l-2.7 3.1l-2.7 -3.1z" fill="#ff1a1a"/>
<path d="M467.8 507.1l2.7 3.1l-2.7 3.1l-2.7 -3.1z" fill="#ff1a1a"/>
<path d="M470.3 506.5l2.7 3.1l-2.7 3.1l-2.7 -3.1z" fill="#ff1a1a"/>
<path d="M472.7 505.7l2.7 3.1l-2.7 3.1l-2.7 -3.1z" fill="#ff1a1a"/>
<path d="M475.4 503.0l2.7 3.1l-2.7 3.1l-2.7 -3.1z" fill="#ff1a1a"/>
<path d="M477.4 502.4l2.7 3.1l-2.7 3.1l-2.7 -3.1z" fill="#ff1a1a"/>
<path d="M480.0 501.0l2.7 3.1l-2.7 3.1l-2.7 -3.1z" fill="#ff1a1a"/>
<path d="M482.5 499.0l2.7 3.1l-2.7 3.1l-2.7 -3.1z" fill="#ff1a1a"/>
<path d="M484.5 497.5l2.7 3.1l-2.7 3.1l-2.7 -3.1z" fill="#ff1a1a"/>
<path d="M487.0 500.4l2.7 3.1l-2.7 3.1l-2.7 -3.1z" fill="#ff1a1a"/>
<path d="M489.6 495.9l2.7 3.1l-2.7 3.1l-2.7 -3.1z" fill="#ff1a1a"/>
<path d="M492.1 494.9l2.7 3.1l-2.7 3.1l-2.7 -3.1z" fill="#ff1a1a"/>
<path d="M494.3 494.3l2.7 3.1l-2.7 3.1l-2.7 -3.1z" fill="#ff1a1a"/>
<path d="M496.3 484.1l2.7 3.1l-2.7 3.1l-2.7 -3.1z" fill="#ff1a1a"/>
<path d="M498.4 488.8l2.7 3.1l-2.7 3.1l-2.7 -3.1z" fill="#ff1a1a"/>
<path d="M501.2 483.3l2.7 3.1l-2.7 3.1l-2.7 -3.1z" fill="#ff1a1a"/>
<path d="M502.8 466.4l2.7 3.1l-2.7 3.1l-2.7 -3.1z" fill="#ff1a1a"/>
<path d="M504.9 469.5l2.7 3.1l-2.7 3.1l-2.7 -3.1z" fill="#ff1a1a"/>
<path d="M507.3 487.4l2.7 3.1l-2.7 3.1l-2.7 -3.1z" fill="#ff1a1a"/>
<path d="M510.0 490.2l2.7 3.1l-2.7 3.1l-2.7 -3.1z" fill="#ff1a1a"/>
<path d="M512.0 492.2l2.7 3.1l-2.7 3.1l-2.7 -3.1z" fill="#ff1a1a"/>
<path d="M514.0 476.0l2.7 3.1l-2.7 3.1l-2.7 -3.1z" fill="#ff1a1a"/>
<path d="M516.1 480.0l2.7 3.1l-2.7 3.1l-2.7 -3.1z" fill="#ff1a1a"/>
<path d="M518.3 462.3l2.7 3.1l-2.7 3.1l-2.7 -3.1z" fill="#ff1a1a"/>
<path d="M520.3 480.6l2.7 3.1l-2.7 3.1l-2.7 -3.1z" fill="#ff1a1a"/>
<path d="M522.8 490.2l2.7 3.1l-2.7 3.1l-2.7 -3.1z" fill="#ff1a1a"/>
<path d="M524.8 484.7l2.7 3.1l-2.7 3.1l-2.7 -3.1z" fill="#ff1a1a"/>
<path d="M526.8 462.3l2.7 3.1l-2.7 3.1l-2.7 -3.1z" fill="#ff1a1a"/>
<path d="M529.3 474.5l2.7 3.1l-2.7 3.1l-2.7 -3.1z" fill="#ff1a1a"/>
<path d="M531.3 491.8l2.7 3.1l-2.7 3.1l-2.7 -3.1z" fill="#ff1a1a"/>
<path d="M533.8 497.5l2.7 3.1l-2.7 3.1l-2.7 -3.1z" fill="#ff1a1a"/>
<path d="M535.8 477.2l2.7 3.1l-2.7 3.1l-2.7 -3.1z" fill="#ff1a1a"/>
<path d="M538.0 469.9l2.7 3.1l-2.7 3.1l-2.7 -3.1z" fill="#ff1a1a"/>
<path d="M540.5 482.7l2.7 3.1l-2.7 3.1l-2.7 -3.1z" fill="#ff1a1a"/>
<path d="M542.9 480.6l2.7 3.1l-2.7 3.1l-2.7 -3.1z" fill="#ff1a1a"/>
<path d="M544.5 470.5l2.7 3.1l-2.7 3.1l-2.7 -3.1z" fill="#ff1a1a"/>
<path d="M547.0 475.2l2.7 3.1l-2.7 3.1l-2.7 -3.1z" fill="#ff1a1a"/>
<path d="M548.6 459.7l2.7 3.1l-2.7 3.1l-2.7 -3.1z" fill="#ff1a1a"/>
<path d="M551.3 487.4l2.7 3.1l-2.7 3.1l-2.7 -3.1z" fill="#ff1a1a"/>
<path d="M553.1 456.2l2.7 3.1l-2.7 3.1l-2.7 -3.1z" fill="#ff1a1a"/>
<path d="M555.3 469.9l2.7 3.1l-2.7 3.1l-2.7 -3.1z" fill="#ff1a1a"/>
<path d="M557.8 486.1l2.7 3.1l-2.7 3.1l-2.7 -3.1z" fill="#ff1a1a"/>
<path d="M559.8 463.4l2.7 3.1l-2.7 3.1l-2.7 -3.1z" fill="#ff1a1a"/>
<path d="M561.8 486.1l2.7 3.1l-2.7 3.1l-2.7 -3.1z" fill="#ff1a1a"/>
<path d="M564.5 460.3l2.7 3.1l-2.7 3.1l-2.7 -3.1z" fill="#ff1a1a"/>
<path d="M566.3 466.4l2.7 3.1l-2.7 3.1l-2.7 -3.1z" fill="#ff1a1a"/>
<path d="M568.6 485.3l2.7 3.1l-2.7 3.1l-2.7 -3.1z" fill="#ff1a1a"/>
<rect x="404.8" y="403.2" width="165.8" height="118.0" fill="none" stroke="#000" stroke-width="1.3"/>
<path d="M448.4 521.2v-2.5M448.4 403.2v2.5M492.1 521.2v-2.5M492.1 403.2v2.5M535.7 521.2v-2.5M535.7 403.2v2.5M404.8 491.7h2.5M570.6 491.7h-2.5M404.8 462.2h2.5M570.6 462.2h-2.5M404.8 432.7h2.5M570.6 432.7h-2.5" stroke="#000" stroke-width="1.2" fill="none"/>
<text x="411.8" y="419.1" font-size="12">Grand, Galt (G4)</text>
<text x="411.8" y="436.5" font-size="12">KGE = 0.8</text>
<text x="554.3" y="419.7" font-size="18" font-weight="bold">l</text>
</g>
<g>
<clipPath id="cpm"><rect x="48.4" y="536.6" width="165.8" height="118.0"/></clipPath>
<g clip-path="url(#cpm)">
<polygon points="48.4,643.7 49.5,643.7 50.6,643.7 51.7,643.7 52.8,643.7 53.9,643.7 54.9,643.7 56.0,643.7 57.1,643.7 58.2,643.7 59.3,643.7 60.4,643.7 61.5,643.7 62.6,643.7 63.7,643.7 64.8,643.7 65.9,643.7 66.9,643.7 68.0,643.7 69.1,643.7 70.2,643.6 71.3,643.6 72.4,643.5 73.5,643.4 74.6,643.3 75.7,643.1 76.8,643.0 77.9,642.8 78.9,642.6 80.0,642.5 81.1,642.3 82.2,642.1 83.3,641.9 84.4,641.7 85.5,641.5 86.6,641.2 87.7,640.9 88.8,640.6 89.8,640.3 90.9,640.0 92.0,639.7 93.1,639.3 94.2,639.0 95.3,638.6 96.4,638.3 97.5,637.8 98.6,637.4 99.7,636.9 100.8,636.3 101.8,635.7 102.9,635.1 104.0,634.4 105.1,633.8 106.2,633.1 107.3,632.5 108.4,632.0 109.5,631.5 110.6,631.1 111.7,630.6 112.8,630.2 113.8,629.6 114.9,629.0 116.0,628.1 117.1,627.1 118.2,626.1 119.3,625.0 120.4,623.8 121.5,622.7 122.6,621.6 123.7,620.6 124.8,619.7 125.8,618.8 126.9,617.8 128.0,617.1 129.1,616.5 130.2,616.0 131.3,615.6 132.4,615.0 133.5,614.5 134.6,613.9 135.7,613.2 136.8,612.3 137.8,611.2 138.9,609.8 140.0,608.1 141.1,606.2 142.2,604.1 143.3,602.0 144.4,600.0 145.5,598.3 146.6,597.3 147.7,597.3 148.8,598.3 149.8,599.9 150.9,601.7 152.0,603.5 153.1,604.9 154.2,605.7 155.3,605.4 156.4,604.0 157.5,602.1 158.6,600.3 159.7,598.8 160.8,597.6 161.8,596.9 162.9,596.9 164.0,597.1 165.1,597.1 166.2,596.4 167.3,595.2 168.4,593.7 169.5,592.2 170.6,591.0 171.7,590.7 172.8,591.2 173.8,592.4 174.9,594.0 176.0,595.3 177.1,596.2 178.2,596.5 179.3,595.8 180.4,594.7 181.5,593.4 182.6,592.1 183.7,591.1 184.7,590.4 185.8,589.6 186.9,588.9 188.0,588.3 189.1,587.8 190.2,587.0 191.3,585.8 192.4,584.8 193.5,584.5 194.6,584.9 195.7,585.4 196.7,585.6 197.8,586.8 198.9,588.9 200.0,591.0 201.1,592.3 202.2,592.4 203.3,592.3 204.4,592.4 205.5,592.1 206.6,591.1 207.7,590.3 208.7,590.0 209.8,590.6 210.9,591.8 212.0,593.0 213.1,594.3 214.2,595.6 214.2,622.7 213.1,621.8 212.0,621.1 210.9,620.2 209.8,619.4 208.7,619.0 207.7,619.2 206.6,619.8 205.5,620.5 204.4,620.7 203.3,620.7 202.2,620.9 201.1,620.9 200.0,620.1 198.9,618.7 197.8,617.4 196.7,616.7 195.7,616.4 194.6,616.0 193.5,615.5 192.4,615.5 191.3,616.0 190.2,616.5 189.1,616.9 188.0,617.1 186.9,617.4 185.8,617.9 184.7,618.4 183.7,618.9 182.6,619.6 181.5,620.6 180.4,621.6 179.3,622.4 178.2,623.0 177.1,622.9 176.0,622.5 174.9,621.7 173.8,620.7 172.8,620.0 171.7,619.6 170.6,619.8 169.5,620.5 168.4,621.4 167.3,622.3 166.2,622.9 165.1,623.2 164.0,623.1 162.9,622.8 161.8,622.7 160.8,623.1 159.7,623.7 158.6,624.7 157.5,625.8 156.4,627.1 155.3,628.0 154.2,628.2 153.1,627.7 152.0,626.8 150.9,625.7 149.8,624.5 148.8,623.5 147.7,622.9 146.6,622.9 145.5,623.5 144.4,624.5 143.3,625.7 142.2,626.9 141.1,628.1 140.0,629.2 138.9,630.1 137.8,630.9 136.8,631.5 135.7,632.0 134.6,632.3 133.5,632.6 132.4,633.0 131.3,633.3 130.2,633.5 129.1,633.8 128.0,634.1 126.9,634.5 125.8,635.0 124.8,635.5 123.7,636.0 122.6,636.6 121.5,637.2 120.4,637.9 119.3,638.6 118.2,639.3 117.1,639.9 116.0,640.5 114.9,641.0 113.8,641.4 112.8,641.7 111.7,642.0 110.6,642.2 109.5,642.4 108.4,642.6 107.3,642.9 106.2,643.3 105.1,643.7 104.0,644.1 102.9,644.5 101.8,644.8 100.8,645.2 99.7,645.5 98.6,645.8 97.5,646.1 96.4,646.4 95.3,646.6 94.2,646.8 93.1,647.0 92.0,647.2 90.9,647.4 89.8,647.5 88.8,647.7 87.7,647.9 86.6,648.1 85.5,648.2 84.4,648.4 83.3,648.5 82.2,648.6 81.1,648.7 80.0,648.8 78.9,648.9 77.9,649.0 76.8,649.1 75.7,649.2 74.6,649.3 73.5,649.4 72.4,649.4 71.3,649.5 70.2,649.5 69.1,649.5 68.0,649.5 66.9,649.6 65.9,649.6 64.8,649.6 63.7,649.6 62.6,649.6 61.5,649.6 60.4,649.6 59.3,649.6 58.2,649.6 57.1,649.6 56.0,649.6 54.9,649.6 53.9,649.6 52.8,649.6 51.7,649.6 50.6,649.6 49.5,649.6 48.4,649.6" fill="#e6e6e6" stroke="none"/>
<polyline points="48.4,643.1 48.7,643.1 72.2,643.1 86.1,640.9 96.5,637.5 98.0,637.4 102.1,634.8 106.1,632.2 110.2,629.5 112.2,628.7 114.3,630.5 116.3,628.5 117.3,626.1 118.3,624.0 120.4,621.4 122.4,620.1 123.4,621.0 124.5,620.1 127.1,613.0 129.1,615.0 131.2,617.3 132.6,610.0 133.6,609.0 134.6,613.3 136.1,615.0 138.3,612.3 140.3,600.0 142.8,606.7 145.2,599.4 146.8,581.2 148.9,585.9 151.3,606.0 153.3,612.2 155.6,610.8 157.6,593.2 159.0,599.7 160.1,598.1 162.3,579.2 164.3,597.6 166.8,608.4 168.8,597.4 170.8,567.4 173.3,579.3 175.3,604.6 177.8,607.1 179.8,588.6 182.0,580.7 183.5,588.5 184.5,592.2 185.5,591.3 186.5,589.8 187.5,587.0 188.5,582.6 189.6,582.7 191.0,586.7 192.6,574.1 193.6,582.2 195.3,595.9 197.1,558.0 199.3,591.2 200.8,608.6 201.8,602.5 202.8,578.7 203.8,580.6 204.8,604.5 205.8,601.9 206.9,582.5 208.5,575.1 210.3,579.4 212.6,605.9 215.0,593.6" fill="none" stroke="#333" stroke-width="1" stroke-dasharray="4.3,2.9"/>
<polyline points="48.4,650.0 48.7,650.0 72.2,650.0 86.1,648.8 96.5,647.0 98.0,647.1 102.1,645.5 106.1,644.1 110.2,642.7 112.2,642.3 114.3,643.9 116.3,642.6 117.3,640.9 118.3,639.8 120.4,638.4 122.4,637.7 123.4,638.4 124.5,637.9 127.1,634.0 129.1,635.0 131.2,637.3 132.6,632.4 133.6,631.8 134.6,634.1 136.1,635.9 138.3,634.2 140.3,627.2 142.8,632.1 145.2,627.8 146.8,617.3 148.9,619.6 151.3,631.4 153.3,635.4 155.6,634.5 157.6,623.5 159.0,627.5 160.1,626.5 162.3,616.4 164.3,625.9 166.8,635.2 168.8,627.2 170.8,610.3 173.3,616.2 175.3,632.6 177.8,633.8 179.8,620.9 182.0,616.9 183.5,620.7 184.5,623.8 185.5,623.1 186.5,621.9 187.5,619.8 188.5,617.6 189.6,617.6 191.0,620.4 192.6,613.3 193.6,617.4 195.3,628.9 197.1,605.7 199.3,622.4 200.8,636.2 201.8,631.0 202.8,616.2 203.8,617.0 204.8,632.9 205.8,631.2 206.9,617.7 208.5,614.1 210.3,616.2 212.6,634.1 215.0,623.5" fill="none" stroke="#333" stroke-width="1" stroke-dasharray="4.3,2.9"/>
<polyline points="48.4,647.0 48.7,647.0 72.2,647.0 86.1,645.2 96.5,642.6 98.0,642.6 102.1,640.5 106.1,638.5 110.2,636.5 112.2,635.9 114.3,637.3 116.3,635.7 117.3,633.9 118.3,632.3 120.4,630.3 122.4,629.3 123.4,630.0 124.5,629.2 127.1,624.1 129.1,625.3 131.2,627.1 132.6,621.7 133.6,621.0 134.6,624.0 136.1,625.3 138.3,623.3 140.3,614.3 142.8,618.9 145.2,613.3 146.8,600.3 148.9,603.6 151.3,618.4 153.3,623.2 155.6,622.1 157.6,609.0 159.0,613.5 160.1,612.3 162.3,598.9 164.3,611.9 166.8,620.2 168.8,611.8 170.8,590.2 173.3,598.6 175.3,617.4 177.8,619.2 179.8,605.4 182.0,599.6 183.5,604.9 184.5,607.7 185.5,607.1 186.5,605.9 187.5,603.8 188.5,600.7 189.6,600.7 191.0,603.5 192.6,594.5 193.6,600.1 195.3,610.6 197.1,583.6 199.3,607.0 200.8,620.4 201.8,615.7 202.8,598.6 203.8,599.8 204.8,617.2 205.8,615.3 206.9,600.8 208.5,595.6 210.3,598.6 212.6,618.3 215.0,609.0" fill="none" stroke="#000" stroke-width="1.4" stroke-linejoin="round"/>
</g>
<path d="M114.3 636.0l2.7 3.1l-2.7 3.1l-2.7 -3.1z" fill="#ff1a1a"/>
<path d="M116.3 634.8l2.7 3.1l-2.7 3.1l-2.7 -3.1z" fill="#ff1a1a"/>
<path d="M118.3 630.3l2.7 3.1l-2.7 3.1l-2.7 -3.1z" fill="#ff1a1a"/>
<path d="M120.4 627.9l2.7 3.1l-2.7 3.1l-2.7 -3.1z" fill="#ff1a1a"/>
<path d="M122.4 626.7l2.7 3.1l-2.7 3.1l-2.7 -3.1z" fill="#ff1a1a"/>
<path d="M124.5 627.9l2.7 3.1l-2.7 3.1l-2.7 -3.1z" fill="#ff1a1a"/>
<path d="M127.1 621.8l2.7 3.1l-2.7 3.1l-2.7 -3.1z" fill="#ff1a1a"/>
<path d="M129.1 623.8l2.7 3.1l-2.7 3.1l-2.7 -3.1z" fill="#ff1a1a"/>
<path d="M131.2 626.7l2.7 3.1l-2.7 3.1l-2.7 -3.1z" fill="#ff1a1a"/>
<path d="M133.6 617.7l2.7 3.1l-2.7 3.1l-2.7 -3.1z" fill="#ff1a1a"/>
<path d="M136.1 625.2l2.7 3.1l-2.7 3.1l-2.7 -3.1z" fill="#ff1a1a"/>
<path d="M138.3 623.8l2.7 3.1l-2.7 3.1l-2.7 -3.1z" fill="#ff1a1a"/>
<path d="M140.3 610.4l2.7 3.1l-2.7 3.1l-2.7 -3.1z" fill="#ff1a1a"/>
<path d="M142.8 615.7l2.7 3.1l-2.7 3.1l-2.7 -3.1z" fill="#ff1a1a"/>
<path d="M145.2 613.0l2.7 3.1l-2.7 3.1l-2.7 -3.1z" fill="#ff1a1a"/>
<path d="M146.8 596.8l2.7 3.1l-2.7 3.1l-2.7 -3.1z" fill="#ff1a1a"/>
<path d="M148.9 600.2l2.7 3.1l-2.7 3.1l-2.7 -3.1z" fill="#ff1a1a"/>
<path d="M151.3 617.1l2.7 3.1l-2.7 3.1l-2.7 -3.1z" fill="#ff1a1a"/>
<path d="M153.3 623.8l2.7 3.1l-2.7 3.1l-2.7 -3.1z" fill="#ff1a1a"/>
<path d="M155.6 625.2l2.7 3.1l-2.7 3.1l-2.7 -3.1z" fill="#ff1a1a"/>
<path d="M157.6 606.9l2.7 3.1l-2.7 3.1l-2.7 -3.1z" fill="#ff1a1a"/>
<path d="M160.1 613.6l2.7 3.1l-2.7 3.1l-2.7 -3.1z" fill="#ff1a1a"/>
<path d="M162.3 595.3l2.7 3.1l-2.7 3.1l-2.7 -3.1z" fill="#ff1a1a"/>
<path d="M164.3 611.6l2.7 3.1l-2.7 3.1l-2.7 -3.1z" fill="#ff1a1a"/>
<path d="M166.8 621.8l2.7 3.1l-2.7 3.1l-2.7 -3.1z" fill="#ff1a1a"/>
<path d="M168.8 613.0l2.7 3.1l-2.7 3.1l-2.7 -3.1z" fill="#ff1a1a"/>
<path d="M170.8 585.2l2.7 3.1l-2.7 3.1l-2.7 -3.1z" fill="#ff1a1a"/>
<path d="M173.3 595.3l2.7 3.1l-2.7 3.1l-2.7 -3.1z" fill="#ff1a1a"/>
<path d="M175.3 617.1l2.7 3.1l-2.7 3.1l-2.7 -3.1z" fill="#ff1a1a"/>
<path d="M177.8 619.1l2.7 3.1l-2.7 3.1l-2.7 -3.1z" fill="#ff1a1a"/>
<path d="M179.8 602.9l2.7 3.1l-2.7 3.1l-2.7 -3.1z" fill="#ff1a1a"/>
<path d="M182.0 594.1l2.7 3.1l-2.7 3.1l-2.7 -3.1z" fill="#ff1a1a"/>
<path d="M184.5 607.5l2.7 3.1l-2.7 3.1l-2.7 -3.1z" fill="#ff1a1a"/>
<path d="M186.5 605.5l2.7 3.1l-2.7 3.1l-2.7 -3.1z" fill="#ff1a1a"/>
<path d="M188.5 598.8l2.7 3.1l-2.7 3.1l-2.7 -3.1z" fill="#ff1a1a"/>
<path d="M191.0 604.9l2.7 3.1l-2.7 3.1l-2.7 -3.1z" fill="#ff1a1a"/>
<path d="M192.6 591.3l2.7 3.1l-2.7 3.1l-2.7 -3.1z" fill="#ff1a1a"/>
<path d="M195.3 620.6l2.7 3.1l-2.7 3.1l-2.7 -3.1z" fill="#ff1a1a"/>
<path d="M197.1 579.9l2.7 3.1l-2.7 3.1l-2.7 -3.1z" fill="#ff1a1a"/>
<path d="M199.3 605.9l2.7 3.1l-2.7 3.1l-2.7 -3.1z" fill="#ff1a1a"/>
<path d="M201.8 621.8l2.7 3.1l-2.7 3.1l-2.7 -3.1z" fill="#ff1a1a"/>
<path d="M203.8 595.3l2.7 3.1l-2.7 3.1l-2.7 -3.1z" fill="#ff1a1a"/>
<path d="M205.8 621.8l2.7 3.1l-2.7 3.1l-2.7 -3.1z" fill="#ff1a1a"/>
<path d="M208.5 594.7l2.7 3.1l-2.7 3.1l-2.7 -3.1z" fill="#ff1a1a"/>
<path d="M210.3 594.7l2.7 3.1l-2.7 3.1l-2.7 -3.1z" fill="#ff1a1a"/>
<path d="M212.6 621.2l2.7 3.1l-2.7 3.1l-2.7 -3.1z" fill="#ff1a1a"/>
<rect x="48.4" y="536.6" width="165.8" height="118.0" fill="none" stroke="#000" stroke-width="1.3"/>
<path d="M92.0 654.6v-2.5M92.0 536.6v2.5M135.7 654.6v-2.5M135.7 536.6v2.5M179.3 654.6v-2.5M179.3 536.6v2.5M48.4 625.1h2.5M214.2 625.1h-2.5M48.4 595.6h2.5M214.2 595.6h-2.5M48.4 566.1h2.5M214.2 566.1h-2.5" stroke="#000" stroke-width="1.2" fill="none"/>
<text x="44" y="659.9" font-size="12" text-anchor="end">0</text>
<text x="44" y="630.4" font-size="12" text-anchor="end">10</text>
<text x="44" y="600.9" font-size="12" text-anchor="end">20</text>
<text x="44" y="571.4" font-size="12" text-anchor="end">30</text>
<text x="44" y="541.9" font-size="12" text-anchor="end">40</text>
<text x="48.4" y="672" font-size="12" text-anchor="middle">1940</text>
<text x="92.0" y="672" font-size="12" text-anchor="middle">1960</text>
<text x="135.7" y="672" font-size="12" text-anchor="middle">1980</text>
<text x="179.3" y="672" font-size="12" text-anchor="middle">2000</text>
<text x="55.4" y="552.5" font-size="12">Grand, Brantford (G5)</text>
<text x="55.4" y="569.9" font-size="12">KGE = 0.86</text>
<text x="196.0" y="553.1" font-size="18" font-weight="bold">m</text>
</g>
<g>
<clipPath id="cpn"><rect x="226.6" y="536.6" width="165.8" height="118.0"/></clipPath>
<g clip-path="url(#cpn)">
<polygon points="226.6,641.1 227.7,641.1 228.8,641.1 229.9,641.1 231.0,641.1 232.1,641.1 233.1,641.1 234.2,641.1 235.3,641.1 236.4,641.1 237.5,641.1 238.6,641.1 239.7,641.1 240.8,641.1 241.9,641.1 243.0,641.1 244.1,641.1 245.1,641.1 246.2,641.1 247.3,641.1 248.4,641.1 249.5,641.1 250.6,641.1 251.7,641.1 252.8,641.1 253.9,641.0 255.0,641.0 256.1,640.9 257.1,640.8 258.2,640.7 259.3,640.5 260.4,640.4 261.5,640.2 262.6,640.0 263.7,639.8 264.8,639.5 265.9,639.3 267.0,639.0 268.1,638.7 269.1,638.4 270.2,638.0 271.3,637.6 272.4,637.2 273.5,636.8 274.6,636.4 275.7,635.9 276.8,635.5 277.9,635.0 279.0,634.5 280.0,634.0 281.1,633.5 282.2,632.9 283.3,632.3 284.4,631.6 285.5,630.9 286.6,630.2 287.7,629.5 288.8,628.8 289.9,628.0 291.0,627.3 292.0,626.6 293.1,625.9 294.2,625.2 295.3,624.5 296.4,623.8 297.5,623.1 298.6,622.5 299.7,621.9 300.8,621.3 301.9,620.7 303.0,620.3 304.0,619.8 305.1,619.3 306.2,618.7 307.3,618.0 308.4,617.2 309.5,616.2 310.6,615.1 311.7,613.8 312.8,612.7 313.9,611.6 315.0,610.5 316.0,609.6 317.1,608.8 318.2,607.9 319.3,606.8 320.4,605.4 321.5,604.0 322.6,602.9 323.7,602.0 324.8,601.5 325.9,601.7 327.0,602.7 328.0,604.5 329.1,606.3 330.2,607.7 331.3,608.6 332.4,608.9 333.5,608.4 334.6,607.1 335.7,605.3 336.8,603.7 337.9,602.6 339.0,602.1 340.0,602.1 341.1,602.4 342.2,602.6 343.3,602.4 344.4,601.4 345.5,599.9 346.6,598.1 347.7,596.6 348.8,595.9 349.9,596.3 350.9,597.7 352.0,600.1 353.1,602.8 354.2,605.4 355.3,607.2 356.4,608.2 357.5,608.2 358.6,607.6 359.7,606.2 360.8,604.7 361.9,602.9 362.9,601.1 364.0,599.1 365.1,597.4 366.2,596.0 367.3,594.9 368.4,593.9 369.5,593.1 370.6,592.7 371.7,592.8 372.8,593.0 373.9,592.8 374.9,592.3 376.0,592.2 377.1,592.6 378.2,593.2 379.3,593.2 380.4,592.4 381.5,591.0 382.6,589.8 383.7,588.5 384.8,586.7 385.9,584.9 386.9,583.7 388.0,583.7 389.1,585.1 390.2,587.1 391.3,588.8 392.4,591.0 392.4,622.3 391.3,621.0 390.2,620.0 389.1,618.8 388.0,617.9 386.9,617.8 385.9,618.4 384.8,619.4 383.7,620.4 382.6,620.9 381.5,621.4 380.4,622.1 379.3,622.4 378.2,622.4 377.1,621.9 376.0,621.5 374.9,621.6 373.9,621.9 372.8,622.0 371.7,621.8 370.6,621.6 369.5,621.8 368.4,622.2 367.3,622.7 366.2,623.3 365.1,624.1 364.0,625.2 362.9,626.4 361.9,627.5 360.8,628.6 359.7,629.6 358.6,630.4 357.5,630.8 356.4,630.9 355.3,630.4 354.2,629.4 353.1,627.9 352.0,626.2 350.9,624.9 349.9,624.1 348.8,623.9 347.7,624.3 346.6,625.2 345.5,626.3 344.4,627.1 343.3,627.5 342.2,627.5 341.1,627.2 340.0,626.8 339.0,626.7 337.9,627.0 336.8,627.6 335.7,628.7 334.6,629.9 333.5,630.8 332.4,631.3 331.3,631.3 330.2,630.8 329.1,630.0 328.0,628.8 327.0,627.7 325.9,627.0 324.8,626.8 323.7,627.0 322.6,627.5 321.5,628.1 320.4,628.8 319.3,629.6 318.2,630.2 317.1,630.6 316.0,631.0 315.0,631.5 313.9,632.0 312.8,632.5 311.7,633.1 310.6,633.7 309.5,634.2 308.4,634.6 307.3,634.9 306.2,635.1 305.1,635.3 304.0,635.4 303.0,635.6 301.9,635.8 300.8,636.0 299.7,636.4 298.6,636.7 297.5,637.1 296.4,637.5 295.3,637.9 294.2,638.2 293.1,638.6 292.0,639.0 291.0,639.3 289.9,639.7 288.8,640.0 287.7,640.4 286.6,640.8 285.5,641.1 284.4,641.5 283.3,641.8 282.2,642.1 281.1,642.4 280.0,642.7 279.0,643.0 277.9,643.3 276.8,643.5 275.7,643.8 274.6,644.0 273.5,644.3 272.4,644.5 271.3,644.8 270.2,645.0 269.1,645.2 268.1,645.4 267.0,645.6 265.9,645.8 264.8,646.0 263.7,646.2 262.6,646.3 261.5,646.5 260.4,646.7 259.3,646.8 258.2,647.0 257.1,647.1 256.1,647.2 255.0,647.4 253.9,647.5 252.8,647.6 251.7,647.6 250.6,647.7 249.5,647.8 248.4,647.8 247.3,647.9 246.2,647.9 245.1,648.0 244.1,648.0 243.0,648.0 241.9,648.1 240.8,648.1 239.7,648.2 238.6,648.2 237.5,648.3 236.4,648.3 235.3,648.4 234.2,648.4 233.1,648.5 232.1,648.5 231.0,648.5 229.9,648.6 228.8,648.6 227.7,648.6 226.6,648.6" fill="#e6e6e6" stroke="none"/>
<polyline points="226.0,640.3 256.6,640.3 267.7,638.3 281.7,632.7 295.6,623.0 306.0,616.7 309.5,618.4 311.2,611.1 314.6,608.0 321.3,605.1 322.7,603.9 323.8,598.4 324.7,594.2 326.4,584.4 327.2,590.5 328.9,612.5 331.1,612.7 333.5,612.9 336.1,599.2 338.2,596.9 339.0,592.4 340.2,591.3 341.9,602.6 343.2,607.8 344.4,612.4 346.3,606.2 347.5,587.8 348.6,576.5 351.2,579.4 352.5,603.3 353.4,613.8 354.2,621.9 355.4,619.4 356.7,608.2 357.6,603.1 359.8,596.9 361.8,608.5 363.5,604.1 364.3,599.8 365.2,593.3 366.5,585.3 368.9,587.7 370.6,587.1 371.9,602.9 373.1,601.5 374.9,577.5 377.3,587.5 378.7,601.9 379.5,600.0 380.3,591.0 382.0,578.6 383.7,607.0 385.4,582.4 386.3,570.4 387.1,558.9 387.9,551.0 390.1,598.6 391.3,600.9 393.0,603.0" fill="none" stroke="#333" stroke-width="1" stroke-dasharray="4.3,2.9"/>
<polyline points="226.0,649.4 253.8,648.0 267.7,645.9 281.7,643.1 295.6,639.0 306.0,635.5 309.5,638.8 311.2,634.3 314.6,632.6 321.3,632.5 322.7,632.1 323.8,627.7 324.7,625.5 326.4,621.0 327.2,623.8 328.9,638.2 331.1,636.8 333.5,636.5 336.1,628.0 338.2,626.8 339.0,624.7 340.2,624.2 341.9,630.0 343.2,634.4 344.4,638.3 346.3,634.1 347.5,622.4 348.6,617.1 351.2,618.7 352.5,630.1 353.4,637.7 354.2,643.6 355.4,641.5 356.7,632.7 357.6,630.3 359.8,627.1 361.8,635.0 363.5,632.1 364.3,628.9 365.2,625.0 366.5,621.2 368.9,622.2 370.6,621.9 371.9,633.0 373.1,631.8 374.9,617.5 377.3,622.1 378.7,632.1 379.5,630.4 380.3,623.7 382.0,617.8 383.7,639.2 385.4,620.4 386.3,613.3 387.1,607.9 387.9,604.4 390.1,632.2 391.3,632.7 393.0,631.8" fill="none" stroke="#333" stroke-width="1" stroke-dasharray="4.3,2.9"/>
<polyline points="226.0,645.2 256.6,645.2 265.0,644.2 273.3,641.7 281.7,638.3 290.0,634.1 298.3,629.9 306.0,627.2 307.0,627.4 309.5,628.0 311.2,622.4 314.6,619.9 321.3,617.4 322.7,616.4 323.8,612.0 324.7,608.9 326.4,601.9 327.2,606.3 328.9,623.3 331.1,623.4 333.5,623.6 336.1,612.7 338.2,610.9 339.0,607.6 340.2,607.0 341.9,615.4 343.2,619.6 344.4,623.2 346.3,618.2 347.5,604.1 348.6,595.9 351.2,598.5 352.5,615.9 353.4,624.3 354.2,630.8 355.4,628.8 356.7,620.0 357.6,616.2 359.8,611.4 361.8,620.1 363.5,616.5 364.3,613.1 365.2,608.2 366.5,602.3 368.9,603.9 370.6,603.4 371.9,615.6 373.1,614.5 374.9,596.6 377.3,603.7 378.7,614.8 379.5,613.3 380.3,606.2 382.0,597.1 383.7,618.9 385.4,599.2 386.3,590.2 387.1,581.9 387.9,576.4 390.1,612.2 391.3,614.0 393.0,615.7" fill="none" stroke="#000" stroke-width="1.4" stroke-linejoin="round"/>
</g>
<path d="M307.0 625.2l2.7 3.1l-2.7 3.1l-2.7 -3.1z" fill="#ff1a1a"/>
<path d="M309.5 626.9l2.7 3.1l-2.7 3.1l-2.7 -3.1z" fill="#ff1a1a"/>
<path d="M322.7 615.1l2.7 3.1l-2.7 3.1l-2.7 -3.1z" fill="#ff1a1a"/>
<path d="M324.7 606.2l2.7 3.1l-2.7 3.1l-2.7 -3.1z" fill="#ff1a1a"/>
<path d="M327.2 601.1l2.7 3.1l-2.7 3.1l-2.7 -3.1z" fill="#ff1a1a"/>
<path d="M328.9 621.8l2.7 3.1l-2.7 3.1l-2.7 -3.1z" fill="#ff1a1a"/>
<path d="M331.1 620.2l2.7 3.1l-2.7 3.1l-2.7 -3.1z" fill="#ff1a1a"/>
<path d="M333.5 624.7l2.7 3.1l-2.7 3.1l-2.7 -3.1z" fill="#ff1a1a"/>
<path d="M336.1 610.5l2.7 3.1l-2.7 3.1l-2.7 -3.1z" fill="#ff1a1a"/>
<path d="M338.2 609.5l2.7 3.1l-2.7 3.1l-2.7 -3.1z" fill="#ff1a1a"/>
<path d="M340.2 602.1l2.7 3.1l-2.7 3.1l-2.7 -3.1z" fill="#ff1a1a"/>
<path d="M341.9 613.9l2.7 3.1l-2.7 3.1l-2.7 -3.1z" fill="#ff1a1a"/>
<path d="M344.4 623.5l2.7 3.1l-2.7 3.1l-2.7 -3.1z" fill="#ff1a1a"/>
<path d="M346.3 616.8l2.7 3.1l-2.7 3.1l-2.7 -3.1z" fill="#ff1a1a"/>
<path d="M348.6 591.5l2.7 3.1l-2.7 3.1l-2.7 -3.1z" fill="#ff1a1a"/>
<path d="M351.2 593.2l2.7 3.1l-2.7 3.1l-2.7 -3.1z" fill="#ff1a1a"/>
<path d="M353.4 624.7l2.7 3.1l-2.7 3.1l-2.7 -3.1z" fill="#ff1a1a"/>
<path d="M355.4 631.5l2.7 3.1l-2.7 3.1l-2.7 -3.1z" fill="#ff1a1a"/>
<path d="M357.6 614.3l2.7 3.1l-2.7 3.1l-2.7 -3.1z" fill="#ff1a1a"/>
<path d="M359.8 607.5l2.7 3.1l-2.7 3.1l-2.7 -3.1z" fill="#ff1a1a"/>
<path d="M361.8 621.0l2.7 3.1l-2.7 3.1l-2.7 -3.1z" fill="#ff1a1a"/>
<path d="M364.3 613.9l2.7 3.1l-2.7 3.1l-2.7 -3.1z" fill="#ff1a1a"/>
<path d="M366.5 600.4l2.7 3.1l-2.7 3.1l-2.7 -3.1z" fill="#ff1a1a"/>
<path d="M368.9 602.1l2.7 3.1l-2.7 3.1l-2.7 -3.1z" fill="#ff1a1a"/>
<path d="M370.6 601.1l2.7 3.1l-2.7 3.1l-2.7 -3.1z" fill="#ff1a1a"/>
<path d="M373.1 619.0l2.7 3.1l-2.7 3.1l-2.7 -3.1z" fill="#ff1a1a"/>
<path d="M374.9 592.7l2.7 3.1l-2.7 3.1l-2.7 -3.1z" fill="#ff1a1a"/>
<path d="M377.3 601.6l2.7 3.1l-2.7 3.1l-2.7 -3.1z" fill="#ff1a1a"/>
<path d="M379.5 615.9l2.7 3.1l-2.7 3.1l-2.7 -3.1z" fill="#ff1a1a"/>
<path d="M382.0 594.0l2.7 3.1l-2.7 3.1l-2.7 -3.1z" fill="#ff1a1a"/>
<path d="M383.7 623.5l2.7 3.1l-2.7 3.1l-2.7 -3.1z" fill="#ff1a1a"/>
<path d="M386.3 588.6l2.7 3.1l-2.7 3.1l-2.7 -3.1z" fill="#ff1a1a"/>
<path d="M387.9 571.7l2.7 3.1l-2.7 3.1l-2.7 -3.1z" fill="#ff1a1a"/>
<path d="M390.1 613.4l2.7 3.1l-2.7 3.1l-2.7 -3.1z" fill="#ff1a1a"/>
<rect x="226.6" y="536.6" width="165.8" height="118.0" fill="none" stroke="#000" stroke-width="1.3"/>
<path d="M270.2 654.6v-2.5M270.2 536.6v2.5M313.9 654.6v-2.5M313.9 536.6v2.5M357.5 654.6v-2.5M357.5 536.6v2.5M226.6 625.1h2.5M392.4 625.1h-2.5M226.6 595.6h2.5M392.4 595.6h-2.5M226.6 566.1h2.5M392.4 566.1h-2.5" stroke="#000" stroke-width="1.2" fill="none"/>
<text x="226.6" y="672" font-size="12" text-anchor="middle">1940</text>
<text x="270.2" y="672" font-size="12" text-anchor="middle">1960</text>
<text x="313.9" y="672" font-size="12" text-anchor="middle">1980</text>
<text x="357.5" y="672" font-size="12" text-anchor="middle">2000</text>
<text x="233.6" y="552.5" font-size="12">Grand, York (G6)</text>
<text x="233.6" y="569.9" font-size="12">KGE = 0.81</text>
<text x="374.2" y="553.1" font-size="18" font-weight="bold">n</text>
</g>
<text x="290" y="691.6" font-size="16" font-weight="bold">Year</text>
<text transform="translate(19,432.2) rotate(-90)" font-size="16.2" font-weight="bold">N Loading (kg N ha<tspan font-size="12" dy="-7.4">-1</tspan><tspan dy="7.4"> yr</tspan><tspan font-size="12" dy="-7.4">-1</tspan><tspan dy="7.4">)</tspan></text>
<text x="415" y="563" font-size="16" font-weight="bold">Legend</text>
<path d="M433 577.8l4.5 5.8l-4.5 5.8l-4.5 -5.8z" fill="#ff1a1a"/>
<text x="454" y="587.4" font-size="11.3" textLength="92" lengthAdjust="spacingAndGlyphs">Observed Loading</text>
<rect x="419" y="599" width="28" height="21.4" fill="#e6e6e6"/>
<path d="M419 599h28M419 620.4h28" stroke="#333" stroke-width="1" stroke-dasharray="4.2,3.2"/>
<path d="M419 609.6h28" stroke="#333" stroke-width="1.1"/>
<text x="454.6" y="614.4" font-size="11.3" textLength="91.4" lengthAdjust="spacingAndGlyphs">Modelled Loading</text>
</svg></body></html>
